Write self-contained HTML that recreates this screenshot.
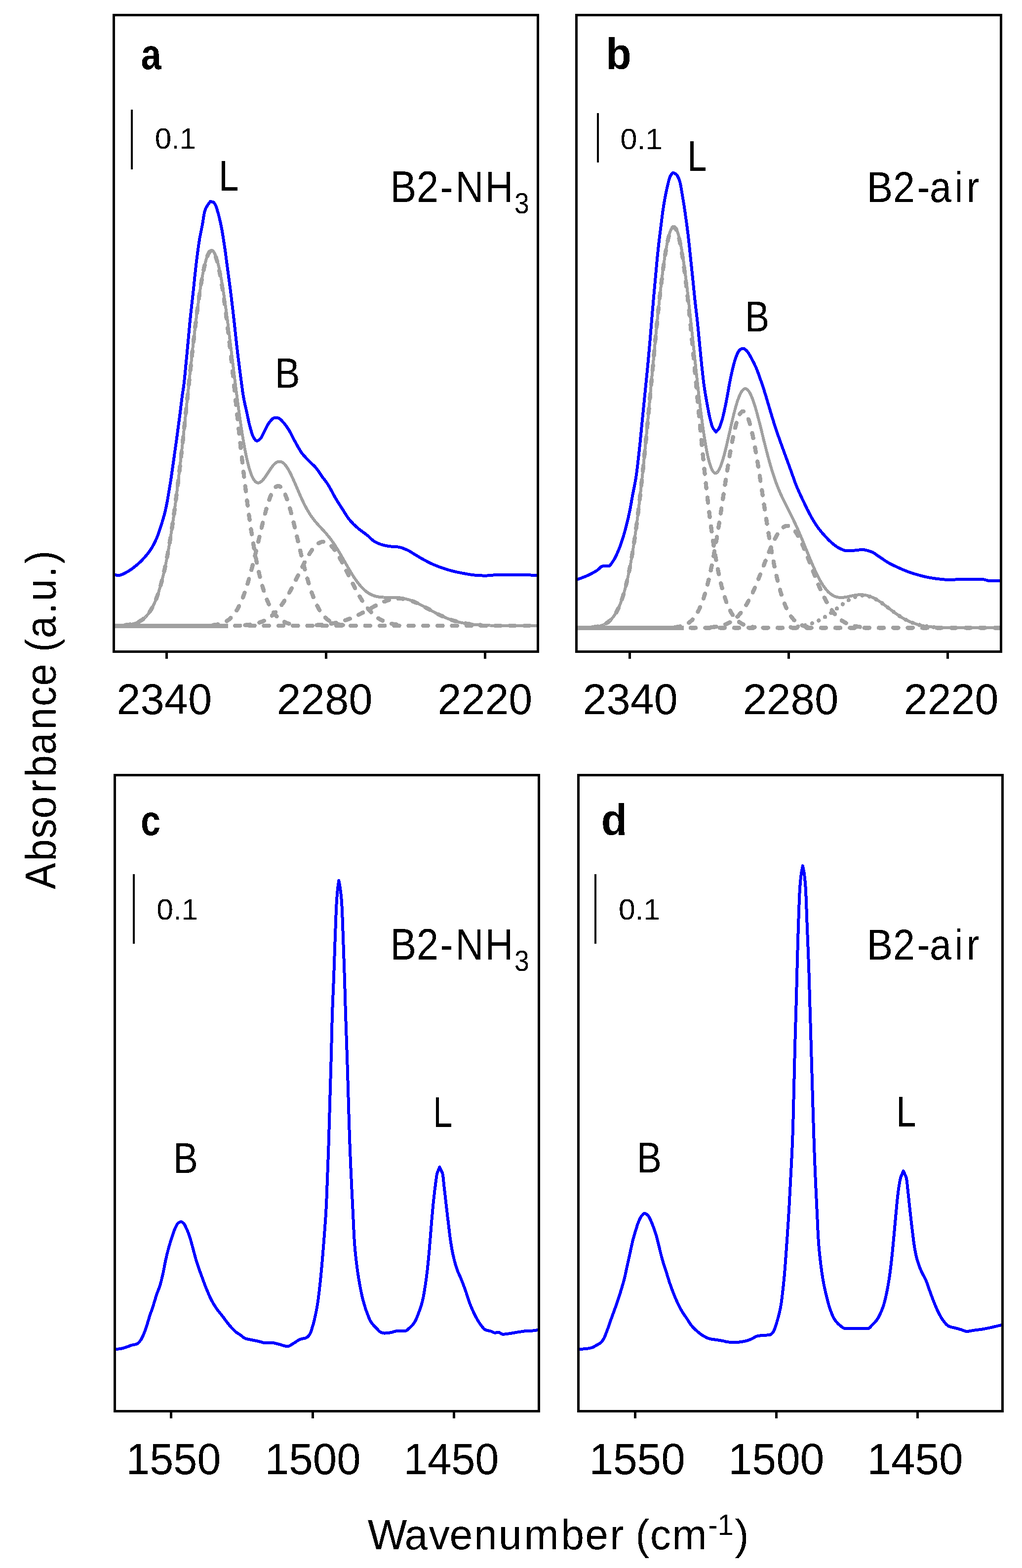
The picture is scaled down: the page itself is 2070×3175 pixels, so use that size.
<!DOCTYPE html>
<html lang="en"><head><meta charset="utf-8"><title>FTIR spectra</title>
<style>html,body{margin:0;padding:0;background:#fff}svg{display:block}text{font-family:"Liberation Sans",sans-serif;font-size:100px;fill:#000;font-kerning:none}</style></head><body>
<svg width="2070" height="3175" viewBox="0 0 2070 3175">
<rect width="2070" height="3175" fill="#fff"/>
<defs>
<clipPath id="clip-a"><rect x="230.5" y="30.5" width="859.0" height="1289.0"/></clipPath>
<clipPath id="clip-b"><rect x="1167.5" y="30.5" width="860.0" height="1289.0"/></clipPath>
<clipPath id="clip-c"><rect x="232.5" y="1569.5" width="859.0" height="1288.0"/></clipPath>
<clipPath id="clip-d"><rect x="1171.5" y="1569.5" width="859.0" height="1288.0"/></clipPath>
<filter id="bin" x="0" y="0" width="2070" height="3175" filterUnits="userSpaceOnUse" color-interpolation-filters="sRGB"><feComponentTransfer><feFuncA type="discrete" tableValues="0 1"/></feComponentTransfer></filter>
</defs>
<g clip-path="url(#clip-a)" fill="none" stroke="#a0a0a0" stroke-linejoin="round" shape-rendering="crispEdges">
<path d="M253.5 1265.8 L254.5 1265.7 L255.5 1265.6 L256.5 1265.5 L257.5 1265.4 L258.5 1265.2 L259.5 1265.1 L260.5 1265.0 L261.5 1264.8 L262.5 1264.7 L263.5 1264.5 L264.5 1264.3 L265.5 1264.1 L266.5 1263.9 L267.5 1263.7 L268.5 1263.5 L269.5 1263.2 L270.5 1263.0 L271.5 1262.7 L272.5 1262.4 L273.5 1262.1 L274.5 1261.8 L275.5 1261.4 L276.5 1261.1 L277.5 1260.7 L278.5 1260.3 L279.5 1259.8 L280.5 1259.4 L281.5 1258.9 L282.5 1258.4 L283.5 1257.8 L284.5 1257.2 L285.5 1256.6 L286.5 1256.0 L287.5 1255.3 L288.5 1254.6 L289.5 1253.9 L290.5 1253.1 L291.5 1252.2 L292.5 1251.4 L293.5 1250.4 L294.5 1249.5 L295.5 1248.5 L296.5 1247.4 L297.5 1246.3 L298.5 1245.1 L299.5 1243.9 L300.5 1242.6 L301.5 1241.3 L302.5 1239.9 L303.5 1238.4 L304.5 1236.9 L305.5 1235.2 L306.5 1233.6 L307.5 1231.8 L308.5 1230.0 L309.5 1228.1 L310.5 1226.1 L311.5 1224.0 L312.5 1221.9 L313.5 1219.6 L314.5 1217.3 L315.5 1214.8 L316.5 1212.3 L317.5 1209.7 L318.5 1207.0 L319.5 1204.1 L320.5 1201.2 L321.5 1198.2 L322.5 1195.0 L323.5 1191.7 L324.5 1188.4 L325.5 1184.9 L326.5 1181.2 L327.5 1177.5 L328.5 1173.6 L329.5 1169.7 L330.5 1165.5 L331.5 1161.3 L332.5 1156.9 L333.5 1152.4 L334.5 1147.8 L335.5 1143.0 L336.5 1138.1 L337.5 1133.0 L338.5 1127.8 L339.5 1122.5 L340.5 1117.0 L341.5 1111.4 L342.5 1105.6 L343.5 1099.7 L344.5 1093.7 L345.5 1087.5 L346.5 1081.2 L347.5 1074.7 L348.5 1068.1 L349.5 1061.3 L350.5 1054.4 L351.5 1047.4 L352.5 1040.2 L353.5 1032.9 L354.5 1025.5 L355.5 1017.9 L356.5 1010.2 L357.5 1002.4 L358.5 994.5 L359.5 986.4 L360.5 978.2 L361.5 969.9 L362.5 961.5 L363.5 953.0 L364.5 944.4 L365.5 935.6 L366.5 926.8 L367.5 917.9 L368.5 909.0 L369.5 899.9 L370.5 890.8 L371.5 881.6 L372.5 872.4 L373.5 863.1 L374.5 853.7 L375.5 844.4 L376.5 835.0 L377.5 825.5 L378.5 816.1 L379.5 806.6 L380.5 797.2 L381.5 787.7 L382.5 778.3 L383.5 768.9 L384.5 759.5 L385.5 750.2 L386.5 740.9 L387.5 731.7 L388.5 722.6 L389.5 713.5 L390.5 704.5 L391.5 695.6 L392.5 686.8 L393.5 678.2 L394.5 669.6 L395.5 661.2 L396.5 652.9 L397.5 644.8 L398.5 636.8 L399.5 629.0 L400.5 621.4 L401.5 613.9 L402.5 606.7 L403.5 599.6 L404.5 592.8 L405.5 586.1 L406.5 579.7 L407.5 573.6 L408.5 567.6 L409.5 561.9 L410.5 556.5 L411.5 551.3 L412.5 546.4 L413.5 541.8 L414.5 537.4 L415.5 533.4 L416.5 529.6 L417.5 526.1 L418.5 522.9 L419.5 520.0 L420.5 517.4 L421.5 515.1 L422.5 513.2 L423.5 511.5 L424.5 510.2 L425.5 509.2 L426.5 508.5 L427.5 508.1 L428.5 508.0 L429.5 508.3 L430.5 508.8 L431.5 509.7 L432.5 511.0 L433.5 512.5 L434.5 514.3 L435.5 516.5 L436.5 518.9 L437.5 521.7 L438.5 524.8 L439.5 528.2 L440.5 531.8 L441.5 535.8 L442.5 540.0 L443.5 544.5 L444.5 549.3 L445.5 554.4 L446.5 559.7 L447.5 565.3 L448.5 571.2 L449.5 577.2 L450.5 583.5 L451.5 590.1 L452.5 596.8 L453.5 603.8 L454.5 611.0 L455.5 618.4 L456.5 625.9 L457.5 633.7 L458.5 641.6 L459.5 649.6 L460.5 657.9 L461.5 666.2 L462.5 674.7 L463.5 683.4 L464.5 692.1 L465.5 700.9 L466.5 709.9 L467.5 718.9 L468.5 728.1 L469.5 737.2 L470.5 746.5 L471.5 755.8 L472.5 765.2 L473.5 774.6 L474.5 784.0 L475.5 793.4 L476.5 802.9 L477.5 812.3 L478.5 821.8 L479.5 831.2 L480.5 840.6 L481.5 850.0 L482.5 859.4 L483.5 868.7 L484.5 877.9 L485.5 887.1 L486.5 896.3 L487.5 905.4 L488.5 914.4 L489.5 923.3 L490.5 932.1 L491.5 940.9 L492.5 949.5 L493.5 958.1 L494.5 966.5 L495.5 974.9 L496.5 983.1 L497.5 991.2 L498.5 999.2 L499.5 1007.1 L500.5 1014.9 L501.5 1022.5 L502.5 1030.0 L503.5 1037.3 L504.5 1044.6 L505.5 1051.6 L506.5 1058.6 L507.5 1065.4 L508.5 1072.1 L509.5 1078.6 L510.5 1085.0 L511.5 1091.2 L512.5 1097.3 L513.5 1103.3 L514.5 1109.1 L515.5 1114.8 L516.5 1120.3 L517.5 1125.7 L518.5 1131.0 L519.5 1136.1 L520.5 1141.0 L521.5 1145.9 L522.5 1150.6 L523.5 1155.1 L524.5 1159.6 L525.5 1163.9 L526.5 1168.0 L527.5 1172.1 L528.5 1176.0 L529.5 1179.8 L530.5 1183.4 L531.5 1187.0 L532.5 1190.4 L533.5 1193.7 L534.5 1196.9 L535.5 1200.0 L536.5 1203.0 L537.5 1205.8 L538.5 1208.6 L539.5 1211.3 L540.5 1213.8 L541.5 1216.3 L542.5 1218.7 L543.5 1221.0 L544.5 1223.2 L545.5 1225.3 L546.5 1227.3 L547.5 1229.2 L548.5 1231.1 L549.5 1232.9 L550.5 1234.6 L551.5 1236.2 L552.5 1237.8 L553.5 1239.3 L554.5 1240.7 L555.5 1242.1 L556.5 1243.4 L557.5 1244.6 L558.5 1245.8 L559.5 1247.0 L560.5 1248.0 L561.5 1249.1 L562.5 1250.1 L563.5 1251.0 L564.5 1251.9 L565.5 1252.7 L566.5 1253.5 L567.5 1254.3 L568.5 1255.0 L569.5 1255.7 L570.5 1256.4 L571.5 1257.0 L572.5 1257.6 L573.5 1258.1 L574.5 1258.7 L575.5 1259.2 L576.5 1259.6 L577.5 1260.1 L578.5 1260.5 L579.5 1260.9 L580.5 1261.3 L581.5 1261.6 L582.5 1262.0 L583.5 1262.3 L584.5 1262.6 L585.5 1262.9 L586.5 1263.1 L587.5 1263.4 L588.5 1263.6 L589.5 1263.9 L590.5 1264.1 L591.5 1264.3 L592.5 1264.4 L593.5 1264.6 L594.5 1264.8 L595.5 1264.9 L596.5 1265.1 L597.5 1265.2 L598.5 1265.3 L599.5 1265.4 L600.5 1265.5 L601.5 1265.6 L602.5 1265.7" stroke-width="8.4" stroke-linecap="round" stroke-dasharray="10.3 19.0"/>
<path d="M431.5 1265.8 L432.5 1265.7 L433.5 1265.6 L434.5 1265.4 L435.5 1265.3 L436.5 1265.2 L437.5 1265.0 L438.5 1264.9 L439.5 1264.7 L440.5 1264.5 L441.5 1264.3 L442.5 1264.1 L443.5 1263.9 L444.5 1263.6 L445.5 1263.4 L446.5 1263.1 L447.5 1262.8 L448.5 1262.5 L449.5 1262.1 L450.5 1261.8 L451.5 1261.4 L452.5 1261.0 L453.5 1260.5 L454.5 1260.1 L455.5 1259.6 L456.5 1259.1 L457.5 1258.5 L458.5 1258.0 L459.5 1257.4 L460.5 1256.7 L461.5 1256.0 L462.5 1255.3 L463.5 1254.6 L464.5 1253.8 L465.5 1252.9 L466.5 1252.0 L467.5 1251.1 L468.5 1250.1 L469.5 1249.1 L470.5 1248.0 L471.5 1246.9 L472.5 1245.7 L473.5 1244.5 L474.5 1243.2 L475.5 1241.8 L476.5 1240.4 L477.5 1238.9 L478.5 1237.4 L479.5 1235.8 L480.5 1234.1 L481.5 1232.4 L482.5 1230.6 L483.5 1228.7 L484.5 1226.7 L485.5 1224.7 L486.5 1222.6 L487.5 1220.5 L488.5 1218.2 L489.5 1215.9 L490.5 1213.5 L491.5 1211.0 L492.5 1208.4 L493.5 1205.8 L494.5 1203.1 L495.5 1200.3 L496.5 1197.4 L497.5 1194.5 L498.5 1191.4 L499.5 1188.3 L500.5 1185.1 L501.5 1181.9 L502.5 1178.5 L503.5 1175.1 L504.5 1171.6 L505.5 1168.1 L506.5 1164.5 L507.5 1160.8 L508.5 1157.0 L509.5 1153.2 L510.5 1149.4 L511.5 1145.4 L512.5 1141.5 L513.5 1137.4 L514.5 1133.4 L515.5 1129.2 L516.5 1125.1 L517.5 1120.9 L518.5 1116.7 L519.5 1112.5 L520.5 1108.2 L521.5 1103.9 L522.5 1099.6 L523.5 1095.4 L524.5 1091.1 L525.5 1086.8 L526.5 1082.5 L527.5 1078.2 L528.5 1074.0 L529.5 1069.8 L530.5 1065.6 L531.5 1061.5 L532.5 1057.4 L533.5 1053.4 L534.5 1049.4 L535.5 1045.5 L536.5 1041.7 L537.5 1037.9 L538.5 1034.2 L539.5 1030.6 L540.5 1027.1 L541.5 1023.7 L542.5 1020.4 L543.5 1017.3 L544.5 1014.2 L545.5 1011.3 L546.5 1008.4 L547.5 1005.8 L548.5 1003.2 L549.5 1000.8 L550.5 998.6 L551.5 996.5 L552.5 994.5 L553.5 992.7 L554.5 991.1 L555.5 989.6 L556.5 988.3 L557.5 987.2 L558.5 986.2 L559.5 985.4 L560.5 984.8 L561.5 984.4 L562.5 984.1 L563.5 984.0 L564.5 984.1 L565.5 984.4 L566.5 984.8 L567.5 985.4 L568.5 986.2 L569.5 987.2 L570.5 988.3 L571.5 989.6 L572.5 991.1 L573.5 992.7 L574.5 994.5 L575.5 996.5 L576.5 998.6 L577.5 1000.8 L578.5 1003.2 L579.5 1005.8 L580.5 1008.4 L581.5 1011.3 L582.5 1014.2 L583.5 1017.3 L584.5 1020.4 L585.5 1023.7 L586.5 1027.1 L587.5 1030.6 L588.5 1034.2 L589.5 1037.9 L590.5 1041.7 L591.5 1045.5 L592.5 1049.4 L593.5 1053.4 L594.5 1057.4 L595.5 1061.5 L596.5 1065.6 L597.5 1069.8 L598.5 1074.0 L599.5 1078.2 L600.5 1082.5 L601.5 1086.8 L602.5 1091.1 L603.5 1095.4 L604.5 1099.6 L605.5 1103.9 L606.5 1108.2 L607.5 1112.5 L608.5 1116.7 L609.5 1120.9 L610.5 1125.1 L611.5 1129.2 L612.5 1133.4 L613.5 1137.4 L614.5 1141.5 L615.5 1145.4 L616.5 1149.4 L617.5 1153.2 L618.5 1157.0 L619.5 1160.8 L620.5 1164.5 L621.5 1168.1 L622.5 1171.6 L623.5 1175.1 L624.5 1178.5 L625.5 1181.9 L626.5 1185.1 L627.5 1188.3 L628.5 1191.4 L629.5 1194.5 L630.5 1197.4 L631.5 1200.3 L632.5 1203.1 L633.5 1205.8 L634.5 1208.4 L635.5 1211.0 L636.5 1213.5 L637.5 1215.9 L638.5 1218.2 L639.5 1220.5 L640.5 1222.6 L641.5 1224.7 L642.5 1226.7 L643.5 1228.7 L644.5 1230.6 L645.5 1232.4 L646.5 1234.1 L647.5 1235.8 L648.5 1237.4 L649.5 1238.9 L650.5 1240.4 L651.5 1241.8 L652.5 1243.2 L653.5 1244.5 L654.5 1245.7 L655.5 1246.9 L656.5 1248.0 L657.5 1249.1 L658.5 1250.1 L659.5 1251.1 L660.5 1252.0 L661.5 1252.9 L662.5 1253.8 L663.5 1254.6 L664.5 1255.3 L665.5 1256.0 L666.5 1256.7 L667.5 1257.4 L668.5 1258.0 L669.5 1258.5 L670.5 1259.1 L671.5 1259.6 L672.5 1260.1 L673.5 1260.5 L674.5 1261.0 L675.5 1261.4 L676.5 1261.8 L677.5 1262.1 L678.5 1262.5 L679.5 1262.8 L680.5 1263.1 L681.5 1263.4 L682.5 1263.6 L683.5 1263.9 L684.5 1264.1 L685.5 1264.3 L686.5 1264.5 L687.5 1264.7 L688.5 1264.9 L689.5 1265.0 L690.5 1265.2 L691.5 1265.3 L692.5 1265.4 L693.5 1265.6 L694.5 1265.7 L695.5 1265.8" stroke-width="8.4" stroke-linecap="round" stroke-dasharray="10.3 19.0"/>
<path d="M496.5 1265.7 L497.5 1265.7 L498.5 1265.6 L499.5 1265.5 L500.5 1265.4 L501.5 1265.3 L502.5 1265.2 L503.5 1265.1 L504.5 1265.0 L505.5 1264.8 L506.5 1264.7 L507.5 1264.6 L508.5 1264.4 L509.5 1264.3 L510.5 1264.1 L511.5 1264.0 L512.5 1263.8 L513.5 1263.6 L514.5 1263.4 L515.5 1263.2 L516.5 1263.0 L517.5 1262.8 L518.5 1262.5 L519.5 1262.3 L520.5 1262.0 L521.5 1261.8 L522.5 1261.5 L523.5 1261.2 L524.5 1260.9 L525.5 1260.6 L526.5 1260.2 L527.5 1259.9 L528.5 1259.5 L529.5 1259.2 L530.5 1258.8 L531.5 1258.4 L532.5 1257.9 L533.5 1257.5 L534.5 1257.0 L535.5 1256.5 L536.5 1256.0 L537.5 1255.5 L538.5 1255.0 L539.5 1254.4 L540.5 1253.9 L541.5 1253.3 L542.5 1252.6 L543.5 1252.0 L544.5 1251.3 L545.5 1250.6 L546.5 1249.9 L547.5 1249.2 L548.5 1248.4 L549.5 1247.7 L550.5 1246.8 L551.5 1246.0 L552.5 1245.2 L553.5 1244.3 L554.5 1243.3 L555.5 1242.4 L556.5 1241.4 L557.5 1240.4 L558.5 1239.4 L559.5 1238.4 L560.5 1237.3 L561.5 1236.2 L562.5 1235.0 L563.5 1233.9 L564.5 1232.7 L565.5 1231.4 L566.5 1230.2 L567.5 1228.9 L568.5 1227.6 L569.5 1226.2 L570.5 1224.8 L571.5 1223.4 L572.5 1222.0 L573.5 1220.5 L574.5 1219.0 L575.5 1217.5 L576.5 1216.0 L577.5 1214.4 L578.5 1212.8 L579.5 1211.2 L580.5 1209.5 L581.5 1207.8 L582.5 1206.1 L583.5 1204.4 L584.5 1202.6 L585.5 1200.8 L586.5 1199.0 L587.5 1197.2 L588.5 1195.3 L589.5 1193.4 L590.5 1191.6 L591.5 1189.6 L592.5 1187.7 L593.5 1185.8 L594.5 1183.8 L595.5 1181.8 L596.5 1179.9 L597.5 1177.9 L598.5 1175.9 L599.5 1173.8 L600.5 1171.8 L601.5 1169.8 L602.5 1167.8 L603.5 1165.7 L604.5 1163.7 L605.5 1161.6 L606.5 1159.6 L607.5 1157.6 L608.5 1155.6 L609.5 1153.5 L610.5 1151.5 L611.5 1149.5 L612.5 1147.5 L613.5 1145.6 L614.5 1143.6 L615.5 1141.7 L616.5 1139.7 L617.5 1137.8 L618.5 1135.9 L619.5 1134.1 L620.5 1132.3 L621.5 1130.5 L622.5 1128.7 L623.5 1126.9 L624.5 1125.2 L625.5 1123.6 L626.5 1121.9 L627.5 1120.3 L628.5 1118.8 L629.5 1117.3 L630.5 1115.8 L631.5 1114.4 L632.5 1113.0 L633.5 1111.7 L634.5 1110.4 L635.5 1109.2 L636.5 1108.0 L637.5 1106.9 L638.5 1105.8 L639.5 1104.8 L640.5 1103.8 L641.5 1102.9 L642.5 1102.1 L643.5 1101.3 L644.5 1100.6 L645.5 1100.0 L646.5 1099.4 L647.5 1098.9 L648.5 1098.4 L649.5 1098.0 L650.5 1097.7 L651.5 1097.4 L652.5 1097.2 L653.5 1097.1 L654.5 1097.0 L655.5 1097.0 L656.5 1097.1 L657.5 1097.2 L658.5 1097.4 L659.5 1097.7 L660.5 1098.0 L661.5 1098.4 L662.5 1098.9 L663.5 1099.4 L664.5 1100.0 L665.5 1100.6 L666.5 1101.3 L667.5 1102.1 L668.5 1102.9 L669.5 1103.8 L670.5 1104.8 L671.5 1105.8 L672.5 1106.9 L673.5 1108.0 L674.5 1109.2 L675.5 1110.4 L676.5 1111.7 L677.5 1113.0 L678.5 1114.4 L679.5 1115.8 L680.5 1117.3 L681.5 1118.8 L682.5 1120.3 L683.5 1121.9 L684.5 1123.6 L685.5 1125.2 L686.5 1126.9 L687.5 1128.7 L688.5 1130.5 L689.5 1132.3 L690.5 1134.1 L691.5 1135.9 L692.5 1137.8 L693.5 1139.7 L694.5 1141.7 L695.5 1143.6 L696.5 1145.6 L697.5 1147.5 L698.5 1149.5 L699.5 1151.5 L700.5 1153.5 L701.5 1155.6 L702.5 1157.6 L703.5 1159.6 L704.5 1161.6 L705.5 1163.7 L706.5 1165.7 L707.5 1167.8 L708.5 1169.8 L709.5 1171.8 L710.5 1173.8 L711.5 1175.9 L712.5 1177.9 L713.5 1179.9 L714.5 1181.8 L715.5 1183.8 L716.5 1185.8 L717.5 1187.7 L718.5 1189.6 L719.5 1191.6 L720.5 1193.4 L721.5 1195.3 L722.5 1197.2 L723.5 1199.0 L724.5 1200.8 L725.5 1202.6 L726.5 1204.4 L727.5 1206.1 L728.5 1207.8 L729.5 1209.5 L730.5 1211.2 L731.5 1212.8 L732.5 1214.4 L733.5 1216.0 L734.5 1217.5 L735.5 1219.0 L736.5 1220.5 L737.5 1222.0 L738.5 1223.4 L739.5 1224.8 L740.5 1226.2 L741.5 1227.6 L742.5 1228.9 L743.5 1230.2 L744.5 1231.4 L745.5 1232.7 L746.5 1233.9 L747.5 1235.0 L748.5 1236.2 L749.5 1237.3 L750.5 1238.4 L751.5 1239.4 L752.5 1240.4 L753.5 1241.4 L754.5 1242.4 L755.5 1243.3 L756.5 1244.3 L757.5 1245.2 L758.5 1246.0 L759.5 1246.8 L760.5 1247.7 L761.5 1248.4 L762.5 1249.2 L763.5 1249.9 L764.5 1250.6 L765.5 1251.3 L766.5 1252.0 L767.5 1252.6 L768.5 1253.3 L769.5 1253.9 L770.5 1254.4 L771.5 1255.0 L772.5 1255.5 L773.5 1256.0 L774.5 1256.5 L775.5 1257.0 L776.5 1257.5 L777.5 1257.9 L778.5 1258.4 L779.5 1258.8 L780.5 1259.2 L781.5 1259.5 L782.5 1259.9 L783.5 1260.2 L784.5 1260.6 L785.5 1260.9 L786.5 1261.2 L787.5 1261.5 L788.5 1261.8 L789.5 1262.0 L790.5 1262.3 L791.5 1262.5 L792.5 1262.8 L793.5 1263.0 L794.5 1263.2 L795.5 1263.4 L796.5 1263.6 L797.5 1263.8 L798.5 1264.0 L799.5 1264.1 L800.5 1264.3 L801.5 1264.4 L802.5 1264.6 L803.5 1264.7 L804.5 1264.8 L805.5 1265.0 L806.5 1265.1 L807.5 1265.2 L808.5 1265.3 L809.5 1265.4 L810.5 1265.5 L811.5 1265.6 L812.5 1265.7 L813.5 1265.7" stroke-width="8.4" stroke-linecap="round" stroke-dasharray="10.3 19.0"/>
<path d="M641.5 1265.8 L642.5 1265.7 L643.5 1265.6 L644.5 1265.6 L645.5 1265.5 L646.5 1265.4 L647.5 1265.4 L648.5 1265.3 L649.5 1265.2 L650.5 1265.1 L651.5 1265.1 L652.5 1265.0 L653.5 1264.9 L654.5 1264.8 L655.5 1264.7 L656.5 1264.6 L657.5 1264.5 L658.5 1264.4 L659.5 1264.3 L660.5 1264.2 L661.5 1264.1 L662.5 1263.9 L663.5 1263.8 L664.5 1263.7 L665.5 1263.6 L666.5 1263.4 L667.5 1263.3 L668.5 1263.1 L669.5 1263.0 L670.5 1262.8 L671.5 1262.7 L672.5 1262.5 L673.5 1262.4 L674.5 1262.2 L675.5 1262.0 L676.5 1261.8 L677.5 1261.6 L678.5 1261.4 L679.5 1261.2 L680.5 1261.0 L681.5 1260.8 L682.5 1260.6 L683.5 1260.4 L684.5 1260.2 L685.5 1259.9 L686.5 1259.7 L687.5 1259.4 L688.5 1259.2 L689.5 1258.9 L690.5 1258.7 L691.5 1258.4 L692.5 1258.1 L693.5 1257.8 L694.5 1257.5 L695.5 1257.2 L696.5 1256.9 L697.5 1256.6 L698.5 1256.3 L699.5 1256.0 L700.5 1255.7 L701.5 1255.3 L702.5 1255.0 L703.5 1254.6 L704.5 1254.3 L705.5 1253.9 L706.5 1253.5 L707.5 1253.2 L708.5 1252.8 L709.5 1252.4 L710.5 1252.0 L711.5 1251.6 L712.5 1251.2 L713.5 1250.8 L714.5 1250.3 L715.5 1249.9 L716.5 1249.5 L717.5 1249.0 L718.5 1248.6 L719.5 1248.1 L720.5 1247.7 L721.5 1247.2 L722.5 1246.7 L723.5 1246.3 L724.5 1245.8 L725.5 1245.3 L726.5 1244.8 L727.5 1244.3 L728.5 1243.8 L729.5 1243.3 L730.5 1242.8 L731.5 1242.3 L732.5 1241.8 L733.5 1241.2 L734.5 1240.7 L735.5 1240.2 L736.5 1239.6 L737.5 1239.1 L738.5 1238.6 L739.5 1238.0 L740.5 1237.5 L741.5 1236.9 L742.5 1236.4 L743.5 1235.8 L744.5 1235.3 L745.5 1234.7 L746.5 1234.2 L747.5 1233.6 L748.5 1233.1 L749.5 1232.5 L750.5 1232.0 L751.5 1231.4 L752.5 1230.9 L753.5 1230.3 L754.5 1229.8 L755.5 1229.3 L756.5 1228.7 L757.5 1228.2 L758.5 1227.6 L759.5 1227.1 L760.5 1226.6 L761.5 1226.1 L762.5 1225.5 L763.5 1225.0 L764.5 1224.5 L765.5 1224.0 L766.5 1223.5 L767.5 1223.0 L768.5 1222.6 L769.5 1222.1 L770.5 1221.6 L771.5 1221.2 L772.5 1220.7 L773.5 1220.3 L774.5 1219.8 L775.5 1219.4 L776.5 1219.0 L777.5 1218.6 L778.5 1218.2 L779.5 1217.8 L780.5 1217.4 L781.5 1217.0 L782.5 1216.7 L783.5 1216.3 L784.5 1216.0 L785.5 1215.7 L786.5 1215.4 L787.5 1215.1 L788.5 1214.8 L789.5 1214.5 L790.5 1214.3 L791.5 1214.0 L792.5 1213.8 L793.5 1213.6 L794.5 1213.4 L795.5 1213.2 L796.5 1213.0 L797.5 1212.8 L798.5 1212.7 L799.5 1212.5 L800.5 1212.4 L801.5 1212.3 L802.5 1212.2 L803.5 1212.2 L804.5 1212.1 L805.5 1212.0 L806.5 1212.0 L807.5 1212.0 L808.5 1212.0 L809.5 1212.0 L810.5 1212.0 L811.5 1212.1 L812.5 1212.2 L813.5 1212.2 L814.5 1212.3 L815.5 1212.4 L816.5 1212.5 L817.5 1212.7 L818.5 1212.8 L819.5 1213.0 L820.5 1213.2 L821.5 1213.4 L822.5 1213.6 L823.5 1213.8 L824.5 1214.0 L825.5 1214.3 L826.5 1214.5 L827.5 1214.8 L828.5 1215.1 L829.5 1215.4 L830.5 1215.7 L831.5 1216.0 L832.5 1216.3 L833.5 1216.7 L834.5 1217.0 L835.5 1217.4 L836.5 1217.8 L837.5 1218.2 L838.5 1218.6 L839.5 1219.0 L840.5 1219.4 L841.5 1219.8 L842.5 1220.3 L843.5 1220.7 L844.5 1221.2 L845.5 1221.6 L846.5 1222.1 L847.5 1222.6 L848.5 1223.0 L849.5 1223.5 L850.5 1224.0 L851.5 1224.5 L852.5 1225.0 L853.5 1225.5 L854.5 1226.1 L855.5 1226.6 L856.5 1227.1 L857.5 1227.6 L858.5 1228.2 L859.5 1228.7 L860.5 1229.3 L861.5 1229.8 L862.5 1230.3 L863.5 1230.9 L864.5 1231.4 L865.5 1232.0 L866.5 1232.5 L867.5 1233.1 L868.5 1233.6 L869.5 1234.2 L870.5 1234.7 L871.5 1235.3 L872.5 1235.8 L873.5 1236.4 L874.5 1236.9 L875.5 1237.5 L876.5 1238.0 L877.5 1238.6 L878.5 1239.1 L879.5 1239.6 L880.5 1240.2 L881.5 1240.7 L882.5 1241.2 L883.5 1241.8 L884.5 1242.3 L885.5 1242.8 L886.5 1243.3 L887.5 1243.8 L888.5 1244.3 L889.5 1244.8 L890.5 1245.3 L891.5 1245.8 L892.5 1246.3 L893.5 1246.7 L894.5 1247.2 L895.5 1247.7 L896.5 1248.1 L897.5 1248.6 L898.5 1249.0 L899.5 1249.5 L900.5 1249.9 L901.5 1250.3 L902.5 1250.8 L903.5 1251.2 L904.5 1251.6 L905.5 1252.0 L906.5 1252.4 L907.5 1252.8 L908.5 1253.2 L909.5 1253.5 L910.5 1253.9 L911.5 1254.3 L912.5 1254.6 L913.5 1255.0 L914.5 1255.3 L915.5 1255.7 L916.5 1256.0 L917.5 1256.3 L918.5 1256.6 L919.5 1256.9 L920.5 1257.2 L921.5 1257.5 L922.5 1257.8 L923.5 1258.1 L924.5 1258.4 L925.5 1258.7 L926.5 1258.9 L927.5 1259.2 L928.5 1259.4 L929.5 1259.7 L930.5 1259.9 L931.5 1260.2 L932.5 1260.4 L933.5 1260.6 L934.5 1260.8 L935.5 1261.0 L936.5 1261.2 L937.5 1261.4 L938.5 1261.6 L939.5 1261.8 L940.5 1262.0 L941.5 1262.2 L942.5 1262.4 L943.5 1262.5 L944.5 1262.7 L945.5 1262.8 L946.5 1263.0 L947.5 1263.1 L948.5 1263.3 L949.5 1263.4 L950.5 1263.6 L951.5 1263.7 L952.5 1263.8 L953.5 1263.9 L954.5 1264.1 L955.5 1264.2 L956.5 1264.3 L957.5 1264.4 L958.5 1264.5 L959.5 1264.6 L960.5 1264.7 L961.5 1264.8 L962.5 1264.9 L963.5 1265.0 L964.5 1265.1 L965.5 1265.1 L966.5 1265.2 L967.5 1265.3 L968.5 1265.4 L969.5 1265.4 L970.5 1265.5 L971.5 1265.6 L972.5 1265.6 L973.5 1265.7 L974.5 1265.8" stroke-width="8.4" stroke-linecap="round" stroke-dasharray="10.3 19.0"/>
<path d="M230.0 1267.0 L462.0 1267.0" stroke-width="9.0" />
<path d="M476.0 1267.0 L1090.0 1267.0" stroke-width="8.4" stroke-linecap="round" stroke-dasharray="10.3 19.0"/>
<path d="M230.5 1266.8 L231.5 1266.8 L232.5 1266.8 L233.5 1266.7 L234.5 1266.7 L235.5 1266.7 L236.5 1266.7 L237.5 1266.6 L238.5 1266.6 L239.5 1266.6 L240.5 1266.5 L241.5 1266.5 L242.5 1266.5 L243.5 1266.4 L244.5 1266.4 L245.5 1266.3 L246.5 1266.3 L247.5 1266.2 L248.5 1266.2 L249.5 1266.1 L250.5 1266.0 L251.5 1265.9 L252.5 1265.9 L253.5 1265.8 L254.5 1265.7 L255.5 1265.6 L256.5 1265.5 L257.5 1265.4 L258.5 1265.2 L259.5 1265.1 L260.5 1265.0 L261.5 1264.8 L262.5 1264.7 L263.5 1264.5 L264.5 1264.3 L265.5 1264.1 L266.5 1263.9 L267.5 1263.7 L268.5 1263.5 L269.5 1263.2 L270.5 1263.0 L271.5 1262.7 L272.5 1262.4 L273.5 1262.1 L274.5 1261.8 L275.5 1261.4 L276.5 1261.1 L277.5 1260.7 L278.5 1260.3 L279.5 1259.8 L280.5 1259.4 L281.5 1258.9 L282.5 1258.4 L283.5 1257.8 L284.5 1257.2 L285.5 1256.6 L286.5 1256.0 L287.5 1255.3 L288.5 1254.6 L289.5 1253.9 L290.5 1253.1 L291.5 1252.2 L292.5 1251.4 L293.5 1250.4 L294.5 1249.5 L295.5 1248.5 L296.5 1247.4 L297.5 1246.3 L298.5 1245.1 L299.5 1243.9 L300.5 1242.6 L301.5 1241.3 L302.5 1239.9 L303.5 1238.4 L304.5 1236.9 L305.5 1235.2 L306.5 1233.6 L307.5 1231.8 L308.5 1230.0 L309.5 1228.1 L310.5 1226.1 L311.5 1224.0 L312.5 1221.9 L313.5 1219.6 L314.5 1217.3 L315.5 1214.8 L316.5 1212.3 L317.5 1209.7 L318.5 1207.0 L319.5 1204.1 L320.5 1201.2 L321.5 1198.2 L322.5 1195.0 L323.5 1191.7 L324.5 1188.4 L325.5 1184.9 L326.5 1181.2 L327.5 1177.5 L328.5 1173.6 L329.5 1169.7 L330.5 1165.5 L331.5 1161.3 L332.5 1156.9 L333.5 1152.4 L334.5 1147.8 L335.5 1143.0 L336.5 1138.1 L337.5 1133.0 L338.5 1127.8 L339.5 1122.5 L340.5 1117.0 L341.5 1111.4 L342.5 1105.6 L343.5 1099.7 L344.5 1093.7 L345.5 1087.5 L346.5 1081.2 L347.5 1074.7 L348.5 1068.1 L349.5 1061.3 L350.5 1054.4 L351.5 1047.4 L352.5 1040.2 L353.5 1032.9 L354.5 1025.5 L355.5 1017.9 L356.5 1010.2 L357.5 1002.4 L358.5 994.5 L359.5 986.4 L360.5 978.2 L361.5 969.9 L362.5 961.5 L363.5 953.0 L364.5 944.4 L365.5 935.6 L366.5 926.8 L367.5 917.9 L368.5 909.0 L369.5 899.9 L370.5 890.8 L371.5 881.6 L372.5 872.4 L373.5 863.1 L374.5 853.7 L375.5 844.4 L376.5 835.0 L377.5 825.5 L378.5 816.1 L379.5 806.6 L380.5 797.2 L381.5 787.7 L382.5 778.3 L383.5 768.9 L384.5 759.5 L385.5 750.2 L386.5 740.9 L387.5 731.7 L388.5 722.6 L389.5 713.5 L390.5 704.5 L391.5 695.6 L392.5 686.8 L393.5 678.1 L394.5 669.6 L395.5 661.1 L396.5 652.9 L397.5 644.7 L398.5 636.7 L399.5 628.9 L400.5 621.3 L401.5 613.8 L402.5 606.6 L403.5 599.5 L404.5 592.7 L405.5 586.0 L406.5 579.6 L407.5 573.4 L408.5 567.5 L409.5 561.8 L410.5 556.3 L411.5 551.1 L412.5 546.2 L413.5 541.5 L414.5 537.2 L415.5 533.1 L416.5 529.3 L417.5 525.7 L418.5 522.5 L419.5 519.6 L420.5 516.9 L421.5 514.6 L422.5 512.6 L423.5 510.9 L424.5 509.5 L425.5 508.4 L426.5 507.7 L427.5 507.2 L428.5 507.1 L429.5 507.2 L430.5 507.7 L431.5 508.5 L432.5 509.6 L433.5 511.0 L434.5 512.8 L435.5 514.8 L436.5 517.1 L437.5 519.7 L438.5 522.6 L439.5 525.8 L440.5 529.3 L441.5 533.1 L442.5 537.1 L443.5 541.4 L444.5 545.9 L445.5 550.7 L446.5 555.8 L447.5 561.1 L448.5 566.6 L449.5 572.3 L450.5 578.3 L451.5 584.4 L452.5 590.8 L453.5 597.3 L454.5 604.0 L455.5 610.9 L456.5 617.9 L457.5 625.1 L458.5 632.4 L459.5 639.9 L460.5 647.5 L461.5 655.1 L462.5 662.9 L463.5 670.8 L464.5 678.7 L465.5 686.7 L466.5 694.8 L467.5 702.9 L468.5 711.0 L469.5 719.2 L470.5 727.3 L471.5 735.5 L472.5 743.6 L473.5 751.8 L474.5 759.9 L475.5 767.9 L476.5 775.9 L477.5 783.9 L478.5 791.8 L479.5 799.6 L480.5 807.3 L481.5 814.9 L482.5 822.4 L483.5 829.8 L484.5 837.1 L485.5 844.2 L486.5 851.2 L487.5 858.1 L488.5 864.8 L489.5 871.4 L490.5 877.7 L491.5 884.0 L492.5 890.0 L493.5 895.8 L494.5 901.5 L495.5 907.0 L496.5 912.3 L497.5 917.4 L498.5 922.2 L499.5 926.9 L500.5 931.4 L501.5 935.6 L502.5 939.7 L503.5 943.5 L504.5 947.2 L505.5 950.6 L506.5 953.8 L507.5 956.8 L508.5 959.5 L509.5 962.1 L510.5 964.5 L511.5 966.6 L512.5 968.6 L513.5 970.3 L514.5 971.9 L515.5 973.2 L516.5 974.4 L517.5 975.4 L518.5 976.2 L519.5 976.8 L520.5 977.3 L521.5 977.6 L522.5 977.7 L523.5 977.7 L524.5 977.5 L525.5 977.2 L526.5 976.8 L527.5 976.2 L528.5 975.5 L529.5 974.7 L530.5 973.8 L531.5 972.8 L532.5 971.7 L533.5 970.6 L534.5 969.3 L535.5 968.0 L536.5 966.7 L537.5 965.3 L538.5 963.8 L539.5 962.3 L540.5 960.8 L541.5 959.3 L542.5 957.8 L543.5 956.2 L544.5 954.7 L545.5 953.2 L546.5 951.7 L547.5 950.2 L548.5 948.7 L549.5 947.3 L550.5 946.0 L551.5 944.7 L552.5 943.4 L553.5 942.2 L554.5 941.1 L555.5 940.1 L556.5 939.1 L557.5 938.2 L558.5 937.4 L559.5 936.7 L560.5 936.1 L561.5 935.6 L562.5 935.2 L563.5 934.8 L564.5 934.6 L565.5 934.5 L566.5 934.5 L567.5 934.6 L568.5 934.8 L569.5 935.1 L570.5 935.5 L571.5 936.0 L572.5 936.6 L573.5 937.4 L574.5 938.2 L575.5 939.1 L576.5 940.1 L577.5 941.3 L578.5 942.5 L579.5 943.8 L580.5 945.2 L581.5 946.7 L582.5 948.2 L583.5 949.9 L584.5 951.6 L585.5 953.4 L586.5 955.2 L587.5 957.1 L588.5 959.1 L589.5 961.1 L590.5 963.2 L591.5 965.3 L592.5 967.5 L593.5 969.7 L594.5 971.9 L595.5 974.2 L596.5 976.4 L597.5 978.7 L598.5 981.1 L599.5 983.4 L600.5 985.7 L601.5 988.1 L602.5 990.4 L603.5 992.7 L604.5 995.1 L605.5 997.4 L606.5 999.7 L607.5 1002.0 L608.5 1004.2 L609.5 1006.5 L610.5 1008.7 L611.5 1010.9 L612.5 1013.0 L613.5 1015.1 L614.5 1017.2 L615.5 1019.3 L616.5 1021.3 L617.5 1023.3 L618.5 1025.2 L619.5 1027.1 L620.5 1029.0 L621.5 1030.8 L622.5 1032.6 L623.5 1034.3 L624.5 1036.0 L625.5 1037.6 L626.5 1039.3 L627.5 1040.8 L628.5 1042.4 L629.5 1043.9 L630.5 1045.3 L631.5 1046.8 L632.5 1048.1 L633.5 1049.5 L634.5 1050.8 L635.5 1052.1 L636.5 1053.4 L637.5 1054.6 L638.5 1055.9 L639.5 1057.0 L640.5 1058.2 L641.5 1059.4 L642.5 1060.5 L643.5 1061.6 L644.5 1062.7 L645.5 1063.8 L646.5 1064.9 L647.5 1066.0 L648.5 1067.1 L649.5 1068.1 L650.5 1069.2 L651.5 1070.3 L652.5 1071.4 L653.5 1072.4 L654.5 1073.5 L655.5 1074.6 L656.5 1075.7 L657.5 1076.8 L658.5 1077.9 L659.5 1079.1 L660.5 1080.2 L661.5 1081.4 L662.5 1082.6 L663.5 1083.8 L664.5 1085.0 L665.5 1086.2 L666.5 1087.5 L667.5 1088.8 L668.5 1090.1 L669.5 1091.4 L670.5 1092.7 L671.5 1094.1 L672.5 1095.5 L673.5 1096.9 L674.5 1098.3 L675.5 1099.8 L676.5 1101.3 L677.5 1102.8 L678.5 1104.3 L679.5 1105.8 L680.5 1107.4 L681.5 1109.0 L682.5 1110.6 L683.5 1112.2 L684.5 1113.8 L685.5 1115.5 L686.5 1117.1 L687.5 1118.8 L688.5 1120.5 L689.5 1122.2 L690.5 1123.9 L691.5 1125.6 L692.5 1127.4 L693.5 1129.1 L694.5 1130.9 L695.5 1132.6 L696.5 1134.4 L697.5 1136.1 L698.5 1137.9 L699.5 1139.6 L700.5 1141.4 L701.5 1143.1 L702.5 1144.9 L703.5 1146.6 L704.5 1148.4 L705.5 1150.1 L706.5 1151.8 L707.5 1153.5 L708.5 1155.2 L709.5 1156.8 L710.5 1158.5 L711.5 1160.1 L712.5 1161.8 L713.5 1163.4 L714.5 1165.0 L715.5 1166.5 L716.5 1168.1 L717.5 1169.6 L718.5 1171.1 L719.5 1172.5 L720.5 1174.0 L721.5 1175.4 L722.5 1176.8 L723.5 1178.2 L724.5 1179.5 L725.5 1180.8 L726.5 1182.1 L727.5 1183.3 L728.5 1184.6 L729.5 1185.7 L730.5 1186.9 L731.5 1188.0 L732.5 1189.1 L733.5 1190.2 L734.5 1191.2 L735.5 1192.2 L736.5 1193.2 L737.5 1194.1 L738.5 1195.0 L739.5 1195.9 L740.5 1196.7 L741.5 1197.5 L742.5 1198.3 L743.5 1199.0 L744.5 1199.7 L745.5 1200.4 L746.5 1201.0 L747.5 1201.7 L748.5 1202.3 L749.5 1202.8 L750.5 1203.3 L751.5 1203.8 L752.5 1204.3 L753.5 1204.8 L754.5 1205.2 L755.5 1205.6 L756.5 1206.0 L757.5 1206.3 L758.5 1206.7 L759.5 1207.0 L760.5 1207.2 L761.5 1207.5 L762.5 1207.7 L763.5 1208.0 L764.5 1208.2 L765.5 1208.4 L766.5 1208.5 L767.5 1208.7 L768.5 1208.8 L769.5 1208.9 L770.5 1209.1 L771.5 1209.1 L772.5 1209.2 L773.5 1209.3 L774.5 1209.4 L775.5 1209.4 L776.5 1209.5 L777.5 1209.5 L778.5 1209.5 L779.5 1209.5 L780.5 1209.6 L781.5 1209.6 L782.5 1209.6 L783.5 1209.6 L784.5 1209.6 L785.5 1209.6 L786.5 1209.6 L787.5 1209.6 L788.5 1209.5 L789.5 1209.5 L790.5 1209.5 L791.5 1209.5 L792.5 1209.5 L793.5 1209.5 L794.5 1209.6 L795.5 1209.6 L796.5 1209.6 L797.5 1209.6 L798.5 1209.6 L799.5 1209.7 L800.5 1209.7 L801.5 1209.7 L802.5 1209.8 L803.5 1209.9 L804.5 1209.9 L805.5 1210.0 L806.5 1210.1 L807.5 1210.2 L808.5 1210.3 L809.5 1210.4 L810.5 1210.5 L811.5 1210.7 L812.5 1210.8 L813.5 1211.0 L814.5 1211.1 L815.5 1211.3 L816.5 1211.5 L817.5 1211.7 L818.5 1211.9 L819.5 1212.1 L820.5 1212.4 L821.5 1212.6 L822.5 1212.8 L823.5 1213.1 L824.5 1213.4 L825.5 1213.7 L826.5 1214.0 L827.5 1214.3 L828.5 1214.6 L829.5 1214.9 L830.5 1215.3 L831.5 1215.6 L832.5 1216.0 L833.5 1216.3 L834.5 1216.7 L835.5 1217.1 L836.5 1217.5 L837.5 1217.9 L838.5 1218.3 L839.5 1218.8 L840.5 1219.2 L841.5 1219.6 L842.5 1220.1 L843.5 1220.5 L844.5 1221.0 L845.5 1221.5 L846.5 1221.9 L847.5 1222.4 L848.5 1222.9 L849.5 1223.4 L850.5 1223.9 L851.5 1224.4 L852.5 1225.0 L853.5 1225.5 L854.5 1226.0 L855.5 1226.5 L856.5 1227.1 L857.5 1227.6 L858.5 1228.1 L859.5 1228.7 L860.5 1229.2 L861.5 1229.8 L862.5 1230.3 L863.5 1230.9 L864.5 1231.4 L865.5 1232.0 L866.5 1232.5 L867.5 1233.1 L868.5 1233.6 L869.5 1234.2 L870.5 1234.7 L871.5 1235.3 L872.5 1235.8 L873.5 1236.4 L874.5 1236.9 L875.5 1237.5 L876.5 1238.0 L877.5 1238.6 L878.5 1239.1 L879.5 1239.6 L880.5 1240.2 L881.5 1240.7 L882.5 1241.2 L883.5 1241.7 L884.5 1242.3 L885.5 1242.8 L886.5 1243.3 L887.5 1243.8 L888.5 1244.3 L889.5 1244.8 L890.5 1245.3 L891.5 1245.8 L892.5 1246.3 L893.5 1246.7 L894.5 1247.2 L895.5 1247.7 L896.5 1248.1 L897.5 1248.6 L898.5 1249.0 L899.5 1249.5 L900.5 1249.9 L901.5 1250.3 L902.5 1250.8 L903.5 1251.2 L904.5 1251.6 L905.5 1252.0 L906.5 1252.4 L907.5 1252.8 L908.5 1253.2 L909.5 1253.5 L910.5 1253.9 L911.5 1254.3 L912.5 1254.6 L913.5 1255.0 L914.5 1255.3 L915.5 1255.7 L916.5 1256.0 L917.5 1256.3 L918.5 1256.6 L919.5 1256.9 L920.5 1257.2 L921.5 1257.5 L922.5 1257.8 L923.5 1258.1 L924.5 1258.4 L925.5 1258.7 L926.5 1258.9 L927.5 1259.2 L928.5 1259.4 L929.5 1259.7 L930.5 1259.9 L931.5 1260.2 L932.5 1260.4 L933.5 1260.6 L934.5 1260.8 L935.5 1261.0 L936.5 1261.2 L937.5 1261.4 L938.5 1261.6 L939.5 1261.8 L940.5 1262.0 L941.5 1262.2 L942.5 1262.4 L943.5 1262.5 L944.5 1262.7 L945.5 1262.8 L946.5 1263.0 L947.5 1263.1 L948.5 1263.3 L949.5 1263.4 L950.5 1263.6 L951.5 1263.7 L952.5 1263.8 L953.5 1263.9 L954.5 1264.1 L955.5 1264.2 L956.5 1264.3 L957.5 1264.4 L958.5 1264.5 L959.5 1264.6 L960.5 1264.7 L961.5 1264.8 L962.5 1264.9 L963.5 1265.0 L964.5 1265.1 L965.5 1265.1 L966.5 1265.2 L967.5 1265.3 L968.5 1265.4 L969.5 1265.4 L970.5 1265.5 L971.5 1265.6 L972.5 1265.6 L973.5 1265.7 L974.5 1265.8 L975.5 1265.8 L976.5 1265.9 L977.5 1265.9 L978.5 1266.0 L979.5 1266.0 L980.5 1266.1 L981.5 1266.1 L982.5 1266.1 L983.5 1266.2 L984.5 1266.2 L985.5 1266.3 L986.5 1266.3 L987.5 1266.3 L988.5 1266.4 L989.5 1266.4 L990.5 1266.4 L991.5 1266.4 L992.5 1266.5 L993.5 1266.5 L994.5 1266.5 L995.5 1266.5 L996.5 1266.6 L997.5 1266.6 L998.5 1266.6 L999.5 1266.6 L1000.5 1266.7 L1001.5 1266.7 L1002.5 1266.7 L1003.5 1266.7 L1004.5 1266.7 L1005.5 1266.7 L1006.5 1266.7 L1007.5 1266.8 L1008.5 1266.8 L1009.5 1266.8 L1010.5 1266.8 L1011.5 1266.8 L1012.5 1266.8 L1013.5 1266.8 L1014.5 1266.8 L1015.5 1266.8 L1016.5 1266.9 L1017.5 1266.9 L1018.5 1266.9 L1019.5 1266.9 L1020.5 1266.9 L1021.5 1266.9 L1022.5 1266.9 L1023.5 1266.9 L1024.5 1266.9 L1025.5 1266.9 L1026.5 1266.9 L1027.5 1266.9 L1028.5 1266.9 L1029.5 1266.9 L1030.5 1266.9 L1031.5 1266.9 L1032.5 1266.9 L1033.5 1266.9 L1034.5 1267.0 L1035.5 1267.0 L1036.5 1267.0 L1037.5 1267.0 L1038.5 1267.0 L1039.5 1267.0 L1040.5 1267.0 L1041.5 1267.0 L1042.5 1267.0 L1043.5 1267.0 L1044.5 1267.0 L1045.5 1267.0 L1046.5 1267.0 L1047.5 1267.0 L1048.5 1267.0 L1049.5 1267.0 L1050.5 1267.0 L1051.5 1267.0 L1052.5 1267.0 L1053.5 1267.0 L1054.5 1267.0 L1055.5 1267.0 L1056.5 1267.0 L1057.5 1267.0 L1058.5 1267.0 L1059.5 1267.0 L1060.5 1267.0 L1061.5 1267.0 L1062.5 1267.0 L1063.5 1267.0 L1064.5 1267.0 L1065.5 1267.0 L1066.5 1267.0 L1067.5 1267.0 L1068.5 1267.0 L1069.5 1267.0 L1070.5 1267.0 L1071.5 1267.0 L1072.5 1267.0 L1073.5 1267.0 L1074.5 1267.0 L1075.5 1267.0 L1076.5 1267.0 L1077.5 1267.0 L1078.5 1267.0 L1079.5 1267.0 L1080.5 1267.0 L1081.5 1267.0 L1082.5 1267.0 L1083.5 1267.0 L1084.5 1267.0 L1085.5 1267.0 L1086.5 1267.0 L1087.5 1267.0 L1088.5 1267.0 L1089.5 1267.0" stroke-width="6.0"/>
</g>
<g clip-path="url(#clip-b)" fill="none" stroke="#a0a0a0" stroke-linejoin="round" shape-rendering="crispEdges">
<path d="M1200.5 1270.0 L1201.5 1269.9 L1202.5 1269.8 L1203.5 1269.7 L1204.5 1269.6 L1205.5 1269.4 L1206.5 1269.3 L1207.5 1269.1 L1208.5 1269.0 L1209.5 1268.8 L1210.5 1268.6 L1211.5 1268.4 L1212.5 1268.2 L1213.5 1267.9 L1214.5 1267.7 L1215.5 1267.4 L1216.5 1267.1 L1217.5 1266.8 L1218.5 1266.5 L1219.5 1266.1 L1220.5 1265.8 L1221.5 1265.4 L1222.5 1264.9 L1223.5 1264.5 L1224.5 1264.0 L1225.5 1263.5 L1226.5 1263.0 L1227.5 1262.4 L1228.5 1261.8 L1229.5 1261.2 L1230.5 1260.5 L1231.5 1259.8 L1232.5 1259.0 L1233.5 1258.2 L1234.5 1257.4 L1235.5 1256.5 L1236.5 1255.5 L1237.5 1254.5 L1238.5 1253.5 L1239.5 1252.4 L1240.5 1251.2 L1241.5 1250.0 L1242.5 1248.7 L1243.5 1247.3 L1244.5 1245.9 L1245.5 1244.4 L1246.5 1242.8 L1247.5 1241.1 L1248.5 1239.4 L1249.5 1237.6 L1250.5 1235.6 L1251.5 1233.6 L1252.5 1231.6 L1253.5 1229.4 L1254.5 1227.1 L1255.5 1224.7 L1256.5 1222.2 L1257.5 1219.6 L1258.5 1216.9 L1259.5 1214.0 L1260.5 1211.1 L1261.5 1208.0 L1262.5 1204.8 L1263.5 1201.5 L1264.5 1198.0 L1265.5 1194.4 L1266.5 1190.7 L1267.5 1186.8 L1268.5 1182.8 L1269.5 1178.7 L1270.5 1174.4 L1271.5 1169.9 L1272.5 1165.3 L1273.5 1160.5 L1274.5 1155.6 L1275.5 1150.5 L1276.5 1145.2 L1277.5 1139.8 L1278.5 1134.2 L1279.5 1128.5 L1280.5 1122.6 L1281.5 1116.5 L1282.5 1110.2 L1283.5 1103.8 L1284.5 1097.1 L1285.5 1090.4 L1286.5 1083.4 L1287.5 1076.3 L1288.5 1069.0 L1289.5 1061.5 L1290.5 1053.8 L1291.5 1046.0 L1292.5 1038.0 L1293.5 1029.8 L1294.5 1021.5 L1295.5 1013.0 L1296.5 1004.4 L1297.5 995.6 L1298.5 986.6 L1299.5 977.5 L1300.5 968.2 L1301.5 958.8 L1302.5 949.3 L1303.5 939.6 L1304.5 929.8 L1305.5 919.9 L1306.5 909.9 L1307.5 899.8 L1308.5 889.5 L1309.5 879.2 L1310.5 868.8 L1311.5 858.3 L1312.5 847.7 L1313.5 837.1 L1314.5 826.4 L1315.5 815.7 L1316.5 805.0 L1317.5 794.2 L1318.5 783.4 L1319.5 772.6 L1320.5 761.8 L1321.5 751.1 L1322.5 740.3 L1323.5 729.6 L1324.5 719.0 L1325.5 708.4 L1326.5 697.9 L1327.5 687.4 L1328.5 677.1 L1329.5 666.8 L1330.5 656.7 L1331.5 646.8 L1332.5 636.9 L1333.5 627.2 L1334.5 617.7 L1335.5 608.4 L1336.5 599.2 L1337.5 590.3 L1338.5 581.5 L1339.5 573.0 L1340.5 564.8 L1341.5 556.7 L1342.5 549.0 L1343.5 541.4 L1344.5 534.2 L1345.5 527.3 L1346.5 520.6 L1347.5 514.3 L1348.5 508.2 L1349.5 502.5 L1350.5 497.2 L1351.5 492.1 L1352.5 487.4 L1353.5 483.1 L1354.5 479.1 L1355.5 475.5 L1356.5 472.2 L1357.5 469.3 L1358.5 466.8 L1359.5 464.7 L1360.5 462.9 L1361.5 461.6 L1362.5 460.6 L1363.5 460.0 L1364.5 459.8 L1365.5 460.0 L1366.5 460.6 L1367.5 461.6 L1368.5 462.9 L1369.5 464.7 L1370.5 466.8 L1371.5 469.3 L1372.5 472.2 L1373.5 475.5 L1374.5 479.1 L1375.5 483.1 L1376.5 487.4 L1377.5 492.1 L1378.5 497.2 L1379.5 502.5 L1380.5 508.2 L1381.5 514.3 L1382.5 520.6 L1383.5 527.3 L1384.5 534.2 L1385.5 541.4 L1386.5 549.0 L1387.5 556.7 L1388.5 564.8 L1389.5 573.0 L1390.5 581.5 L1391.5 590.3 L1392.5 599.2 L1393.5 608.4 L1394.5 617.7 L1395.5 627.2 L1396.5 636.9 L1397.5 646.8 L1398.5 656.7 L1399.5 666.8 L1400.5 677.1 L1401.5 687.4 L1402.5 697.9 L1403.5 708.4 L1404.5 719.0 L1405.5 729.6 L1406.5 740.3 L1407.5 751.1 L1408.5 761.8 L1409.5 772.6 L1410.5 783.4 L1411.5 794.2 L1412.5 805.0 L1413.5 815.7 L1414.5 826.4 L1415.5 837.1 L1416.5 847.7 L1417.5 858.3 L1418.5 868.8 L1419.5 879.2 L1420.5 889.5 L1421.5 899.8 L1422.5 909.9 L1423.5 919.9 L1424.5 929.8 L1425.5 939.6 L1426.5 949.3 L1427.5 958.8 L1428.5 968.2 L1429.5 977.5 L1430.5 986.6 L1431.5 995.6 L1432.5 1004.4 L1433.5 1013.0 L1434.5 1021.5 L1435.5 1029.8 L1436.5 1038.0 L1437.5 1046.0 L1438.5 1053.8 L1439.5 1061.5 L1440.5 1069.0 L1441.5 1076.3 L1442.5 1083.4 L1443.5 1090.4 L1444.5 1097.1 L1445.5 1103.8 L1446.5 1110.2 L1447.5 1116.5 L1448.5 1122.6 L1449.5 1128.5 L1450.5 1134.2 L1451.5 1139.8 L1452.5 1145.2 L1453.5 1150.5 L1454.5 1155.6 L1455.5 1160.5 L1456.5 1165.3 L1457.5 1169.9 L1458.5 1174.4 L1459.5 1178.7 L1460.5 1182.8 L1461.5 1186.8 L1462.5 1190.7 L1463.5 1194.4 L1464.5 1198.0 L1465.5 1201.5 L1466.5 1204.8 L1467.5 1208.0 L1468.5 1211.1 L1469.5 1214.0 L1470.5 1216.9 L1471.5 1219.6 L1472.5 1222.2 L1473.5 1224.7 L1474.5 1227.1 L1475.5 1229.4 L1476.5 1231.6 L1477.5 1233.6 L1478.5 1235.6 L1479.5 1237.6 L1480.5 1239.4 L1481.5 1241.1 L1482.5 1242.8 L1483.5 1244.4 L1484.5 1245.9 L1485.5 1247.3 L1486.5 1248.7 L1487.5 1250.0 L1488.5 1251.2 L1489.5 1252.4 L1490.5 1253.5 L1491.5 1254.5 L1492.5 1255.5 L1493.5 1256.5 L1494.5 1257.4 L1495.5 1258.2 L1496.5 1259.0 L1497.5 1259.8 L1498.5 1260.5 L1499.5 1261.2 L1500.5 1261.8 L1501.5 1262.4 L1502.5 1263.0 L1503.5 1263.5 L1504.5 1264.0 L1505.5 1264.5 L1506.5 1264.9 L1507.5 1265.4 L1508.5 1265.8 L1509.5 1266.1 L1510.5 1266.5 L1511.5 1266.8 L1512.5 1267.1 L1513.5 1267.4 L1514.5 1267.7 L1515.5 1267.9 L1516.5 1268.2 L1517.5 1268.4 L1518.5 1268.6 L1519.5 1268.8 L1520.5 1269.0 L1521.5 1269.1 L1522.5 1269.3 L1523.5 1269.4 L1524.5 1269.6 L1525.5 1269.7 L1526.5 1269.8 L1527.5 1269.9 L1528.5 1270.0" stroke-width="8.4" stroke-linecap="round" stroke-dasharray="10.3 19.0"/>
<path d="M1367.5 1270.1 L1368.5 1270.0 L1369.5 1269.8 L1370.5 1269.7 L1371.5 1269.6 L1372.5 1269.4 L1373.5 1269.3 L1374.5 1269.1 L1375.5 1268.9 L1376.5 1268.7 L1377.5 1268.5 L1378.5 1268.3 L1379.5 1268.0 L1380.5 1267.8 L1381.5 1267.5 L1382.5 1267.2 L1383.5 1266.8 L1384.5 1266.5 L1385.5 1266.1 L1386.5 1265.7 L1387.5 1265.3 L1388.5 1264.9 L1389.5 1264.4 L1390.5 1263.9 L1391.5 1263.3 L1392.5 1262.7 L1393.5 1262.1 L1394.5 1261.5 L1395.5 1260.8 L1396.5 1260.0 L1397.5 1259.2 L1398.5 1258.4 L1399.5 1257.5 L1400.5 1256.6 L1401.5 1255.6 L1402.5 1254.6 L1403.5 1253.5 L1404.5 1252.3 L1405.5 1251.1 L1406.5 1249.8 L1407.5 1248.5 L1408.5 1247.1 L1409.5 1245.6 L1410.5 1244.0 L1411.5 1242.4 L1412.5 1240.6 L1413.5 1238.8 L1414.5 1236.9 L1415.5 1235.0 L1416.5 1232.9 L1417.5 1230.7 L1418.5 1228.5 L1419.5 1226.1 L1420.5 1223.7 L1421.5 1221.1 L1422.5 1218.5 L1423.5 1215.7 L1424.5 1212.8 L1425.5 1209.9 L1426.5 1206.8 L1427.5 1203.6 L1428.5 1200.2 L1429.5 1196.8 L1430.5 1193.2 L1431.5 1189.6 L1432.5 1185.8 L1433.5 1181.8 L1434.5 1177.8 L1435.5 1173.6 L1436.5 1169.4 L1437.5 1165.0 L1438.5 1160.4 L1439.5 1155.8 L1440.5 1151.0 L1441.5 1146.1 L1442.5 1141.1 L1443.5 1136.0 L1444.5 1130.8 L1445.5 1125.5 L1446.5 1120.0 L1447.5 1114.4 L1448.5 1108.8 L1449.5 1103.0 L1450.5 1097.2 L1451.5 1091.2 L1452.5 1085.2 L1453.5 1079.1 L1454.5 1072.9 L1455.5 1066.6 L1456.5 1060.3 L1457.5 1053.9 L1458.5 1047.4 L1459.5 1040.9 L1460.5 1034.4 L1461.5 1027.8 L1462.5 1021.2 L1463.5 1014.6 L1464.5 1008.0 L1465.5 1001.4 L1466.5 994.7 L1467.5 988.1 L1468.5 981.5 L1469.5 975.0 L1470.5 968.4 L1471.5 962.0 L1472.5 955.6 L1473.5 949.2 L1474.5 942.9 L1475.5 936.8 L1476.5 930.7 L1477.5 924.7 L1478.5 918.8 L1479.5 913.1 L1480.5 907.5 L1481.5 902.0 L1482.5 896.7 L1483.5 891.5 L1484.5 886.5 L1485.5 881.7 L1486.5 877.1 L1487.5 872.6 L1488.5 868.4 L1489.5 864.4 L1490.5 860.6 L1491.5 857.0 L1492.5 853.6 L1493.5 850.5 L1494.5 847.6 L1495.5 844.9 L1496.5 842.5 L1497.5 840.4 L1498.5 838.5 L1499.5 836.9 L1500.5 835.6 L1501.5 834.5 L1502.5 833.7 L1503.5 833.1 L1504.5 832.8 L1505.5 832.8 L1506.5 833.1 L1507.5 833.7 L1508.5 834.5 L1509.5 835.6 L1510.5 836.9 L1511.5 838.5 L1512.5 840.4 L1513.5 842.5 L1514.5 844.9 L1515.5 847.6 L1516.5 850.5 L1517.5 853.6 L1518.5 857.0 L1519.5 860.6 L1520.5 864.4 L1521.5 868.4 L1522.5 872.6 L1523.5 877.1 L1524.5 881.7 L1525.5 886.5 L1526.5 891.5 L1527.5 896.7 L1528.5 902.0 L1529.5 907.5 L1530.5 913.1 L1531.5 918.8 L1532.5 924.7 L1533.5 930.7 L1534.5 936.8 L1535.5 942.9 L1536.5 949.2 L1537.5 955.6 L1538.5 962.0 L1539.5 968.4 L1540.5 975.0 L1541.5 981.5 L1542.5 988.1 L1543.5 994.7 L1544.5 1001.4 L1545.5 1008.0 L1546.5 1014.6 L1547.5 1021.2 L1548.5 1027.8 L1549.5 1034.4 L1550.5 1040.9 L1551.5 1047.4 L1552.5 1053.9 L1553.5 1060.3 L1554.5 1066.6 L1555.5 1072.9 L1556.5 1079.1 L1557.5 1085.2 L1558.5 1091.2 L1559.5 1097.2 L1560.5 1103.0 L1561.5 1108.8 L1562.5 1114.4 L1563.5 1120.0 L1564.5 1125.5 L1565.5 1130.8 L1566.5 1136.0 L1567.5 1141.1 L1568.5 1146.1 L1569.5 1151.0 L1570.5 1155.8 L1571.5 1160.4 L1572.5 1165.0 L1573.5 1169.4 L1574.5 1173.6 L1575.5 1177.8 L1576.5 1181.8 L1577.5 1185.8 L1578.5 1189.6 L1579.5 1193.2 L1580.5 1196.8 L1581.5 1200.2 L1582.5 1203.6 L1583.5 1206.8 L1584.5 1209.9 L1585.5 1212.8 L1586.5 1215.7 L1587.5 1218.5 L1588.5 1221.1 L1589.5 1223.7 L1590.5 1226.1 L1591.5 1228.5 L1592.5 1230.7 L1593.5 1232.9 L1594.5 1235.0 L1595.5 1236.9 L1596.5 1238.8 L1597.5 1240.6 L1598.5 1242.4 L1599.5 1244.0 L1600.5 1245.6 L1601.5 1247.1 L1602.5 1248.5 L1603.5 1249.8 L1604.5 1251.1 L1605.5 1252.3 L1606.5 1253.5 L1607.5 1254.6 L1608.5 1255.6 L1609.5 1256.6 L1610.5 1257.5 L1611.5 1258.4 L1612.5 1259.2 L1613.5 1260.0 L1614.5 1260.8 L1615.5 1261.5 L1616.5 1262.1 L1617.5 1262.7 L1618.5 1263.3 L1619.5 1263.9 L1620.5 1264.4 L1621.5 1264.9 L1622.5 1265.3 L1623.5 1265.7 L1624.5 1266.1 L1625.5 1266.5 L1626.5 1266.8 L1627.5 1267.2 L1628.5 1267.5 L1629.5 1267.8 L1630.5 1268.0 L1631.5 1268.3 L1632.5 1268.5 L1633.5 1268.7 L1634.5 1268.9 L1635.5 1269.1 L1636.5 1269.3 L1637.5 1269.4 L1638.5 1269.6 L1639.5 1269.7 L1640.5 1269.8 L1641.5 1270.0 L1642.5 1270.1" stroke-width="8.4" stroke-linecap="round" stroke-dasharray="10.3 19.0"/>
<path d="M1440.5 1270.1 L1441.5 1270.0 L1442.5 1269.9 L1443.5 1269.8 L1444.5 1269.7 L1445.5 1269.6 L1446.5 1269.5 L1447.5 1269.4 L1448.5 1269.3 L1449.5 1269.1 L1450.5 1269.0 L1451.5 1268.8 L1452.5 1268.7 L1453.5 1268.5 L1454.5 1268.3 L1455.5 1268.1 L1456.5 1268.0 L1457.5 1267.7 L1458.5 1267.5 L1459.5 1267.3 L1460.5 1267.1 L1461.5 1266.8 L1462.5 1266.5 L1463.5 1266.3 L1464.5 1266.0 L1465.5 1265.7 L1466.5 1265.3 L1467.5 1265.0 L1468.5 1264.7 L1469.5 1264.3 L1470.5 1263.9 L1471.5 1263.5 L1472.5 1263.1 L1473.5 1262.6 L1474.5 1262.2 L1475.5 1261.7 L1476.5 1261.2 L1477.5 1260.6 L1478.5 1260.1 L1479.5 1259.5 L1480.5 1258.9 L1481.5 1258.3 L1482.5 1257.6 L1483.5 1257.0 L1484.5 1256.3 L1485.5 1255.5 L1486.5 1254.8 L1487.5 1254.0 L1488.5 1253.2 L1489.5 1252.3 L1490.5 1251.4 L1491.5 1250.5 L1492.5 1249.6 L1493.5 1248.6 L1494.5 1247.6 L1495.5 1246.6 L1496.5 1245.5 L1497.5 1244.4 L1498.5 1243.2 L1499.5 1242.1 L1500.5 1240.8 L1501.5 1239.6 L1502.5 1238.3 L1503.5 1236.9 L1504.5 1235.6 L1505.5 1234.2 L1506.5 1232.7 L1507.5 1231.2 L1508.5 1229.7 L1509.5 1228.1 L1510.5 1226.5 L1511.5 1224.9 L1512.5 1223.2 L1513.5 1221.5 L1514.5 1219.7 L1515.5 1217.9 L1516.5 1216.0 L1517.5 1214.2 L1518.5 1212.2 L1519.5 1210.3 L1520.5 1208.3 L1521.5 1206.2 L1522.5 1204.2 L1523.5 1202.0 L1524.5 1199.9 L1525.5 1197.7 L1526.5 1195.5 L1527.5 1193.3 L1528.5 1191.0 L1529.5 1188.7 L1530.5 1186.3 L1531.5 1184.0 L1532.5 1181.6 L1533.5 1179.1 L1534.5 1176.7 L1535.5 1174.2 L1536.5 1171.7 L1537.5 1169.2 L1538.5 1166.7 L1539.5 1164.2 L1540.5 1161.6 L1541.5 1159.0 L1542.5 1156.4 L1543.5 1153.9 L1544.5 1151.3 L1545.5 1148.7 L1546.5 1146.1 L1547.5 1143.4 L1548.5 1140.8 L1549.5 1138.2 L1550.5 1135.7 L1551.5 1133.1 L1552.5 1130.5 L1553.5 1128.0 L1554.5 1125.4 L1555.5 1122.9 L1556.5 1120.4 L1557.5 1117.9 L1558.5 1115.5 L1559.5 1113.1 L1560.5 1110.7 L1561.5 1108.3 L1562.5 1106.0 L1563.5 1103.8 L1564.5 1101.5 L1565.5 1099.3 L1566.5 1097.2 L1567.5 1095.1 L1568.5 1093.1 L1569.5 1091.1 L1570.5 1089.2 L1571.5 1087.3 L1572.5 1085.5 L1573.5 1083.7 L1574.5 1082.1 L1575.5 1080.5 L1576.5 1078.9 L1577.5 1077.4 L1578.5 1076.0 L1579.5 1074.7 L1580.5 1073.5 L1581.5 1072.3 L1582.5 1071.2 L1583.5 1070.2 L1584.5 1069.3 L1585.5 1068.5 L1586.5 1067.7 L1587.5 1067.0 L1588.5 1066.5 L1589.5 1066.0 L1590.5 1065.5 L1591.5 1065.2 L1592.5 1065.0 L1593.5 1064.9 L1594.5 1064.8 L1595.5 1064.8 L1596.5 1065.0 L1597.5 1065.2 L1598.5 1065.5 L1599.5 1065.9 L1600.5 1066.3 L1601.5 1066.9 L1602.5 1067.6 L1603.5 1068.3 L1604.5 1069.1 L1605.5 1070.0 L1606.5 1071.0 L1607.5 1072.1 L1608.5 1073.2 L1609.5 1074.5 L1610.5 1075.8 L1611.5 1077.2 L1612.5 1078.6 L1613.5 1080.1 L1614.5 1081.7 L1615.5 1083.4 L1616.5 1085.1 L1617.5 1086.9 L1618.5 1088.8 L1619.5 1090.7 L1620.5 1092.7 L1621.5 1094.7 L1622.5 1096.8 L1623.5 1098.9 L1624.5 1101.1 L1625.5 1103.3 L1626.5 1105.6 L1627.5 1107.9 L1628.5 1110.2 L1629.5 1112.6 L1630.5 1115.0 L1631.5 1117.4 L1632.5 1119.9 L1633.5 1122.4 L1634.5 1124.9 L1635.5 1127.4 L1636.5 1130.0 L1637.5 1132.6 L1638.5 1135.1 L1639.5 1137.7 L1640.5 1140.3 L1641.5 1142.9 L1642.5 1145.5 L1643.5 1148.1 L1644.5 1150.7 L1645.5 1153.3 L1646.5 1155.9 L1647.5 1158.5 L1648.5 1161.1 L1649.5 1163.6 L1650.5 1166.2 L1651.5 1168.7 L1652.5 1171.2 L1653.5 1173.7 L1654.5 1176.2 L1655.5 1178.7 L1656.5 1181.1 L1657.5 1183.5 L1658.5 1185.9 L1659.5 1188.2 L1660.5 1190.5 L1661.5 1192.8 L1662.5 1195.1 L1663.5 1197.3 L1664.5 1199.5 L1665.5 1201.6 L1666.5 1203.7 L1667.5 1205.8 L1668.5 1207.9 L1669.5 1209.9 L1670.5 1211.8 L1671.5 1213.8 L1672.5 1215.7 L1673.5 1217.5 L1674.5 1219.3 L1675.5 1221.1 L1676.5 1222.8 L1677.5 1224.5 L1678.5 1226.2 L1679.5 1227.8 L1680.5 1229.4 L1681.5 1230.9 L1682.5 1232.4 L1683.5 1233.9 L1684.5 1235.3 L1685.5 1236.7 L1686.5 1238.0 L1687.5 1239.3 L1688.5 1240.6 L1689.5 1241.8 L1690.5 1243.0 L1691.5 1244.2 L1692.5 1245.3 L1693.5 1246.4 L1694.5 1247.4 L1695.5 1248.4 L1696.5 1249.4 L1697.5 1250.4 L1698.5 1251.3 L1699.5 1252.2 L1700.5 1253.0 L1701.5 1253.8 L1702.5 1254.6 L1703.5 1255.4 L1704.5 1256.1 L1705.5 1256.8 L1706.5 1257.5 L1707.5 1258.2 L1708.5 1258.8 L1709.5 1259.4 L1710.5 1260.0 L1711.5 1260.5 L1712.5 1261.1 L1713.5 1261.6 L1714.5 1262.1 L1715.5 1262.5 L1716.5 1263.0 L1717.5 1263.4 L1718.5 1263.8 L1719.5 1264.2 L1720.5 1264.6 L1721.5 1264.9 L1722.5 1265.3 L1723.5 1265.6 L1724.5 1265.9 L1725.5 1266.2 L1726.5 1266.5 L1727.5 1266.8 L1728.5 1267.0 L1729.5 1267.3 L1730.5 1267.5 L1731.5 1267.7 L1732.5 1267.9 L1733.5 1268.1 L1734.5 1268.3 L1735.5 1268.5 L1736.5 1268.6 L1737.5 1268.8 L1738.5 1268.9 L1739.5 1269.1 L1740.5 1269.2 L1741.5 1269.4 L1742.5 1269.5 L1743.5 1269.6 L1744.5 1269.7 L1745.5 1269.8 L1746.5 1269.9 L1747.5 1270.0 L1748.5 1270.1" stroke-width="8.4" stroke-linecap="round" stroke-dasharray="10.3 19.0"/>
<path d="M1601.5 1270.1 L1602.5 1270.0 L1603.5 1269.9 L1604.5 1269.8 L1605.5 1269.8 L1606.5 1269.7 L1607.5 1269.6 L1608.5 1269.5 L1609.5 1269.4 L1610.5 1269.3 L1611.5 1269.2 L1612.5 1269.1 L1613.5 1269.0 L1614.5 1268.9 L1615.5 1268.7 L1616.5 1268.6 L1617.5 1268.5 L1618.5 1268.3 L1619.5 1268.2 L1620.5 1268.1 L1621.5 1267.9 L1622.5 1267.7 L1623.5 1267.6 L1624.5 1267.4 L1625.5 1267.2 L1626.5 1267.0 L1627.5 1266.8 L1628.5 1266.6 L1629.5 1266.4 L1630.5 1266.2 L1631.5 1266.0 L1632.5 1265.7 L1633.5 1265.5 L1634.5 1265.2 L1635.5 1265.0 L1636.5 1264.7 L1637.5 1264.4 L1638.5 1264.2 L1639.5 1263.9 L1640.5 1263.6 L1641.5 1263.2 L1642.5 1262.9 L1643.5 1262.6 L1644.5 1262.3 L1645.5 1261.9 L1646.5 1261.5 L1647.5 1261.2 L1648.5 1260.8 L1649.5 1260.4 L1650.5 1260.0 L1651.5 1259.6 L1652.5 1259.2 L1653.5 1258.7 L1654.5 1258.3 L1655.5 1257.8 L1656.5 1257.4 L1657.5 1256.9 L1658.5 1256.4 L1659.5 1255.9 L1660.5 1255.4 L1661.5 1254.9 L1662.5 1254.3 L1663.5 1253.8 L1664.5 1253.2 L1665.5 1252.7 L1666.5 1252.1 L1667.5 1251.5 L1668.5 1250.9 L1669.5 1250.3 L1670.5 1249.7 L1671.5 1249.1 L1672.5 1248.4 L1673.5 1247.8 L1674.5 1247.1 L1675.5 1246.5 L1676.5 1245.8 L1677.5 1245.1 L1678.5 1244.4 L1679.5 1243.8 L1680.5 1243.1 L1681.5 1242.3 L1682.5 1241.6 L1683.5 1240.9 L1684.5 1240.2 L1685.5 1239.4 L1686.5 1238.7 L1687.5 1238.0 L1688.5 1237.2 L1689.5 1236.5 L1690.5 1235.7 L1691.5 1234.9 L1692.5 1234.2 L1693.5 1233.4 L1694.5 1232.7 L1695.5 1231.9 L1696.5 1231.1 L1697.5 1230.4 L1698.5 1229.6 L1699.5 1228.8 L1700.5 1228.1 L1701.5 1227.3 L1702.5 1226.6 L1703.5 1225.8 L1704.5 1225.1 L1705.5 1224.3 L1706.5 1223.6 L1707.5 1222.9 L1708.5 1222.1 L1709.5 1221.4 L1710.5 1220.7 L1711.5 1220.0 L1712.5 1219.3 L1713.5 1218.7 L1714.5 1218.0 L1715.5 1217.3 L1716.5 1216.7 L1717.5 1216.1 L1718.5 1215.5 L1719.5 1214.8 L1720.5 1214.3 L1721.5 1213.7 L1722.5 1213.1 L1723.5 1212.6 L1724.5 1212.1 L1725.5 1211.6 L1726.5 1211.1 L1727.5 1210.6 L1728.5 1210.2 L1729.5 1209.7 L1730.5 1209.3 L1731.5 1208.9 L1732.5 1208.6 L1733.5 1208.2 L1734.5 1207.9 L1735.5 1207.6 L1736.5 1207.3 L1737.5 1207.0 L1738.5 1206.8 L1739.5 1206.6 L1740.5 1206.4 L1741.5 1206.2 L1742.5 1206.1 L1743.5 1205.9 L1744.5 1205.8 L1745.5 1205.8 L1746.5 1205.7 L1747.5 1205.7 L1748.5 1205.7 L1749.5 1205.7 L1750.5 1205.8 L1751.5 1205.8 L1752.5 1205.9 L1753.5 1206.1 L1754.5 1206.2 L1755.5 1206.4 L1756.5 1206.6 L1757.5 1206.8 L1758.5 1207.0 L1759.5 1207.3 L1760.5 1207.6 L1761.5 1207.9 L1762.5 1208.2 L1763.5 1208.6 L1764.5 1208.9 L1765.5 1209.3 L1766.5 1209.7 L1767.5 1210.2 L1768.5 1210.6 L1769.5 1211.1 L1770.5 1211.6 L1771.5 1212.1 L1772.5 1212.6 L1773.5 1213.1 L1774.5 1213.7 L1775.5 1214.3 L1776.5 1214.8 L1777.5 1215.5 L1778.5 1216.1 L1779.5 1216.7 L1780.5 1217.3 L1781.5 1218.0 L1782.5 1218.7 L1783.5 1219.3 L1784.5 1220.0 L1785.5 1220.7 L1786.5 1221.4 L1787.5 1222.1 L1788.5 1222.9 L1789.5 1223.6 L1790.5 1224.3 L1791.5 1225.1 L1792.5 1225.8 L1793.5 1226.6 L1794.5 1227.3 L1795.5 1228.1 L1796.5 1228.8 L1797.5 1229.6 L1798.5 1230.4 L1799.5 1231.1 L1800.5 1231.9 L1801.5 1232.7 L1802.5 1233.4 L1803.5 1234.2 L1804.5 1234.9 L1805.5 1235.7 L1806.5 1236.5 L1807.5 1237.2 L1808.5 1238.0 L1809.5 1238.7 L1810.5 1239.4 L1811.5 1240.2 L1812.5 1240.9 L1813.5 1241.6 L1814.5 1242.3 L1815.5 1243.1 L1816.5 1243.8 L1817.5 1244.4 L1818.5 1245.1 L1819.5 1245.8 L1820.5 1246.5 L1821.5 1247.1 L1822.5 1247.8 L1823.5 1248.4 L1824.5 1249.1 L1825.5 1249.7 L1826.5 1250.3 L1827.5 1250.9 L1828.5 1251.5 L1829.5 1252.1 L1830.5 1252.7 L1831.5 1253.2 L1832.5 1253.8 L1833.5 1254.3 L1834.5 1254.9 L1835.5 1255.4 L1836.5 1255.9 L1837.5 1256.4 L1838.5 1256.9 L1839.5 1257.4 L1840.5 1257.8 L1841.5 1258.3 L1842.5 1258.7 L1843.5 1259.2 L1844.5 1259.6 L1845.5 1260.0 L1846.5 1260.4 L1847.5 1260.8 L1848.5 1261.2 L1849.5 1261.5 L1850.5 1261.9 L1851.5 1262.3 L1852.5 1262.6 L1853.5 1262.9 L1854.5 1263.2 L1855.5 1263.6 L1856.5 1263.9 L1857.5 1264.2 L1858.5 1264.4 L1859.5 1264.7 L1860.5 1265.0 L1861.5 1265.2 L1862.5 1265.5 L1863.5 1265.7 L1864.5 1266.0 L1865.5 1266.2 L1866.5 1266.4 L1867.5 1266.6 L1868.5 1266.8 L1869.5 1267.0 L1870.5 1267.2 L1871.5 1267.4 L1872.5 1267.6 L1873.5 1267.7 L1874.5 1267.9 L1875.5 1268.1 L1876.5 1268.2 L1877.5 1268.3 L1878.5 1268.5 L1879.5 1268.6 L1880.5 1268.7 L1881.5 1268.9 L1882.5 1269.0 L1883.5 1269.1 L1884.5 1269.2 L1885.5 1269.3 L1886.5 1269.4 L1887.5 1269.5 L1888.5 1269.6 L1889.5 1269.7 L1890.5 1269.8 L1891.5 1269.8 L1892.5 1269.9 L1893.5 1270.0 L1894.5 1270.1" stroke-width="8.4" stroke-linecap="round" stroke-dasharray="0.1 14.6"/>
<path d="M1167.0 1271.3 L1385.0 1271.3" stroke-width="9.0" />
<path d="M1399.0 1271.3 L2030.0 1271.3" stroke-width="8.4" stroke-linecap="round" stroke-dasharray="10.3 19.0"/>
<path d="M1167.5 1271.2 L1168.5 1271.2 L1169.5 1271.2 L1170.5 1271.2 L1171.5 1271.2 L1172.5 1271.2 L1173.5 1271.2 L1174.5 1271.2 L1175.5 1271.1 L1176.5 1271.1 L1177.5 1271.1 L1178.5 1271.1 L1179.5 1271.1 L1180.5 1271.1 L1181.5 1271.0 L1182.5 1271.0 L1183.5 1271.0 L1184.5 1271.0 L1185.5 1270.9 L1186.5 1270.9 L1187.5 1270.9 L1188.5 1270.8 L1189.5 1270.8 L1190.5 1270.7 L1191.5 1270.7 L1192.5 1270.6 L1193.5 1270.6 L1194.5 1270.5 L1195.5 1270.5 L1196.5 1270.4 L1197.5 1270.3 L1198.5 1270.2 L1199.5 1270.1 L1200.5 1270.0 L1201.5 1269.9 L1202.5 1269.8 L1203.5 1269.7 L1204.5 1269.6 L1205.5 1269.4 L1206.5 1269.3 L1207.5 1269.1 L1208.5 1269.0 L1209.5 1268.8 L1210.5 1268.6 L1211.5 1268.4 L1212.5 1268.2 L1213.5 1267.9 L1214.5 1267.7 L1215.5 1267.4 L1216.5 1267.1 L1217.5 1266.8 L1218.5 1266.5 L1219.5 1266.1 L1220.5 1265.8 L1221.5 1265.4 L1222.5 1264.9 L1223.5 1264.5 L1224.5 1264.0 L1225.5 1263.5 L1226.5 1263.0 L1227.5 1262.4 L1228.5 1261.8 L1229.5 1261.2 L1230.5 1260.5 L1231.5 1259.8 L1232.5 1259.0 L1233.5 1258.2 L1234.5 1257.4 L1235.5 1256.5 L1236.5 1255.5 L1237.5 1254.5 L1238.5 1253.5 L1239.5 1252.4 L1240.5 1251.2 L1241.5 1250.0 L1242.5 1248.7 L1243.5 1247.3 L1244.5 1245.9 L1245.5 1244.4 L1246.5 1242.8 L1247.5 1241.1 L1248.5 1239.4 L1249.5 1237.6 L1250.5 1235.6 L1251.5 1233.6 L1252.5 1231.6 L1253.5 1229.4 L1254.5 1227.1 L1255.5 1224.7 L1256.5 1222.2 L1257.5 1219.6 L1258.5 1216.9 L1259.5 1214.0 L1260.5 1211.1 L1261.5 1208.0 L1262.5 1204.8 L1263.5 1201.5 L1264.5 1198.0 L1265.5 1194.4 L1266.5 1190.7 L1267.5 1186.8 L1268.5 1182.8 L1269.5 1178.7 L1270.5 1174.4 L1271.5 1169.9 L1272.5 1165.3 L1273.5 1160.5 L1274.5 1155.6 L1275.5 1150.5 L1276.5 1145.2 L1277.5 1139.8 L1278.5 1134.2 L1279.5 1128.5 L1280.5 1122.6 L1281.5 1116.5 L1282.5 1110.2 L1283.5 1103.8 L1284.5 1097.1 L1285.5 1090.4 L1286.5 1083.4 L1287.5 1076.3 L1288.5 1069.0 L1289.5 1061.5 L1290.5 1053.8 L1291.5 1046.0 L1292.5 1038.0 L1293.5 1029.8 L1294.5 1021.5 L1295.5 1013.0 L1296.5 1004.4 L1297.5 995.6 L1298.5 986.6 L1299.5 977.5 L1300.5 968.2 L1301.5 958.8 L1302.5 949.3 L1303.5 939.6 L1304.5 929.8 L1305.5 919.9 L1306.5 909.9 L1307.5 899.8 L1308.5 889.5 L1309.5 879.2 L1310.5 868.8 L1311.5 858.3 L1312.5 847.7 L1313.5 837.1 L1314.5 826.4 L1315.5 815.7 L1316.5 805.0 L1317.5 794.2 L1318.5 783.4 L1319.5 772.6 L1320.5 761.8 L1321.5 751.1 L1322.5 740.3 L1323.5 729.6 L1324.5 718.9 L1325.5 708.4 L1326.5 697.8 L1327.5 687.4 L1328.5 677.1 L1329.5 666.8 L1330.5 656.7 L1331.5 646.7 L1332.5 636.9 L1333.5 627.2 L1334.5 617.7 L1335.5 608.3 L1336.5 599.2 L1337.5 590.2 L1338.5 581.5 L1339.5 572.9 L1340.5 564.7 L1341.5 556.6 L1342.5 548.8 L1343.5 541.3 L1344.5 534.1 L1345.5 527.1 L1346.5 520.4 L1347.5 514.1 L1348.5 508.0 L1349.5 502.3 L1350.5 496.9 L1351.5 491.8 L1352.5 487.1 L1353.5 482.7 L1354.5 478.7 L1355.5 475.0 L1356.5 471.7 L1357.5 468.8 L1358.5 466.2 L1359.5 464.1 L1360.5 462.3 L1361.5 460.8 L1362.5 459.8 L1363.5 459.1 L1364.5 458.9 L1365.5 459.0 L1366.5 459.5 L1367.5 460.3 L1368.5 461.6 L1369.5 463.2 L1370.5 465.2 L1371.5 467.6 L1372.5 470.3 L1373.5 473.4 L1374.5 476.9 L1375.5 480.7 L1376.5 484.8 L1377.5 489.3 L1378.5 494.1 L1379.5 499.3 L1380.5 504.7 L1381.5 510.4 L1382.5 516.5 L1383.5 522.8 L1384.5 529.4 L1385.5 536.3 L1386.5 543.4 L1387.5 550.7 L1388.5 558.3 L1389.5 566.1 L1390.5 574.1 L1391.5 582.3 L1392.5 590.6 L1393.5 599.2 L1394.5 607.8 L1395.5 616.7 L1396.5 625.6 L1397.5 634.6 L1398.5 643.8 L1399.5 653.0 L1400.5 662.3 L1401.5 671.7 L1402.5 681.1 L1403.5 690.5 L1404.5 699.9 L1405.5 709.3 L1406.5 718.8 L1407.5 728.1 L1408.5 737.5 L1409.5 746.8 L1410.5 756.0 L1411.5 765.1 L1412.5 774.2 L1413.5 783.1 L1414.5 791.9 L1415.5 800.6 L1416.5 809.1 L1417.5 817.5 L1418.5 825.7 L1419.5 833.8 L1420.5 841.6 L1421.5 849.3 L1422.5 856.7 L1423.5 864.0 L1424.5 871.0 L1425.5 877.8 L1426.5 884.3 L1427.5 890.6 L1428.5 896.6 L1429.5 902.4 L1430.5 907.9 L1431.5 913.2 L1432.5 918.1 L1433.5 922.8 L1434.5 927.2 L1435.5 931.3 L1436.5 935.1 L1437.5 938.7 L1438.5 941.9 L1439.5 944.8 L1440.5 947.5 L1441.5 949.8 L1442.5 951.8 L1443.5 953.6 L1444.5 955.1 L1445.5 956.2 L1446.5 957.1 L1447.5 957.7 L1448.5 958.0 L1449.5 958.0 L1450.5 957.8 L1451.5 957.3 L1452.5 956.5 L1453.5 955.5 L1454.5 954.2 L1455.5 952.7 L1456.5 950.9 L1457.5 948.9 L1458.5 946.7 L1459.5 944.3 L1460.5 941.7 L1461.5 938.9 L1462.5 935.9 L1463.5 932.7 L1464.5 929.4 L1465.5 925.9 L1466.5 922.3 L1467.5 918.5 L1468.5 914.7 L1469.5 910.7 L1470.5 906.6 L1471.5 902.4 L1472.5 898.2 L1473.5 893.9 L1474.5 889.6 L1475.5 885.2 L1476.5 880.8 L1477.5 876.4 L1478.5 871.9 L1479.5 867.5 L1480.5 863.1 L1481.5 858.8 L1482.5 854.5 L1483.5 850.2 L1484.5 846.0 L1485.5 841.9 L1486.5 837.9 L1487.5 834.0 L1488.5 830.1 L1489.5 826.4 L1490.5 822.9 L1491.5 819.4 L1492.5 816.1 L1493.5 812.9 L1494.5 809.9 L1495.5 807.1 L1496.5 804.4 L1497.5 802.0 L1498.5 799.6 L1499.5 797.5 L1500.5 795.6 L1501.5 793.8 L1502.5 792.3 L1503.5 791.0 L1504.5 789.8 L1505.5 788.9 L1506.5 788.2 L1507.5 787.6 L1508.5 787.3 L1509.5 787.2 L1510.5 787.3 L1511.5 787.6 L1512.5 788.1 L1513.5 788.8 L1514.5 789.7 L1515.5 790.8 L1516.5 792.1 L1517.5 793.5 L1518.5 795.2 L1519.5 797.0 L1520.5 799.0 L1521.5 801.2 L1522.5 803.5 L1523.5 805.9 L1524.5 808.6 L1525.5 811.3 L1526.5 814.2 L1527.5 817.3 L1528.5 820.4 L1529.5 823.7 L1530.5 827.0 L1531.5 830.5 L1532.5 834.0 L1533.5 837.7 L1534.5 841.4 L1535.5 845.1 L1536.5 849.0 L1537.5 852.9 L1538.5 856.8 L1539.5 860.8 L1540.5 864.8 L1541.5 868.8 L1542.5 872.8 L1543.5 876.9 L1544.5 880.9 L1545.5 885.0 L1546.5 889.1 L1547.5 893.1 L1548.5 897.1 L1549.5 901.1 L1550.5 905.1 L1551.5 909.0 L1552.5 912.9 L1553.5 916.7 L1554.5 920.5 L1555.5 924.3 L1556.5 928.0 L1557.5 931.6 L1558.5 935.2 L1559.5 938.8 L1560.5 942.2 L1561.5 945.6 L1562.5 949.0 L1563.5 952.3 L1564.5 955.5 L1565.5 958.6 L1566.5 961.7 L1567.5 964.8 L1568.5 967.7 L1569.5 970.6 L1570.5 973.4 L1571.5 976.2 L1572.5 978.9 L1573.5 981.5 L1574.5 984.1 L1575.5 986.7 L1576.5 989.2 L1577.5 991.6 L1578.5 994.0 L1579.5 996.3 L1580.5 998.6 L1581.5 1000.9 L1582.5 1003.1 L1583.5 1005.2 L1584.5 1007.4 L1585.5 1009.5 L1586.5 1011.6 L1587.5 1013.6 L1588.5 1015.7 L1589.5 1017.7 L1590.5 1019.7 L1591.5 1021.7 L1592.5 1023.7 L1593.5 1025.7 L1594.5 1027.6 L1595.5 1029.6 L1596.5 1031.6 L1597.5 1033.5 L1598.5 1035.5 L1599.5 1037.5 L1600.5 1039.4 L1601.5 1041.4 L1602.5 1043.4 L1603.5 1045.5 L1604.5 1047.5 L1605.5 1049.5 L1606.5 1051.6 L1607.5 1053.7 L1608.5 1055.8 L1609.5 1057.9 L1610.5 1060.0 L1611.5 1062.2 L1612.5 1064.4 L1613.5 1066.6 L1614.5 1068.8 L1615.5 1071.0 L1616.5 1073.3 L1617.5 1075.5 L1618.5 1077.8 L1619.5 1080.2 L1620.5 1082.5 L1621.5 1084.8 L1622.5 1087.2 L1623.5 1089.6 L1624.5 1092.0 L1625.5 1094.4 L1626.5 1096.8 L1627.5 1099.3 L1628.5 1101.7 L1629.5 1104.2 L1630.5 1106.6 L1631.5 1109.1 L1632.5 1111.5 L1633.5 1114.0 L1634.5 1116.5 L1635.5 1118.9 L1636.5 1121.4 L1637.5 1123.8 L1638.5 1126.3 L1639.5 1128.7 L1640.5 1131.1 L1641.5 1133.5 L1642.5 1135.9 L1643.5 1138.3 L1644.5 1140.7 L1645.5 1143.0 L1646.5 1145.3 L1647.5 1147.6 L1648.5 1149.8 L1649.5 1152.1 L1650.5 1154.3 L1651.5 1156.4 L1652.5 1158.6 L1653.5 1160.7 L1654.5 1162.8 L1655.5 1164.8 L1656.5 1166.8 L1657.5 1168.7 L1658.5 1170.7 L1659.5 1172.5 L1660.5 1174.4 L1661.5 1176.1 L1662.5 1177.9 L1663.5 1179.6 L1664.5 1181.2 L1665.5 1182.8 L1666.5 1184.4 L1667.5 1185.9 L1668.5 1187.4 L1669.5 1188.8 L1670.5 1190.1 L1671.5 1191.5 L1672.5 1192.7 L1673.5 1193.9 L1674.5 1195.1 L1675.5 1196.2 L1676.5 1197.3 L1677.5 1198.3 L1678.5 1199.3 L1679.5 1200.2 L1680.5 1201.1 L1681.5 1201.9 L1682.5 1202.7 L1683.5 1203.5 L1684.5 1204.2 L1685.5 1204.8 L1686.5 1205.4 L1687.5 1206.0 L1688.5 1206.5 L1689.5 1207.0 L1690.5 1207.4 L1691.5 1207.8 L1692.5 1208.2 L1693.5 1208.5 L1694.5 1208.8 L1695.5 1209.0 L1696.5 1209.2 L1697.5 1209.4 L1698.5 1209.6 L1699.5 1209.7 L1700.5 1209.8 L1701.5 1209.8 L1702.5 1209.9 L1703.5 1209.9 L1704.5 1209.9 L1705.5 1209.9 L1706.5 1209.8 L1707.5 1209.7 L1708.5 1209.6 L1709.5 1209.5 L1710.5 1209.4 L1711.5 1209.3 L1712.5 1209.1 L1713.5 1208.9 L1714.5 1208.8 L1715.5 1208.6 L1716.5 1208.4 L1717.5 1208.2 L1718.5 1208.0 L1719.5 1207.8 L1720.5 1207.5 L1721.5 1207.3 L1722.5 1207.1 L1723.5 1206.9 L1724.5 1206.7 L1725.5 1206.5 L1726.5 1206.3 L1727.5 1206.1 L1728.5 1205.9 L1729.5 1205.7 L1730.5 1205.5 L1731.5 1205.3 L1732.5 1205.2 L1733.5 1205.0 L1734.5 1204.9 L1735.5 1204.7 L1736.5 1204.6 L1737.5 1204.5 L1738.5 1204.4 L1739.5 1204.4 L1740.5 1204.3 L1741.5 1204.3 L1742.5 1204.2 L1743.5 1204.2 L1744.5 1204.2 L1745.5 1204.3 L1746.5 1204.3 L1747.5 1204.4 L1748.5 1204.5 L1749.5 1204.6 L1750.5 1204.7 L1751.5 1204.8 L1752.5 1205.0 L1753.5 1205.2 L1754.5 1205.4 L1755.5 1205.6 L1756.5 1205.9 L1757.5 1206.1 L1758.5 1206.4 L1759.5 1206.7 L1760.5 1207.0 L1761.5 1207.4 L1762.5 1207.7 L1763.5 1208.1 L1764.5 1208.5 L1765.5 1208.9 L1766.5 1209.4 L1767.5 1209.8 L1768.5 1210.3 L1769.5 1210.8 L1770.5 1211.3 L1771.5 1211.8 L1772.5 1212.4 L1773.5 1212.9 L1774.5 1213.5 L1775.5 1214.1 L1776.5 1214.7 L1777.5 1215.3 L1778.5 1215.9 L1779.5 1216.6 L1780.5 1217.2 L1781.5 1217.9 L1782.5 1218.6 L1783.5 1219.2 L1784.5 1219.9 L1785.5 1220.6 L1786.5 1221.4 L1787.5 1222.1 L1788.5 1222.8 L1789.5 1223.5 L1790.5 1224.3 L1791.5 1225.0 L1792.5 1225.8 L1793.5 1226.5 L1794.5 1227.3 L1795.5 1228.0 L1796.5 1228.8 L1797.5 1229.6 L1798.5 1230.3 L1799.5 1231.1 L1800.5 1231.9 L1801.5 1232.6 L1802.5 1233.4 L1803.5 1234.2 L1804.5 1234.9 L1805.5 1235.7 L1806.5 1236.4 L1807.5 1237.2 L1808.5 1237.9 L1809.5 1238.7 L1810.5 1239.4 L1811.5 1240.2 L1812.5 1240.9 L1813.5 1241.6 L1814.5 1242.3 L1815.5 1243.0 L1816.5 1243.7 L1817.5 1244.4 L1818.5 1245.1 L1819.5 1245.8 L1820.5 1246.5 L1821.5 1247.1 L1822.5 1247.8 L1823.5 1248.4 L1824.5 1249.1 L1825.5 1249.7 L1826.5 1250.3 L1827.5 1250.9 L1828.5 1251.5 L1829.5 1252.1 L1830.5 1252.7 L1831.5 1253.2 L1832.5 1253.8 L1833.5 1254.3 L1834.5 1254.9 L1835.5 1255.4 L1836.5 1255.9 L1837.5 1256.4 L1838.5 1256.9 L1839.5 1257.3 L1840.5 1257.8 L1841.5 1258.3 L1842.5 1258.7 L1843.5 1259.2 L1844.5 1259.6 L1845.5 1260.0 L1846.5 1260.4 L1847.5 1260.8 L1848.5 1261.2 L1849.5 1261.5 L1850.5 1261.9 L1851.5 1262.2 L1852.5 1262.6 L1853.5 1262.9 L1854.5 1263.2 L1855.5 1263.6 L1856.5 1263.9 L1857.5 1264.2 L1858.5 1264.4 L1859.5 1264.7 L1860.5 1265.0 L1861.5 1265.2 L1862.5 1265.5 L1863.5 1265.7 L1864.5 1266.0 L1865.5 1266.2 L1866.5 1266.4 L1867.5 1266.6 L1868.5 1266.8 L1869.5 1267.0 L1870.5 1267.2 L1871.5 1267.4 L1872.5 1267.6 L1873.5 1267.7 L1874.5 1267.9 L1875.5 1268.1 L1876.5 1268.2 L1877.5 1268.3 L1878.5 1268.5 L1879.5 1268.6 L1880.5 1268.7 L1881.5 1268.9 L1882.5 1269.0 L1883.5 1269.1 L1884.5 1269.2 L1885.5 1269.3 L1886.5 1269.4 L1887.5 1269.5 L1888.5 1269.6 L1889.5 1269.7 L1890.5 1269.8 L1891.5 1269.8 L1892.5 1269.9 L1893.5 1270.0 L1894.5 1270.1 L1895.5 1270.1 L1896.5 1270.2 L1897.5 1270.2 L1898.5 1270.3 L1899.5 1270.4 L1900.5 1270.4 L1901.5 1270.5 L1902.5 1270.5 L1903.5 1270.5 L1904.5 1270.6 L1905.5 1270.6 L1906.5 1270.7 L1907.5 1270.7 L1908.5 1270.7 L1909.5 1270.8 L1910.5 1270.8 L1911.5 1270.8 L1912.5 1270.9 L1913.5 1270.9 L1914.5 1270.9 L1915.5 1270.9 L1916.5 1271.0 L1917.5 1271.0 L1918.5 1271.0 L1919.5 1271.0 L1920.5 1271.0 L1921.5 1271.0 L1922.5 1271.1 L1923.5 1271.1 L1924.5 1271.1 L1925.5 1271.1 L1926.5 1271.1 L1927.5 1271.1 L1928.5 1271.1 L1929.5 1271.2 L1930.5 1271.2 L1931.5 1271.2 L1932.5 1271.2 L1933.5 1271.2 L1934.5 1271.2 L1935.5 1271.2 L1936.5 1271.2 L1937.5 1271.2 L1938.5 1271.2 L1939.5 1271.2 L1940.5 1271.2 L1941.5 1271.2 L1942.5 1271.2 L1943.5 1271.2 L1944.5 1271.2 L1945.5 1271.3 L1946.5 1271.3 L1947.5 1271.3 L1948.5 1271.3 L1949.5 1271.3 L1950.5 1271.3 L1951.5 1271.3 L1952.5 1271.3 L1953.5 1271.3 L1954.5 1271.3 L1955.5 1271.3 L1956.5 1271.3 L1957.5 1271.3 L1958.5 1271.3 L1959.5 1271.3 L1960.5 1271.3 L1961.5 1271.3 L1962.5 1271.3 L1963.5 1271.3 L1964.5 1271.3 L1965.5 1271.3 L1966.5 1271.3 L1967.5 1271.3 L1968.5 1271.3 L1969.5 1271.3 L1970.5 1271.3 L1971.5 1271.3 L1972.5 1271.3 L1973.5 1271.3 L1974.5 1271.3 L1975.5 1271.3 L1976.5 1271.3 L1977.5 1271.3 L1978.5 1271.3 L1979.5 1271.3 L1980.5 1271.3 L1981.5 1271.3 L1982.5 1271.3 L1983.5 1271.3 L1984.5 1271.3 L1985.5 1271.3 L1986.5 1271.3 L1987.5 1271.3 L1988.5 1271.3 L1989.5 1271.3 L1990.5 1271.3 L1991.5 1271.3 L1992.5 1271.3 L1993.5 1271.3 L1994.5 1271.3 L1995.5 1271.3 L1996.5 1271.3 L1997.5 1271.3 L1998.5 1271.3 L1999.5 1271.3 L2000.5 1271.3 L2001.5 1271.3 L2002.5 1271.3 L2003.5 1271.3 L2004.5 1271.3 L2005.5 1271.3 L2006.5 1271.3 L2007.5 1271.3 L2008.5 1271.3 L2009.5 1271.3 L2010.5 1271.3 L2011.5 1271.3 L2012.5 1271.3 L2013.5 1271.3 L2014.5 1271.3 L2015.5 1271.3 L2016.5 1271.3 L2017.5 1271.3 L2018.5 1271.3 L2019.5 1271.3 L2020.5 1271.3 L2021.5 1271.3 L2022.5 1271.3 L2023.5 1271.3 L2024.5 1271.3 L2025.5 1271.3 L2026.5 1271.3 L2027.5 1271.3" stroke-width="6.0"/>
</g>
<path clip-path="url(#clip-a)" shape-rendering="crispEdges" d="M230.4 1163.5 L231.4 1163.8 L232.4 1164.0 L233.4 1164.2 L234.4 1164.4 L235.4 1164.5 L236.4 1164.6 L237.4 1164.6 L238.4 1164.7 L239.4 1164.7 L240.4 1164.7 L241.4 1164.7 L242.4 1164.7 L243.4 1164.5 L244.4 1164.3 L245.4 1164.0 L246.4 1163.7 L247.5 1163.3 L248.5 1162.8 L249.5 1162.3 L250.5 1161.8 L251.5 1161.2 L252.5 1160.7 L253.5 1160.2 L254.5 1159.7 L255.5 1159.2 L256.5 1158.6 L257.5 1158.1 L258.5 1157.5 L259.5 1156.9 L260.5 1156.3 L261.5 1155.7 L262.5 1155.0 L263.5 1154.4 L264.5 1153.7 L265.5 1153.0 L266.5 1152.3 L267.5 1151.5 L268.5 1150.8 L269.5 1150.0 L270.5 1149.3 L271.5 1148.5 L272.5 1147.7 L273.5 1147.0 L274.5 1146.2 L275.5 1145.3 L276.5 1144.5 L277.5 1143.6 L278.5 1142.8 L279.6 1141.9 L280.6 1141.0 L281.6 1140.1 L282.6 1139.1 L283.6 1138.2 L284.6 1137.2 L285.6 1136.2 L286.6 1135.2 L287.6 1134.2 L288.6 1133.2 L289.6 1132.1 L290.6 1131.1 L291.6 1130.0 L292.6 1128.9 L293.6 1127.8 L294.6 1126.6 L295.6 1125.5 L296.6 1124.3 L297.6 1123.1 L298.6 1121.8 L299.6 1120.6 L300.6 1119.3 L301.6 1117.9 L302.6 1116.5 L303.6 1115.1 L304.6 1113.7 L305.6 1112.1 L306.6 1110.6 L307.6 1109.0 L308.6 1107.3 L309.6 1105.5 L310.6 1103.6 L311.6 1101.7 L312.7 1099.7 L313.7 1097.6 L314.7 1095.5 L315.7 1093.3 L316.7 1091.0 L317.7 1088.7 L318.7 1086.2 L319.7 1083.6 L320.7 1080.9 L321.7 1078.1 L322.7 1075.2 L323.7 1072.3 L324.7 1069.2 L325.7 1066.1 L326.7 1062.9 L327.7 1059.7 L328.7 1056.4 L329.7 1053.1 L330.7 1049.7 L331.7 1046.1 L332.7 1042.4 L333.7 1038.6 L334.7 1034.5 L335.7 1030.2 L336.7 1025.7 L337.7 1020.7 L338.7 1015.4 L339.7 1009.8 L340.7 1004.0 L341.7 998.0 L342.7 991.9 L343.7 985.7 L344.8 979.5 L345.8 973.1 L346.8 966.4 L347.8 959.6 L348.8 952.6 L349.8 945.5 L350.8 938.5 L351.8 931.4 L352.8 924.4 L353.8 917.3 L354.8 910.2 L355.8 903.0 L356.8 895.8 L357.8 888.6 L358.8 881.3 L359.8 873.9 L360.8 866.5 L361.8 859.1 L362.8 851.6 L363.8 844.0 L364.8 836.3 L365.8 828.3 L366.8 819.9 L367.8 811.5 L368.8 803.6 L369.8 796.4 L370.8 790.0 L371.8 783.5 L372.8 775.6 L373.8 766.6 L374.8 756.7 L375.8 746.2 L376.8 735.3 L377.9 724.3 L378.9 713.6 L379.9 703.1 L380.9 692.3 L381.9 681.5 L382.9 670.6 L383.9 659.9 L384.9 649.6 L385.9 639.8 L386.9 630.5 L387.9 621.5 L388.9 612.6 L389.9 603.8 L390.9 594.9 L391.9 585.8 L392.9 576.2 L393.9 566.2 L394.9 556.5 L395.9 547.3 L396.9 538.5 L397.9 530.0 L398.9 521.9 L399.9 514.0 L400.9 506.6 L401.9 499.4 L402.9 492.5 L403.9 486.0 L404.9 480.0 L405.9 474.8 L406.9 470.0 L407.9 465.1 L408.9 460.1 L410.0 454.7 L411.0 448.3 L412.0 441.8 L413.0 435.7 L414.0 430.4 L415.0 426.9 L416.0 424.1 L417.0 421.7 L418.0 419.7 L419.0 417.9 L420.0 416.2 L421.0 414.6 L422.0 413.3 L423.0 411.9 L424.0 410.6 L425.0 409.2 L426.0 407.8 L427.0 408.1 L428.0 408.3 L429.0 408.6 L430.0 408.8 L431.0 409.0 L432.0 409.4 L433.0 410.1 L434.0 411.2 L435.0 412.7 L436.0 414.3 L437.0 416.2 L438.0 418.8 L439.0 421.9 L440.0 425.3 L441.0 428.7 L442.0 432.2 L443.0 435.9 L444.0 439.9 L445.0 444.0 L446.0 448.4 L447.0 453.0 L448.0 457.8 L449.0 462.9 L450.0 468.4 L451.0 474.5 L452.0 480.8 L453.0 487.1 L454.0 493.4 L455.0 499.9 L456.0 506.7 L457.0 514.0 L458.0 521.8 L459.0 529.5 L460.0 537.1 L461.0 544.7 L462.0 552.2 L463.0 559.7 L464.0 567.1 L465.0 574.4 L466.0 582.0 L467.0 589.9 L468.0 597.9 L469.0 606.1 L470.0 614.5 L471.0 622.9 L472.0 631.4 L473.0 640.1 L474.0 648.8 L475.0 657.8 L476.0 667.1 L477.0 676.4 L478.0 685.7 L479.0 694.9 L480.0 703.8 L481.0 712.3 L482.0 720.5 L483.0 728.6 L484.0 736.6 L485.0 744.4 L486.0 752.2 L487.0 759.8 L488.0 767.3 L489.0 774.8 L490.0 782.2 L491.0 789.8 L492.0 796.9 L493.0 802.9 L494.0 808.3 L495.0 813.2 L496.0 817.9 L497.0 822.4 L498.0 826.8 L499.0 831.2 L500.0 835.7 L501.0 840.4 L502.0 845.2 L503.0 849.9 L504.0 854.6 L505.0 859.0 L506.0 863.0 L507.0 866.7 L508.0 870.1 L509.0 873.5 L510.0 876.7 L511.0 879.7 L512.0 882.4 L513.0 884.7 L514.0 886.5 L515.0 888.0 L516.0 889.4 L517.0 890.7 L518.0 891.8 L519.0 892.5 L520.0 892.8 L521.0 892.7 L522.0 892.4 L523.0 891.9 L524.0 891.2 L525.0 890.4 L526.0 889.6 L527.0 888.7 L528.0 887.7 L529.0 886.3 L530.0 884.7 L531.0 882.8 L532.0 880.7 L533.0 878.6 L534.0 876.5 L535.0 874.4 L536.0 872.5 L537.0 870.6 L538.0 868.6 L539.0 866.6 L540.0 864.6 L541.0 862.6 L542.0 860.8 L543.0 859.0 L544.0 857.5 L545.0 856.1 L546.0 854.8 L547.0 853.5 L548.0 852.3 L549.0 851.1 L550.0 850.0 L551.0 849.0 L552.0 848.1 L553.0 847.4 L554.0 846.8 L555.0 846.4 L556.0 846.0 L557.0 845.8 L558.0 845.6 L559.0 845.5 L560.0 845.6 L561.0 845.7 L562.0 845.9 L563.0 846.2 L564.0 846.5 L565.0 847.0 L566.0 847.6 L567.0 848.3 L568.0 849.2 L569.0 850.1 L570.0 851.1 L571.0 852.2 L572.0 853.3 L573.0 854.4 L574.0 855.4 L575.0 856.5 L576.0 857.7 L577.0 858.9 L578.0 860.2 L579.0 861.6 L580.0 863.0 L581.0 864.4 L582.0 865.9 L583.0 867.4 L584.0 869.0 L585.0 870.5 L586.0 872.1 L587.0 873.9 L588.0 875.7 L589.0 877.5 L590.0 879.4 L591.0 881.4 L592.0 883.4 L593.0 885.4 L594.0 887.3 L595.0 889.3 L596.0 891.2 L597.0 893.0 L598.0 894.8 L599.0 896.6 L600.0 898.4 L601.0 900.2 L602.0 902.1 L603.0 903.9 L604.0 905.6 L605.0 907.4 L606.0 909.1 L607.0 910.8 L608.0 912.4 L609.0 914.0 L610.0 915.4 L611.0 916.9 L612.0 918.2 L613.0 919.5 L614.0 920.7 L615.0 921.9 L616.0 923.0 L617.0 924.1 L618.0 925.2 L619.0 926.3 L620.0 927.3 L621.0 928.4 L622.0 929.4 L623.0 930.4 L624.0 931.4 L625.0 932.5 L626.0 933.5 L627.0 934.5 L628.0 935.5 L629.0 936.5 L630.0 937.4 L631.0 938.4 L632.0 939.3 L633.0 940.3 L634.0 941.2 L635.0 942.2 L636.0 943.2 L637.0 944.2 L638.0 945.2 L639.0 946.3 L640.0 947.4 L641.0 948.6 L642.0 949.9 L643.0 951.3 L644.0 952.7 L645.0 954.1 L646.0 955.6 L647.0 957.1 L648.0 958.6 L649.0 960.1 L650.0 961.6 L651.0 963.1 L652.0 964.5 L653.0 965.9 L654.0 967.2 L655.0 968.5 L656.0 969.8 L657.0 971.1 L658.0 972.4 L659.0 973.8 L660.0 975.1 L661.0 976.4 L662.0 977.8 L663.0 979.3 L664.0 980.7 L665.0 982.3 L666.0 983.9 L667.0 985.6 L668.0 987.4 L669.0 989.2 L670.0 991.0 L671.0 992.9 L672.0 994.8 L673.0 996.6 L674.0 998.5 L675.0 1000.4 L676.0 1002.3 L677.0 1004.1 L678.0 1005.9 L679.0 1007.6 L680.0 1009.3 L681.0 1011.0 L682.0 1012.6 L683.0 1014.2 L684.0 1015.9 L685.0 1017.5 L686.0 1019.1 L687.0 1020.7 L688.0 1022.2 L689.0 1023.8 L690.0 1025.4 L691.0 1026.9 L692.0 1028.5 L693.0 1030.0 L694.0 1031.6 L695.0 1033.1 L696.0 1034.7 L697.0 1036.3 L698.0 1037.9 L699.0 1039.5 L700.0 1041.1 L701.0 1042.7 L702.0 1044.2 L703.0 1045.7 L704.0 1047.2 L705.0 1048.6 L706.0 1050.0 L707.0 1051.3 L708.0 1052.5 L709.0 1053.7 L710.0 1054.9 L711.0 1056.0 L712.0 1057.1 L713.0 1058.2 L714.0 1059.2 L715.0 1060.3 L716.0 1061.3 L717.0 1062.2 L718.0 1063.2 L719.0 1064.2 L720.0 1065.1 L721.0 1066.0 L722.0 1066.9 L723.0 1067.8 L724.0 1068.7 L725.0 1069.6 L726.0 1070.4 L727.0 1071.2 L728.0 1072.0 L729.0 1072.8 L730.0 1073.6 L731.0 1074.3 L732.0 1075.1 L733.0 1075.8 L734.0 1076.5 L735.0 1077.2 L736.0 1078.0 L737.0 1078.7 L738.0 1079.4 L739.0 1080.1 L740.0 1080.9 L741.0 1081.6 L742.0 1082.4 L743.0 1083.2 L744.0 1084.0 L745.0 1084.8 L746.0 1085.7 L747.0 1086.6 L748.0 1087.6 L749.0 1088.5 L750.0 1089.4 L751.0 1090.3 L752.0 1091.3 L753.0 1092.2 L754.0 1093.0 L755.0 1093.9 L756.0 1094.7 L757.0 1095.4 L758.0 1096.2 L759.0 1096.8 L760.0 1097.4 L761.0 1097.9 L762.0 1098.4 L763.0 1098.9 L764.0 1099.4 L765.0 1099.9 L766.0 1100.3 L767.0 1100.7 L768.0 1101.1 L769.0 1101.5 L770.0 1101.8 L771.0 1102.2 L772.0 1102.5 L773.0 1102.8 L774.0 1103.1 L775.0 1103.4 L776.0 1103.6 L777.0 1103.9 L778.0 1104.1 L779.0 1104.4 L780.0 1104.6 L781.0 1104.8 L782.0 1105.0 L783.0 1105.2 L784.0 1105.4 L785.0 1105.6 L786.0 1105.8 L787.0 1105.9 L788.0 1106.1 L789.0 1106.2 L790.0 1106.3 L791.0 1106.4 L792.0 1106.5 L793.0 1106.6 L794.0 1106.6 L795.0 1106.7 L796.0 1106.8 L797.0 1106.8 L798.0 1106.9 L799.0 1106.9 L800.0 1107.0 L801.0 1107.1 L802.0 1107.1 L803.0 1107.2 L804.0 1107.3 L805.0 1107.4 L806.0 1107.5 L807.0 1107.7 L808.0 1107.8 L809.0 1108.0 L810.0 1108.2 L811.0 1108.5 L812.0 1108.8 L813.0 1109.1 L814.0 1109.4 L815.0 1109.8 L816.0 1110.1 L817.0 1110.5 L818.0 1110.9 L819.0 1111.3 L820.0 1111.7 L821.0 1112.1 L822.0 1112.6 L823.0 1113.0 L824.0 1113.4 L825.0 1113.8 L826.0 1114.3 L827.0 1114.8 L828.0 1115.3 L829.0 1115.9 L830.0 1116.5 L831.0 1117.1 L832.0 1117.7 L833.0 1118.3 L834.0 1118.9 L835.0 1119.5 L836.0 1120.2 L837.0 1120.8 L838.0 1121.4 L839.0 1122.1 L840.0 1122.7 L841.0 1123.3 L842.0 1123.9 L843.0 1124.4 L844.0 1125.0 L845.0 1125.6 L846.0 1126.2 L847.0 1126.8 L848.0 1127.4 L849.0 1128.0 L850.0 1128.6 L851.0 1129.2 L852.0 1129.8 L853.0 1130.4 L854.0 1131.0 L855.0 1131.6 L856.0 1132.1 L857.0 1132.7 L858.0 1133.3 L859.0 1133.8 L860.0 1134.3 L861.0 1134.9 L862.0 1135.4 L863.0 1135.9 L864.0 1136.5 L865.0 1137.0 L866.0 1137.5 L867.0 1138.0 L868.0 1138.5 L869.0 1139.0 L870.0 1139.5 L871.0 1140.0 L872.0 1140.5 L873.0 1141.0 L874.0 1141.4 L875.0 1141.9 L876.0 1142.3 L877.0 1142.7 L878.0 1143.2 L879.0 1143.6 L880.0 1144.0 L881.0 1144.4 L882.0 1144.8 L883.0 1145.2 L884.0 1145.6 L885.0 1146.0 L886.0 1146.4 L887.0 1146.8 L888.0 1147.2 L889.0 1147.5 L890.0 1147.9 L891.0 1148.3 L892.0 1148.6 L893.0 1149.0 L894.0 1149.3 L895.0 1149.7 L896.0 1150.0 L897.0 1150.4 L898.0 1150.7 L899.0 1151.0 L900.0 1151.4 L901.0 1151.7 L902.0 1152.0 L903.0 1152.3 L904.0 1152.7 L905.0 1153.0 L906.0 1153.3 L907.0 1153.6 L908.0 1153.9 L909.0 1154.2 L910.0 1154.5 L911.0 1154.8 L912.0 1155.1 L913.0 1155.3 L914.0 1155.6 L915.0 1155.9 L916.0 1156.1 L917.0 1156.4 L918.0 1156.6 L919.0 1156.9 L920.0 1157.1 L921.0 1157.3 L922.0 1157.6 L923.0 1157.8 L924.0 1158.0 L925.0 1158.3 L926.0 1158.5 L927.0 1158.7 L928.0 1158.9 L929.0 1159.1 L930.0 1159.3 L931.0 1159.5 L932.0 1159.7 L933.0 1159.9 L934.0 1160.1 L935.0 1160.3 L936.0 1160.5 L937.0 1160.7 L938.0 1160.9 L939.0 1161.0 L940.0 1161.2 L941.0 1161.4 L942.0 1161.6 L943.0 1161.8 L944.0 1161.9 L945.0 1162.1 L946.0 1162.3 L947.0 1162.5 L948.0 1162.7 L949.0 1162.8 L950.0 1163.0 L951.0 1163.2 L952.0 1163.3 L953.0 1163.5 L954.0 1163.7 L955.0 1163.8 L956.0 1164.0 L957.0 1164.1 L958.0 1164.2 L959.0 1164.3 L960.0 1164.4 L961.0 1164.5 L962.0 1164.6 L963.0 1164.7 L964.0 1164.8 L965.0 1164.8 L966.0 1164.9 L967.0 1165.0 L968.0 1165.0 L969.0 1165.1 L970.0 1165.1 L971.0 1165.2 L972.0 1165.3 L973.0 1165.3 L974.0 1165.4 L975.0 1165.4 L976.0 1165.4 L977.0 1165.5 L978.0 1165.5 L979.0 1165.5 L980.0 1165.6 L981.0 1165.6 L982.0 1165.6 L983.0 1165.6 L984.0 1165.6 L985.0 1165.6 L986.0 1165.5 L987.0 1165.5 L988.0 1165.4 L989.0 1165.4 L990.0 1165.3 L991.0 1165.2 L992.0 1165.1 L993.0 1165.0 L994.0 1164.9 L995.0 1164.8 L996.0 1164.8 L997.0 1164.7 L998.0 1164.6 L999.0 1164.5 L1000.0 1164.4 L1001.0 1164.3 L1002.0 1164.3 L1003.0 1164.2 L1004.0 1164.2 L1005.0 1164.1 L1006.0 1164.1 L1007.0 1164.1 L1008.0 1164.1 L1009.0 1164.1 L1010.0 1164.1 L1011.0 1164.1 L1012.0 1164.1 L1013.0 1164.1 L1014.0 1164.1 L1015.0 1164.1 L1016.0 1164.1 L1017.0 1164.1 L1018.0 1164.1 L1019.0 1164.1 L1020.0 1164.1 L1021.0 1164.1 L1022.0 1164.1 L1023.0 1164.1 L1024.0 1164.1 L1025.0 1164.1 L1026.0 1164.1 L1027.0 1164.1 L1028.0 1164.1 L1029.0 1164.1 L1030.0 1164.1 L1031.0 1164.1 L1032.0 1164.1 L1033.0 1164.1 L1034.0 1164.1 L1035.0 1164.1 L1036.0 1164.1 L1037.0 1164.1 L1038.0 1164.1 L1039.0 1164.1 L1040.0 1164.1 L1041.0 1164.1 L1042.0 1164.1 L1043.0 1164.1 L1044.0 1164.1 L1045.0 1164.1 L1046.0 1164.1 L1047.0 1164.1 L1048.0 1164.1 L1049.0 1164.1 L1050.0 1164.1 L1051.0 1164.1 L1052.0 1164.1 L1053.0 1164.1 L1054.0 1164.1 L1055.0 1164.1 L1056.0 1164.1 L1057.0 1164.1 L1058.0 1164.1 L1059.0 1164.1 L1060.0 1164.1 L1061.0 1164.1 L1062.0 1164.1 L1063.0 1164.2 L1064.0 1164.2 L1065.0 1164.2 L1066.0 1164.2 L1067.0 1164.2 L1068.0 1164.3 L1069.0 1164.3 L1070.0 1164.3 L1071.0 1164.3 L1072.0 1164.4 L1073.0 1164.4 L1074.0 1164.4 L1075.0 1164.5 L1076.0 1164.5 L1077.0 1164.5 L1078.0 1164.6 L1079.0 1164.6 L1080.0 1164.6 L1081.0 1164.7 L1082.0 1164.7 L1083.0 1164.7 L1084.0 1164.8 L1085.0 1164.8 L1086.0 1164.8 L1087.0 1164.9 L1088.0 1164.9 L1089.0 1165.0 L1090.0 1165.0" fill="none" stroke="#0000ff" stroke-width="6.0" stroke-linejoin="round"/>
<path clip-path="url(#clip-b)" shape-rendering="crispEdges" d="M1166.0 1174.0 L1167.0 1173.7 L1168.0 1173.5 L1169.0 1173.2 L1170.0 1172.9 L1171.0 1172.6 L1172.0 1172.2 L1173.0 1171.9 L1174.0 1171.6 L1175.0 1171.3 L1176.0 1170.9 L1177.0 1170.6 L1178.0 1170.2 L1179.0 1169.8 L1180.0 1169.4 L1181.0 1169.1 L1182.0 1168.7 L1183.0 1168.3 L1184.0 1167.9 L1185.0 1167.5 L1186.0 1167.1 L1187.0 1166.6 L1188.0 1166.2 L1189.0 1165.8 L1190.0 1165.4 L1191.0 1164.9 L1192.0 1164.5 L1193.0 1164.0 L1194.0 1163.5 L1195.0 1163.0 L1196.0 1162.5 L1197.0 1162.0 L1198.0 1161.5 L1199.0 1161.0 L1200.0 1160.5 L1201.0 1159.9 L1202.0 1159.3 L1203.0 1158.8 L1204.0 1158.2 L1205.0 1157.6 L1206.0 1157.0 L1207.0 1156.4 L1208.0 1155.8 L1209.0 1155.2 L1210.0 1154.5 L1211.0 1153.7 L1212.0 1152.8 L1213.0 1151.9 L1214.0 1150.9 L1215.0 1149.9 L1216.0 1149.0 L1217.0 1148.1 L1218.0 1147.4 L1219.0 1146.9 L1220.0 1146.5 L1221.0 1146.4 L1222.0 1146.4 L1223.0 1146.4 L1224.0 1146.4 L1225.0 1146.4 L1226.0 1146.4 L1227.0 1146.4 L1228.0 1146.4 L1229.0 1146.4 L1230.0 1146.4 L1231.0 1146.4 L1232.0 1146.4 L1233.0 1146.4 L1234.0 1146.0 L1235.0 1145.3 L1236.0 1144.4 L1237.0 1143.2 L1238.0 1141.8 L1239.0 1140.4 L1240.0 1138.8 L1241.0 1137.2 L1242.0 1135.7 L1243.0 1134.2 L1244.0 1132.6 L1245.0 1130.9 L1246.0 1129.0 L1247.0 1127.0 L1248.0 1124.9 L1249.0 1122.8 L1250.0 1120.5 L1251.0 1118.2 L1252.0 1115.9 L1253.0 1113.5 L1254.0 1111.1 L1255.0 1108.5 L1256.0 1105.8 L1257.0 1103.1 L1258.0 1100.2 L1259.0 1097.3 L1260.0 1094.3 L1261.0 1091.2 L1262.0 1088.0 L1263.0 1084.7 L1264.0 1081.4 L1265.0 1077.9 L1266.0 1074.2 L1267.0 1070.5 L1268.0 1066.7 L1269.0 1062.8 L1270.0 1058.8 L1271.0 1054.7 L1272.0 1050.5 L1273.0 1046.1 L1274.0 1041.6 L1275.0 1036.9 L1276.0 1032.0 L1277.0 1026.8 L1278.0 1021.4 L1279.0 1015.7 L1280.0 1010.0 L1281.0 1004.4 L1282.0 998.9 L1283.0 993.9 L1284.0 989.0 L1285.0 984.2 L1286.0 979.1 L1287.0 973.6 L1288.0 967.4 L1289.0 960.6 L1290.0 953.1 L1291.0 945.1 L1292.0 936.7 L1293.0 928.0 L1294.0 919.2 L1295.0 910.2 L1296.0 900.8 L1297.0 890.9 L1298.0 880.7 L1299.0 870.3 L1300.0 860.1 L1301.0 850.0 L1302.0 840.0 L1303.0 830.0 L1304.0 820.0 L1305.0 810.0 L1306.0 800.0 L1307.0 790.0 L1308.0 780.2 L1309.0 770.4 L1310.0 760.5 L1311.0 750.4 L1312.0 740.1 L1313.0 729.4 L1314.0 718.4 L1315.0 707.1 L1316.0 695.7 L1317.0 684.2 L1318.0 672.4 L1319.0 660.4 L1320.0 648.4 L1321.0 636.4 L1322.0 624.6 L1323.0 613.1 L1324.0 601.8 L1325.0 590.6 L1326.0 579.5 L1327.0 568.6 L1328.0 557.6 L1329.0 546.6 L1330.0 535.6 L1331.0 524.9 L1332.0 514.6 L1333.0 505.1 L1334.0 496.1 L1335.0 487.4 L1336.0 479.1 L1337.0 470.9 L1338.0 462.9 L1339.0 454.9 L1340.0 446.9 L1341.0 439.0 L1342.0 431.4 L1343.0 424.2 L1344.0 417.6 L1345.0 411.6 L1346.0 405.8 L1347.0 400.3 L1348.0 395.1 L1349.0 390.2 L1350.0 385.5 L1351.0 381.0 L1352.0 376.7 L1353.0 372.3 L1354.0 368.1 L1355.0 364.1 L1356.0 360.7 L1357.0 358.0 L1358.0 356.1 L1359.0 354.4 L1360.0 352.9 L1361.0 351.6 L1362.0 350.6 L1363.0 350.1 L1364.0 350.0 L1365.0 350.2 L1366.0 350.7 L1367.0 351.2 L1368.0 351.9 L1369.0 352.6 L1370.0 353.4 L1371.0 354.6 L1372.0 356.1 L1373.0 357.8 L1374.0 359.9 L1375.0 362.2 L1376.0 364.8 L1377.0 368.0 L1378.0 372.2 L1379.0 377.2 L1380.0 382.8 L1381.0 388.7 L1382.0 394.7 L1383.0 400.7 L1384.0 406.7 L1385.0 412.9 L1386.0 419.4 L1387.0 426.2 L1388.0 433.1 L1389.0 440.2 L1390.0 447.4 L1391.0 454.7 L1392.0 462.3 L1393.0 470.1 L1394.0 478.3 L1395.0 486.9 L1396.0 496.2 L1397.0 505.8 L1398.0 515.6 L1399.0 525.3 L1400.0 534.7 L1401.0 544.1 L1402.0 553.5 L1403.0 563.0 L1404.0 572.7 L1405.0 582.7 L1406.0 592.8 L1407.0 602.7 L1408.0 612.1 L1409.0 620.9 L1410.0 629.2 L1411.0 637.5 L1412.0 646.3 L1413.0 655.7 L1414.0 665.6 L1415.0 675.9 L1416.0 686.3 L1417.0 696.5 L1418.0 706.8 L1419.0 717.2 L1420.0 727.3 L1421.0 737.0 L1422.0 746.4 L1423.0 755.6 L1424.0 764.6 L1425.0 772.9 L1426.0 780.5 L1427.0 787.4 L1428.0 793.8 L1429.0 799.8 L1430.0 805.5 L1431.0 811.0 L1432.0 816.5 L1433.0 821.9 L1434.0 827.4 L1435.0 832.7 L1436.0 837.8 L1437.0 842.6 L1438.0 847.0 L1439.0 851.0 L1440.0 854.8 L1441.0 858.5 L1442.0 861.8 L1443.0 864.6 L1444.0 866.8 L1445.0 868.4 L1446.0 869.6 L1447.0 870.8 L1448.0 872.2 L1449.0 873.5 L1450.0 874.8 L1451.0 873.7 L1452.0 872.6 L1453.0 871.5 L1454.0 870.5 L1455.0 869.4 L1456.0 868.0 L1457.0 866.2 L1458.0 863.9 L1459.0 861.3 L1460.0 858.5 L1461.0 855.5 L1462.0 852.4 L1463.0 848.9 L1464.0 845.0 L1465.0 840.9 L1466.0 836.6 L1467.0 832.1 L1468.0 827.6 L1469.0 822.9 L1470.0 817.9 L1471.0 812.8 L1472.0 807.6 L1473.0 802.3 L1474.0 797.0 L1475.0 791.3 L1476.0 785.6 L1477.0 780.0 L1478.0 774.5 L1479.0 769.4 L1480.0 764.5 L1481.0 759.8 L1482.0 755.2 L1483.0 750.8 L1484.0 746.6 L1485.0 742.6 L1486.0 738.7 L1487.0 734.9 L1488.0 731.2 L1489.0 727.9 L1490.0 724.8 L1491.0 722.2 L1492.0 719.7 L1493.0 717.2 L1494.0 714.9 L1495.0 712.9 L1496.0 711.2 L1497.0 709.8 L1498.0 708.8 L1499.0 708.1 L1500.0 707.4 L1501.0 706.8 L1502.0 706.2 L1503.0 705.8 L1504.0 705.6 L1505.0 705.5 L1506.0 705.6 L1507.0 706.0 L1508.0 706.6 L1509.0 707.3 L1510.0 708.2 L1511.0 709.1 L1512.0 710.1 L1513.0 711.2 L1514.0 712.2 L1515.0 713.4 L1516.0 714.9 L1517.0 716.5 L1518.0 718.2 L1519.0 720.0 L1520.0 721.9 L1521.0 723.8 L1522.0 725.7 L1523.0 727.5 L1524.0 729.3 L1525.0 731.2 L1526.0 733.1 L1527.0 735.1 L1528.0 737.1 L1529.0 739.2 L1530.0 741.3 L1531.0 743.6 L1532.0 745.9 L1533.0 748.4 L1534.0 750.9 L1535.0 753.6 L1536.0 756.3 L1537.0 759.1 L1538.0 761.9 L1539.0 764.7 L1540.0 767.6 L1541.0 770.4 L1542.0 773.3 L1543.0 776.2 L1544.0 779.2 L1545.0 782.2 L1546.0 785.2 L1547.0 788.3 L1548.0 791.4 L1549.0 794.6 L1550.0 797.8 L1551.0 801.1 L1552.0 804.4 L1553.0 807.8 L1554.0 811.2 L1555.0 814.6 L1556.0 818.0 L1557.0 821.3 L1558.0 824.7 L1559.0 828.0 L1560.0 831.4 L1561.0 834.8 L1562.0 838.2 L1563.0 841.5 L1564.0 844.9 L1565.0 848.1 L1566.0 851.3 L1567.0 854.5 L1568.0 857.6 L1569.0 860.7 L1570.0 863.7 L1571.0 866.8 L1572.0 869.8 L1573.0 872.8 L1574.0 875.7 L1575.0 878.6 L1576.0 881.6 L1577.0 884.5 L1578.0 887.3 L1579.0 890.2 L1580.0 893.0 L1581.0 895.8 L1582.0 898.5 L1583.0 901.3 L1584.0 904.0 L1585.0 906.7 L1586.0 909.5 L1587.0 912.2 L1588.0 914.9 L1589.0 917.6 L1590.0 920.4 L1591.0 923.1 L1592.0 925.9 L1593.0 928.6 L1594.0 931.3 L1595.0 934.1 L1596.0 936.8 L1597.0 939.5 L1598.0 942.2 L1599.0 945.0 L1600.0 947.7 L1601.0 950.5 L1602.0 953.2 L1603.0 956.0 L1604.0 958.8 L1605.0 961.7 L1606.0 964.5 L1607.0 967.4 L1608.0 970.2 L1609.0 973.0 L1610.0 975.7 L1611.0 978.4 L1612.0 981.0 L1613.0 983.5 L1614.0 985.9 L1615.0 988.3 L1616.0 990.7 L1617.0 993.0 L1618.0 995.2 L1619.0 997.5 L1620.0 999.7 L1621.0 1001.8 L1622.0 1004.0 L1623.0 1006.1 L1624.0 1008.2 L1625.0 1010.3 L1626.0 1012.4 L1627.0 1014.5 L1628.0 1016.6 L1629.0 1018.7 L1630.0 1020.8 L1631.0 1022.9 L1632.0 1025.0 L1633.0 1027.1 L1634.0 1029.1 L1635.0 1031.2 L1636.0 1033.2 L1637.0 1035.2 L1638.0 1037.2 L1639.0 1039.1 L1640.0 1041.0 L1641.0 1042.8 L1642.0 1044.6 L1643.0 1046.4 L1644.0 1048.2 L1645.0 1049.9 L1646.0 1051.6 L1647.0 1053.3 L1648.0 1055.0 L1649.0 1056.6 L1650.0 1058.2 L1651.0 1059.8 L1652.0 1061.4 L1653.0 1062.9 L1654.0 1064.4 L1655.0 1065.8 L1656.0 1067.2 L1657.0 1068.6 L1658.0 1070.0 L1659.0 1071.3 L1660.0 1072.6 L1661.0 1073.8 L1662.0 1075.1 L1663.0 1076.3 L1664.0 1077.5 L1665.0 1078.7 L1666.0 1079.8 L1667.0 1080.9 L1668.0 1082.1 L1669.0 1083.2 L1670.0 1084.3 L1671.0 1085.4 L1672.0 1086.5 L1673.0 1087.6 L1674.0 1088.6 L1675.0 1089.7 L1676.0 1090.7 L1677.0 1091.8 L1678.0 1092.8 L1679.0 1093.8 L1680.0 1094.8 L1681.0 1095.8 L1682.0 1096.7 L1683.0 1097.7 L1684.0 1098.6 L1685.0 1099.4 L1686.0 1100.2 L1687.0 1101.1 L1688.0 1101.9 L1689.0 1102.7 L1690.0 1103.5 L1691.0 1104.3 L1692.0 1105.1 L1693.0 1105.8 L1694.0 1106.5 L1695.0 1107.2 L1696.0 1107.9 L1697.0 1108.5 L1698.0 1109.1 L1699.0 1109.6 L1700.0 1110.1 L1701.0 1110.6 L1702.0 1111.0 L1703.0 1111.5 L1704.0 1112.0 L1705.0 1112.4 L1706.0 1112.9 L1707.0 1113.3 L1708.0 1113.7 L1709.0 1114.0 L1710.0 1114.4 L1711.0 1114.6 L1712.0 1114.8 L1713.0 1115.0 L1714.0 1115.1 L1715.0 1115.1 L1716.0 1115.1 L1717.0 1115.1 L1718.0 1115.1 L1719.0 1115.0 L1720.0 1115.0 L1721.0 1115.0 L1722.0 1114.9 L1723.0 1114.9 L1724.0 1114.9 L1725.0 1114.8 L1726.0 1114.8 L1727.0 1114.7 L1728.0 1114.7 L1729.0 1114.6 L1730.0 1114.6 L1731.0 1114.5 L1732.0 1114.4 L1733.0 1114.3 L1734.0 1114.2 L1735.0 1114.1 L1736.0 1114.0 L1737.0 1113.9 L1738.0 1113.7 L1739.0 1113.6 L1740.0 1113.5 L1741.0 1113.4 L1742.0 1113.3 L1743.0 1113.2 L1744.0 1113.2 L1745.0 1113.1 L1746.0 1113.1 L1747.0 1113.1 L1748.0 1113.1 L1749.0 1113.2 L1750.0 1113.3 L1751.0 1113.4 L1752.0 1113.6 L1753.0 1113.8 L1754.0 1114.0 L1755.0 1114.2 L1756.0 1114.5 L1757.0 1114.7 L1758.0 1115.0 L1759.0 1115.3 L1760.0 1115.6 L1761.0 1115.9 L1762.0 1116.3 L1763.0 1116.6 L1764.0 1116.9 L1765.0 1117.3 L1766.0 1117.7 L1767.0 1118.1 L1768.0 1118.6 L1769.0 1119.2 L1770.0 1119.8 L1771.0 1120.4 L1772.0 1121.1 L1773.0 1121.8 L1774.0 1122.5 L1775.0 1123.2 L1776.0 1123.9 L1777.0 1124.6 L1778.0 1125.3 L1779.0 1126.0 L1780.0 1126.7 L1781.0 1127.3 L1782.0 1128.0 L1783.0 1128.6 L1784.0 1129.3 L1785.0 1130.0 L1786.0 1130.7 L1787.0 1131.4 L1788.0 1132.1 L1789.0 1132.8 L1790.0 1133.5 L1791.0 1134.2 L1792.0 1134.9 L1793.0 1135.5 L1794.0 1136.2 L1795.0 1136.9 L1796.0 1137.5 L1797.0 1138.1 L1798.0 1138.7 L1799.0 1139.3 L1800.0 1139.9 L1801.0 1140.4 L1802.0 1141.0 L1803.0 1141.5 L1804.0 1142.0 L1805.0 1142.5 L1806.0 1143.0 L1807.0 1143.5 L1808.0 1144.0 L1809.0 1144.5 L1810.0 1145.0 L1811.0 1145.5 L1812.0 1145.9 L1813.0 1146.4 L1814.0 1146.9 L1815.0 1147.3 L1816.0 1147.8 L1817.0 1148.3 L1818.0 1148.7 L1819.0 1149.2 L1820.0 1149.6 L1821.0 1150.1 L1822.0 1150.6 L1823.0 1151.0 L1824.0 1151.4 L1825.0 1151.9 L1826.0 1152.3 L1827.0 1152.8 L1828.0 1153.2 L1829.0 1153.6 L1830.0 1154.0 L1831.0 1154.4 L1832.0 1154.8 L1833.0 1155.2 L1834.0 1155.6 L1835.0 1156.0 L1836.0 1156.4 L1837.0 1156.8 L1838.0 1157.2 L1839.0 1157.5 L1840.0 1157.9 L1841.0 1158.2 L1842.0 1158.6 L1843.0 1158.9 L1844.0 1159.3 L1845.0 1159.6 L1846.0 1160.0 L1847.0 1160.3 L1848.0 1160.6 L1849.0 1161.0 L1850.0 1161.3 L1851.0 1161.6 L1852.0 1161.9 L1853.0 1162.2 L1854.0 1162.5 L1855.0 1162.8 L1856.0 1163.1 L1857.0 1163.4 L1858.0 1163.7 L1859.0 1164.0 L1860.0 1164.2 L1861.0 1164.5 L1862.0 1164.8 L1863.0 1165.1 L1864.0 1165.4 L1865.0 1165.6 L1866.0 1165.9 L1867.0 1166.2 L1868.0 1166.4 L1869.0 1166.7 L1870.0 1166.9 L1871.0 1167.2 L1872.0 1167.4 L1873.0 1167.6 L1874.0 1167.9 L1875.0 1168.1 L1876.0 1168.3 L1877.0 1168.5 L1878.0 1168.7 L1879.0 1168.9 L1880.0 1169.1 L1881.0 1169.3 L1882.0 1169.5 L1883.0 1169.7 L1884.0 1169.8 L1885.0 1170.0 L1886.0 1170.2 L1887.0 1170.3 L1888.0 1170.5 L1889.0 1170.7 L1890.0 1170.8 L1891.0 1171.0 L1892.0 1171.1 L1893.0 1171.3 L1894.0 1171.4 L1895.0 1171.6 L1896.0 1171.7 L1897.0 1171.8 L1898.0 1171.9 L1899.0 1172.1 L1900.0 1172.2 L1901.0 1172.3 L1902.0 1172.4 L1903.0 1172.5 L1904.0 1172.6 L1905.0 1172.7 L1906.0 1172.8 L1907.0 1172.9 L1908.0 1173.0 L1909.0 1173.1 L1910.0 1173.2 L1911.0 1173.3 L1912.0 1173.4 L1913.0 1173.5 L1914.0 1173.6 L1915.0 1173.6 L1916.0 1173.7 L1917.0 1173.8 L1918.0 1173.8 L1919.0 1173.9 L1920.0 1173.9 L1921.0 1174.0 L1922.0 1174.0 L1923.0 1174.0 L1924.0 1174.0 L1925.0 1174.0 L1926.0 1174.0 L1927.0 1173.9 L1928.0 1173.9 L1929.0 1173.9 L1930.0 1173.8 L1931.0 1173.7 L1932.0 1173.7 L1933.0 1173.6 L1934.0 1173.5 L1935.0 1173.5 L1936.0 1173.4 L1937.0 1173.3 L1938.0 1173.2 L1939.0 1173.2 L1940.0 1173.1 L1941.0 1173.0 L1942.0 1172.9 L1943.0 1172.9 L1944.0 1172.8 L1945.0 1172.7 L1946.0 1172.7 L1947.0 1172.6 L1948.0 1172.6 L1949.0 1172.6 L1950.0 1172.5 L1951.0 1172.5 L1952.0 1172.5 L1953.0 1172.5 L1954.0 1172.5 L1955.0 1172.5 L1956.0 1172.5 L1957.0 1172.5 L1958.0 1172.5 L1959.0 1172.5 L1960.0 1172.5 L1961.0 1172.5 L1962.0 1172.5 L1963.0 1172.5 L1964.0 1172.6 L1965.0 1172.6 L1966.0 1172.6 L1967.0 1172.6 L1968.0 1172.6 L1969.0 1172.6 L1970.0 1172.6 L1971.0 1172.6 L1972.0 1172.7 L1973.0 1172.7 L1974.0 1172.7 L1975.0 1172.7 L1976.0 1172.7 L1977.0 1172.7 L1978.0 1172.8 L1979.0 1172.8 L1980.0 1172.8 L1981.0 1172.8 L1982.0 1172.9 L1983.0 1172.9 L1984.0 1172.9 L1985.0 1172.9 L1986.0 1173.0 L1987.0 1173.0 L1988.0 1173.0 L1989.0 1173.1 L1990.0 1173.1 L1991.0 1173.2 L1992.0 1173.3 L1993.0 1173.5 L1994.0 1173.7 L1995.0 1173.9 L1996.0 1174.2 L1997.0 1174.5 L1998.0 1174.8 L1999.0 1175.1 L2000.0 1175.3 L2001.0 1175.6 L2002.0 1175.8 L2003.0 1175.9 L2004.0 1176.0 L2005.0 1176.0 L2006.0 1176.0 L2007.0 1176.0 L2008.0 1176.0 L2009.0 1176.0 L2010.0 1176.0 L2011.0 1176.0 L2012.0 1176.0 L2013.0 1176.0 L2014.0 1176.0 L2015.0 1176.0 L2016.0 1176.0 L2017.0 1176.0 L2018.0 1176.0 L2019.0 1176.0 L2020.0 1176.0 L2021.0 1176.0 L2022.0 1176.0 L2023.0 1176.0 L2024.0 1176.0 L2025.0 1176.0 L2026.0 1176.0 L2027.0 1176.0 L2028.0 1176.0 L2029.0 1176.0" fill="none" stroke="#0000ff" stroke-width="6.0" stroke-linejoin="round"/>
<path clip-path="url(#clip-c)" shape-rendering="crispEdges" d="M231.0 2732.0 L232.0 2732.0 L233.0 2732.0 L234.0 2731.9 L235.0 2731.9 L236.0 2731.8 L237.0 2731.7 L238.0 2731.6 L239.0 2731.6 L240.0 2731.5 L241.0 2731.3 L242.0 2731.2 L243.0 2731.1 L244.0 2731.0 L245.0 2730.8 L246.0 2730.6 L247.0 2730.4 L248.0 2730.2 L249.0 2729.9 L250.0 2729.6 L251.0 2729.3 L252.0 2729.0 L253.0 2728.7 L254.0 2728.4 L255.0 2728.1 L256.0 2727.8 L257.0 2727.5 L258.0 2727.1 L259.0 2726.7 L260.0 2726.3 L261.0 2725.9 L262.0 2725.5 L263.0 2725.1 L264.0 2724.7 L265.0 2724.3 L266.0 2724.0 L267.0 2723.7 L268.0 2723.5 L269.0 2723.2 L270.0 2723.0 L271.0 2722.9 L272.0 2722.7 L273.0 2722.5 L274.0 2722.3 L275.0 2722.0 L276.0 2721.7 L277.0 2721.4 L278.0 2721.0 L279.0 2720.4 L280.0 2719.6 L281.0 2718.6 L282.0 2717.5 L283.0 2716.2 L284.0 2714.8 L285.0 2713.4 L286.0 2711.9 L287.0 2710.1 L288.0 2708.2 L289.0 2706.1 L290.0 2703.8 L291.0 2701.5 L292.0 2699.1 L293.0 2696.5 L294.0 2693.7 L295.0 2690.8 L296.0 2687.9 L297.0 2684.9 L298.0 2681.7 L299.0 2678.5 L300.0 2675.1 L301.0 2671.8 L302.0 2668.5 L303.0 2665.4 L304.0 2662.4 L305.0 2659.4 L306.0 2656.5 L307.1 2653.5 L308.1 2650.6 L309.1 2647.6 L310.1 2644.5 L311.1 2641.3 L312.1 2638.1 L313.1 2634.8 L314.1 2631.5 L315.1 2628.2 L316.1 2625.0 L317.1 2621.9 L318.1 2619.0 L319.1 2616.3 L320.1 2613.7 L321.1 2611.1 L322.1 2608.5 L323.1 2605.7 L324.1 2602.6 L325.1 2599.2 L326.1 2595.6 L327.1 2591.7 L328.1 2587.6 L329.1 2583.3 L330.1 2578.9 L331.1 2574.3 L332.1 2569.2 L333.1 2564.0 L334.1 2558.7 L335.1 2553.7 L336.1 2549.0 L337.1 2544.7 L338.1 2540.5 L339.1 2536.5 L340.1 2532.6 L341.1 2528.8 L342.1 2525.2 L343.1 2521.7 L344.1 2518.4 L345.1 2515.1 L346.1 2511.9 L347.1 2508.8 L348.1 2505.8 L349.1 2502.8 L350.1 2499.8 L351.1 2496.8 L352.1 2493.9 L353.1 2491.1 L354.1 2488.6 L355.1 2486.4 L356.1 2484.2 L357.1 2482.2 L358.1 2480.3 L359.1 2478.6 L360.1 2477.4 L361.1 2476.5 L362.1 2475.8 L363.1 2475.1 L364.1 2474.6 L365.1 2474.2 L366.1 2474.0 L367.1 2474.1 L368.1 2474.4 L369.1 2474.9 L370.1 2475.6 L371.1 2476.4 L372.1 2477.3 L373.1 2478.4 L374.1 2480.0 L375.1 2482.0 L376.1 2484.2 L377.1 2486.5 L378.1 2488.7 L379.1 2490.9 L380.1 2493.3 L381.1 2495.7 L382.1 2498.3 L383.1 2501.0 L384.1 2503.9 L385.1 2507.1 L386.1 2510.5 L387.1 2514.1 L388.1 2517.8 L389.1 2521.5 L390.1 2525.1 L391.1 2528.8 L392.1 2532.6 L393.1 2536.4 L394.1 2540.2 L395.1 2543.9 L396.1 2547.6 L397.1 2551.1 L398.1 2554.5 L399.1 2557.7 L400.1 2560.7 L401.1 2563.7 L402.1 2566.6 L403.1 2569.4 L404.1 2572.2 L405.1 2574.9 L406.1 2577.6 L407.1 2580.3 L408.1 2583.0 L409.1 2585.8 L410.1 2588.6 L411.1 2591.3 L412.1 2594.0 L413.1 2596.7 L414.1 2599.4 L415.1 2602.0 L416.1 2604.6 L417.1 2607.1 L418.1 2609.6 L419.1 2612.0 L420.1 2614.5 L421.1 2616.9 L422.1 2619.3 L423.1 2621.6 L424.1 2623.8 L425.1 2626.0 L426.1 2628.1 L427.1 2630.2 L428.1 2632.1 L429.1 2634.0 L430.1 2635.8 L431.1 2637.6 L432.1 2639.3 L433.1 2641.0 L434.1 2642.7 L435.1 2644.3 L436.1 2645.8 L437.1 2647.4 L438.1 2648.8 L439.1 2650.3 L440.1 2651.7 L441.1 2653.0 L442.1 2654.3 L443.1 2655.6 L444.1 2656.9 L445.1 2658.2 L446.1 2659.4 L447.1 2660.7 L448.1 2661.9 L449.1 2663.2 L450.1 2664.4 L451.1 2665.7 L452.1 2667.0 L453.1 2668.3 L454.1 2669.7 L455.1 2671.0 L456.1 2672.4 L457.1 2673.7 L458.1 2675.1 L459.2 2676.5 L460.2 2677.8 L461.2 2679.1 L462.2 2680.4 L463.2 2681.7 L464.2 2683.0 L465.2 2684.2 L466.2 2685.3 L467.2 2686.4 L468.2 2687.6 L469.2 2688.7 L470.2 2689.7 L471.2 2690.8 L472.2 2691.8 L473.2 2692.9 L474.2 2693.8 L475.2 2694.8 L476.2 2695.7 L477.2 2696.5 L478.2 2697.3 L479.2 2698.1 L480.2 2698.8 L481.2 2699.5 L482.2 2700.1 L483.2 2700.7 L484.2 2701.3 L485.2 2702.0 L486.2 2702.6 L487.2 2703.3 L488.2 2704.1 L489.2 2704.9 L490.2 2705.7 L491.2 2706.6 L492.2 2707.4 L493.2 2708.2 L494.2 2708.9 L495.2 2709.5 L496.2 2710.0 L497.2 2710.4 L498.2 2710.7 L499.2 2711.0 L500.2 2711.3 L501.2 2711.5 L502.2 2711.7 L503.2 2711.9 L504.2 2712.1 L505.2 2712.3 L506.2 2712.5 L507.2 2712.7 L508.2 2712.9 L509.2 2713.1 L510.2 2713.3 L511.2 2713.5 L512.2 2713.7 L513.2 2713.9 L514.2 2714.1 L515.2 2714.3 L516.2 2714.4 L517.2 2714.6 L518.2 2714.8 L519.2 2715.0 L520.2 2715.2 L521.2 2715.4 L522.2 2715.6 L523.2 2715.8 L524.2 2716.1 L525.2 2716.3 L526.2 2716.6 L527.2 2716.9 L528.2 2717.2 L529.2 2717.5 L530.2 2717.9 L531.2 2718.2 L532.2 2718.5 L533.2 2718.7 L534.2 2718.9 L535.2 2719.0 L536.2 2719.0 L537.2 2719.0 L538.2 2719.0 L539.2 2719.0 L540.2 2719.0 L541.2 2719.0 L542.2 2719.0 L543.2 2719.0 L544.2 2719.0 L545.2 2719.0 L546.2 2719.0 L547.2 2719.0 L548.2 2719.0 L549.2 2719.0 L550.2 2719.0 L551.2 2719.0 L552.2 2719.1 L553.2 2719.2 L554.2 2719.3 L555.2 2719.5 L556.2 2719.7 L557.2 2719.9 L558.2 2720.2 L559.2 2720.4 L560.2 2720.7 L561.2 2721.0 L562.2 2721.2 L563.2 2721.5 L564.2 2721.7 L565.2 2721.9 L566.2 2722.2 L567.2 2722.5 L568.2 2722.8 L569.2 2723.1 L570.2 2723.4 L571.2 2723.7 L572.2 2724.1 L573.2 2724.4 L574.2 2724.7 L575.2 2725.0 L576.2 2725.3 L577.2 2725.5 L578.2 2725.7 L579.2 2725.9 L580.2 2726.1 L581.2 2726.2 L582.2 2726.2 L583.2 2726.1 L584.2 2725.9 L585.2 2725.6 L586.2 2725.2 L587.2 2724.7 L588.2 2724.1 L589.2 2723.4 L590.2 2722.8 L591.2 2722.1 L592.2 2721.4 L593.2 2720.8 L594.2 2720.3 L595.2 2719.7 L596.2 2719.1 L597.2 2718.4 L598.2 2717.8 L599.2 2717.1 L600.2 2716.4 L601.2 2715.7 L602.2 2715.0 L603.2 2714.4 L604.2 2713.8 L605.2 2713.2 L606.2 2712.7 L607.2 2712.2 L608.2 2711.8 L609.2 2711.5 L610.2 2711.2 L611.3 2710.9 L612.3 2710.7 L613.3 2710.5 L614.3 2710.4 L615.3 2710.2 L616.3 2710.0 L617.3 2709.7 L618.3 2709.5 L619.3 2709.1 L620.3 2708.7 L621.3 2708.2 L622.3 2707.5 L623.3 2706.6 L624.3 2705.6 L625.3 2704.5 L626.3 2703.2 L627.3 2701.8 L628.3 2700.1 L629.3 2697.8 L630.3 2695.0 L631.3 2691.9 L632.3 2688.7 L633.3 2685.4 L634.3 2682.0 L635.3 2678.3 L636.3 2674.3 L637.3 2670.1 L638.3 2665.7 L639.3 2661.1 L640.3 2656.3 L641.3 2651.1 L642.3 2645.5 L643.3 2639.4 L644.3 2632.6 L645.3 2625.0 L646.3 2616.8 L647.3 2608.2 L648.3 2599.2 L649.3 2589.6 L650.3 2579.5 L651.3 2568.9 L652.3 2557.9 L653.3 2546.2 L654.3 2533.9 L655.3 2521.5 L656.3 2508.8 L657.3 2495.6 L658.3 2481.9 L659.3 2468.1 L660.3 2452.5 L661.3 2432.4 L662.3 2406.2 L663.3 2379.7 L664.3 2354.2 L665.3 2326.4 L666.3 2294.3 L667.3 2260.1 L668.3 2224.7 L669.3 2190.9 L670.3 2158.0 L671.3 2121.0 L672.3 2077.8 L673.3 2044.8 L674.3 2020.1 L675.3 1997.2 L676.3 1971.2 L677.3 1942.0 L678.3 1912.9 L679.3 1885.4 L680.3 1857.8 L681.3 1834.4 L682.3 1818.5 L683.3 1806.3 L684.3 1796.7 L685.3 1789.7 L686.3 1783.0 L687.3 1788.5 L688.3 1793.8 L689.3 1800.4 L690.3 1808.1 L691.3 1817.7 L692.3 1830.3 L693.3 1851.6 L694.3 1879.3 L695.3 1907.4 L696.3 1934.9 L697.3 1963.9 L698.3 1995.1 L699.3 2029.5 L700.3 2062.5 L701.3 2091.3 L702.3 2119.2 L703.3 2149.1 L704.3 2181.2 L705.3 2214.1 L706.3 2248.7 L707.3 2282.4 L708.3 2311.1 L709.3 2336.9 L710.3 2360.7 L711.3 2382.9 L712.3 2403.6 L713.3 2423.5 L714.3 2443.3 L715.3 2464.2 L716.3 2485.7 L717.3 2505.3 L718.3 2520.3 L719.3 2532.1 L720.3 2542.3 L721.3 2551.3 L722.3 2559.5 L723.3 2567.3 L724.3 2574.6 L725.3 2581.3 L726.3 2587.5 L727.3 2593.5 L728.3 2599.2 L729.3 2604.7 L730.3 2610.1 L731.3 2615.1 L732.3 2619.9 L733.3 2624.4 L734.3 2628.5 L735.3 2632.4 L736.3 2636.1 L737.3 2639.7 L738.3 2643.1 L739.3 2646.3 L740.3 2649.5 L741.3 2652.4 L742.3 2655.3 L743.3 2658.0 L744.3 2660.8 L745.3 2663.4 L746.3 2666.0 L747.3 2668.5 L748.3 2670.8 L749.3 2673.0 L750.3 2674.9 L751.3 2676.6 L752.3 2678.1 L753.3 2679.5 L754.3 2680.8 L755.3 2682.0 L756.3 2683.1 L757.3 2684.2 L758.3 2685.2 L759.3 2686.2 L760.3 2687.2 L761.3 2688.2 L762.3 2689.3 L763.3 2690.3 L764.3 2691.4 L765.3 2692.5 L766.3 2693.6 L767.3 2694.6 L768.3 2695.6 L769.3 2696.4 L770.3 2697.1 L771.3 2697.6 L772.3 2698.0 L773.3 2698.3 L774.3 2698.7 L775.3 2699.0 L776.3 2699.2 L777.3 2699.4 L778.3 2699.5 L779.3 2699.5 L780.3 2699.5 L781.3 2699.4 L782.3 2699.4 L783.3 2699.3 L784.3 2699.2 L785.3 2699.1 L786.3 2698.9 L787.3 2698.8 L788.4 2698.7 L789.4 2698.5 L790.4 2698.4 L791.4 2698.2 L792.4 2698.1 L793.4 2697.9 L794.4 2697.6 L795.4 2697.3 L796.4 2697.0 L797.4 2696.7 L798.4 2696.3 L799.4 2696.0 L800.4 2695.7 L801.4 2695.5 L802.4 2695.3 L803.4 2695.2 L804.4 2695.2 L805.4 2695.2 L806.4 2695.1 L807.4 2695.1 L808.4 2695.1 L809.4 2695.1 L810.4 2695.1 L811.4 2695.1 L812.4 2695.1 L813.4 2695.0 L814.4 2695.0 L815.4 2695.0 L816.4 2695.0 L817.4 2695.0 L818.4 2695.0 L819.4 2695.0 L820.4 2694.9 L821.4 2694.9 L822.4 2694.6 L823.4 2694.2 L824.4 2693.5 L825.4 2692.7 L826.4 2691.8 L827.4 2690.8 L828.4 2689.8 L829.4 2688.9 L830.4 2688.0 L831.4 2687.1 L832.4 2686.1 L833.4 2685.1 L834.4 2684.1 L835.4 2682.9 L836.4 2681.8 L837.4 2680.5 L838.4 2679.1 L839.4 2677.7 L840.4 2676.1 L841.4 2674.3 L842.4 2672.3 L843.4 2670.1 L844.4 2667.7 L845.4 2665.2 L846.4 2662.6 L847.4 2659.9 L848.4 2657.2 L849.4 2654.5 L850.4 2651.7 L851.4 2648.9 L852.4 2645.9 L853.4 2642.7 L854.4 2639.2 L855.4 2635.5 L856.4 2631.3 L857.4 2626.5 L858.4 2621.0 L859.4 2615.1 L860.4 2608.9 L861.4 2602.6 L862.4 2595.9 L863.4 2588.8 L864.4 2581.2 L865.4 2572.9 L866.4 2563.8 L867.4 2553.8 L868.4 2543.2 L869.4 2532.2 L870.4 2520.3 L871.4 2508.0 L872.4 2495.9 L873.4 2483.7 L874.4 2471.7 L875.4 2460.3 L876.4 2449.1 L877.4 2438.5 L878.4 2428.7 L879.4 2419.7 L880.4 2411.2 L881.4 2403.2 L882.4 2395.6 L883.4 2387.6 L884.4 2380.5 L885.4 2375.4 L886.4 2372.5 L887.4 2370.4 L888.4 2368.0 L889.4 2365.5 L890.4 2363.0 L891.4 2365.3 L892.4 2367.5 L893.4 2369.8 L894.4 2371.8 L895.4 2373.7 L896.4 2376.5 L897.4 2382.5 L898.4 2392.1 L899.4 2401.7 L900.4 2410.5 L901.4 2419.3 L902.4 2428.1 L903.4 2436.9 L904.4 2445.6 L905.4 2454.3 L906.4 2462.9 L907.5 2471.5 L908.5 2479.9 L909.5 2488.5 L910.5 2497.0 L911.5 2505.0 L912.5 2512.1 L913.5 2518.5 L914.5 2524.5 L915.5 2530.1 L916.5 2535.4 L917.5 2540.2 L918.5 2544.7 L919.5 2549.0 L920.5 2553.0 L921.5 2556.8 L922.5 2560.4 L923.5 2563.8 L924.5 2566.9 L925.5 2569.9 L926.5 2572.6 L927.5 2575.1 L928.5 2577.5 L929.5 2579.7 L930.5 2581.9 L931.5 2584.0 L932.5 2586.3 L933.5 2588.6 L934.5 2591.1 L935.5 2593.6 L936.5 2596.2 L937.5 2598.8 L938.5 2601.4 L939.5 2604.1 L940.5 2606.9 L941.6 2609.6 L942.6 2612.4 L943.6 2615.3 L944.6 2618.3 L945.6 2621.4 L946.6 2624.6 L947.6 2627.7 L948.6 2630.8 L949.6 2633.8 L950.6 2636.7 L951.6 2639.4 L952.6 2642.0 L953.6 2644.5 L954.6 2646.9 L955.6 2649.3 L956.6 2651.6 L957.6 2653.9 L958.6 2656.0 L959.6 2658.2 L960.6 2660.2 L961.6 2662.2 L962.6 2664.2 L963.6 2666.1 L964.6 2668.0 L965.6 2669.8 L966.6 2671.6 L967.6 2673.4 L968.6 2675.0 L969.6 2676.6 L970.6 2678.1 L971.6 2679.6 L972.6 2681.0 L973.6 2682.4 L974.6 2683.8 L975.7 2685.2 L976.7 2686.5 L977.7 2687.8 L978.7 2689.0 L979.7 2690.1 L980.7 2691.1 L981.7 2691.9 L982.7 2692.5 L983.7 2693.0 L984.7 2693.4 L985.7 2693.7 L986.7 2693.9 L987.7 2694.2 L988.7 2694.4 L989.7 2694.6 L990.7 2694.8 L991.7 2695.0 L992.7 2695.2 L993.7 2695.4 L994.7 2695.7 L995.7 2696.1 L996.7 2696.5 L997.7 2697.0 L998.7 2697.6 L999.7 2698.1 L1000.7 2698.4 L1001.7 2698.7 L1002.7 2698.7 L1003.7 2698.6 L1004.7 2698.5 L1005.7 2698.3 L1006.7 2698.1 L1007.7 2697.9 L1008.8 2697.8 L1009.8 2697.8 L1010.8 2698.0 L1011.8 2698.4 L1012.8 2699.0 L1013.8 2699.6 L1014.8 2700.3 L1015.8 2700.9 L1016.8 2701.3 L1017.8 2701.6 L1018.8 2701.6 L1019.8 2701.6 L1020.8 2701.5 L1021.8 2701.5 L1022.8 2701.4 L1023.8 2701.3 L1024.8 2701.2 L1025.8 2701.0 L1026.8 2700.9 L1027.8 2700.8 L1028.8 2700.6 L1029.8 2700.5 L1030.8 2700.4 L1031.8 2700.2 L1032.8 2700.1 L1033.8 2700.0 L1034.8 2699.8 L1035.8 2699.7 L1036.8 2699.5 L1037.8 2699.3 L1038.8 2699.2 L1039.8 2699.0 L1040.8 2698.8 L1041.8 2698.6 L1042.9 2698.4 L1043.9 2698.2 L1044.9 2698.1 L1045.9 2697.9 L1046.9 2697.7 L1047.9 2697.5 L1048.9 2697.4 L1049.9 2697.2 L1050.9 2697.1 L1051.9 2696.9 L1052.9 2696.8 L1053.9 2696.6 L1054.9 2696.5 L1055.9 2696.3 L1056.9 2696.2 L1057.9 2696.0 L1058.9 2695.8 L1059.9 2695.7 L1060.9 2695.6 L1061.9 2695.4 L1062.9 2695.3 L1063.9 2695.2 L1064.9 2695.1 L1065.9 2695.0 L1066.9 2694.9 L1067.9 2694.9 L1068.9 2694.8 L1069.9 2694.8 L1070.9 2694.7 L1071.9 2694.7 L1072.9 2694.7 L1073.9 2694.6 L1074.9 2694.6 L1075.9 2694.6 L1077.0 2694.6 L1078.0 2694.5 L1079.0 2694.5 L1080.0 2694.4 L1081.0 2694.4 L1082.0 2694.3 L1083.0 2694.2 L1084.0 2694.0 L1085.0 2693.8 L1086.0 2693.6 L1087.0 2693.3 L1088.0 2692.9 L1089.0 2692.6 L1090.0 2692.2 L1091.0 2691.8 L1092.0 2691.4 L1093.0 2691.0" fill="none" stroke="#0000ff" stroke-width="6.0" stroke-linejoin="round"/>
<path clip-path="url(#clip-d)" shape-rendering="crispEdges" d="M1170.0 2732.0 L1171.0 2732.0 L1172.0 2732.0 L1173.0 2732.0 L1174.0 2731.9 L1175.0 2731.9 L1176.0 2731.8 L1177.0 2731.8 L1178.0 2731.7 L1179.0 2731.7 L1180.0 2731.6 L1181.0 2731.5 L1182.0 2731.4 L1183.0 2731.4 L1184.0 2731.3 L1185.0 2731.2 L1186.0 2731.1 L1187.0 2731.0 L1188.0 2730.9 L1189.0 2730.8 L1190.0 2730.6 L1191.0 2730.5 L1192.0 2730.3 L1193.0 2730.1 L1194.0 2729.9 L1195.0 2729.7 L1196.1 2729.5 L1197.1 2729.3 L1198.1 2729.0 L1199.1 2728.7 L1200.1 2728.3 L1201.1 2727.9 L1202.1 2727.4 L1203.1 2726.9 L1204.1 2726.4 L1205.1 2725.8 L1206.1 2725.2 L1207.1 2724.6 L1208.1 2724.0 L1209.1 2723.4 L1210.1 2722.9 L1211.1 2722.3 L1212.1 2721.7 L1213.1 2721.1 L1214.1 2720.5 L1215.1 2719.9 L1216.1 2719.1 L1217.1 2718.3 L1218.1 2717.4 L1219.1 2716.3 L1220.1 2715.0 L1221.1 2713.5 L1222.1 2711.9 L1223.1 2710.1 L1224.1 2708.2 L1225.1 2706.1 L1226.1 2703.6 L1227.1 2701.0 L1228.1 2698.3 L1229.1 2695.6 L1230.1 2692.9 L1231.1 2690.2 L1232.1 2687.4 L1233.1 2684.5 L1234.1 2681.6 L1235.1 2678.7 L1236.1 2675.9 L1237.1 2673.1 L1238.1 2670.3 L1239.1 2667.5 L1240.1 2664.7 L1241.1 2661.9 L1242.1 2659.2 L1243.1 2656.4 L1244.1 2653.6 L1245.1 2650.8 L1246.2 2648.0 L1247.2 2645.2 L1248.2 2642.5 L1249.2 2639.6 L1250.2 2636.8 L1251.2 2633.8 L1252.2 2630.8 L1253.2 2627.7 L1254.2 2624.6 L1255.2 2621.4 L1256.2 2618.2 L1257.2 2614.9 L1258.2 2611.6 L1259.2 2608.3 L1260.2 2604.9 L1261.2 2601.6 L1262.2 2598.1 L1263.2 2594.5 L1264.2 2590.7 L1265.2 2586.7 L1266.2 2582.3 L1267.2 2577.8 L1268.2 2573.1 L1269.2 2568.4 L1270.2 2563.8 L1271.2 2559.3 L1272.2 2554.8 L1273.2 2550.3 L1274.2 2545.8 L1275.2 2541.3 L1276.2 2536.8 L1277.2 2532.2 L1278.2 2527.5 L1279.2 2522.8 L1280.2 2518.3 L1281.2 2514.0 L1282.2 2510.1 L1283.2 2506.3 L1284.2 2502.7 L1285.2 2499.2 L1286.2 2495.9 L1287.2 2492.6 L1288.2 2489.3 L1289.2 2486.1 L1290.2 2482.9 L1291.2 2479.9 L1292.2 2477.0 L1293.2 2474.4 L1294.2 2472.0 L1295.2 2469.6 L1296.2 2467.4 L1297.3 2465.4 L1298.3 2463.7 L1299.3 2462.3 L1300.3 2461.1 L1301.3 2460.0 L1302.3 2458.9 L1303.3 2458.0 L1304.3 2457.4 L1305.3 2457.1 L1306.3 2457.2 L1307.3 2457.5 L1308.3 2457.9 L1309.3 2458.6 L1310.3 2459.3 L1311.3 2460.1 L1312.3 2461.0 L1313.3 2462.1 L1314.3 2463.7 L1315.3 2465.5 L1316.3 2467.5 L1317.3 2469.6 L1318.3 2471.7 L1319.3 2473.9 L1320.3 2476.4 L1321.3 2478.9 L1322.3 2481.5 L1323.3 2484.2 L1324.3 2487.0 L1325.3 2489.8 L1326.3 2492.6 L1327.3 2495.6 L1328.3 2498.7 L1329.3 2502.0 L1330.3 2505.6 L1331.3 2509.4 L1332.3 2513.4 L1333.3 2517.6 L1334.3 2521.8 L1335.3 2525.9 L1336.3 2530.0 L1337.3 2534.1 L1338.3 2538.2 L1339.3 2542.2 L1340.3 2546.1 L1341.3 2549.8 L1342.3 2553.2 L1343.3 2556.5 L1344.3 2559.7 L1345.3 2562.7 L1346.3 2565.8 L1347.4 2568.9 L1348.4 2572.0 L1349.4 2575.3 L1350.4 2578.5 L1351.4 2581.8 L1352.4 2585.1 L1353.4 2588.4 L1354.4 2591.6 L1355.4 2594.7 L1356.4 2597.7 L1357.4 2600.6 L1358.4 2603.5 L1359.4 2606.3 L1360.4 2609.0 L1361.4 2611.7 L1362.4 2614.4 L1363.4 2617.0 L1364.4 2619.5 L1365.4 2622.1 L1366.4 2624.5 L1367.4 2627.0 L1368.4 2629.3 L1369.4 2631.6 L1370.4 2633.8 L1371.4 2636.0 L1372.4 2638.2 L1373.4 2640.3 L1374.4 2642.3 L1375.4 2644.4 L1376.4 2646.4 L1377.4 2648.3 L1378.4 2650.2 L1379.4 2652.0 L1380.4 2653.7 L1381.4 2655.4 L1382.4 2657.0 L1383.4 2658.6 L1384.4 2660.1 L1385.4 2661.6 L1386.4 2663.0 L1387.4 2664.5 L1388.4 2665.9 L1389.4 2667.3 L1390.4 2668.8 L1391.4 2670.3 L1392.4 2671.8 L1393.4 2673.3 L1394.4 2674.9 L1395.4 2676.5 L1396.4 2678.1 L1397.4 2679.7 L1398.5 2681.2 L1399.5 2682.6 L1400.5 2683.9 L1401.5 2685.1 L1402.5 2686.3 L1403.5 2687.4 L1404.5 2688.4 L1405.5 2689.5 L1406.5 2690.5 L1407.5 2691.4 L1408.5 2692.4 L1409.5 2693.3 L1410.5 2694.2 L1411.5 2695.1 L1412.5 2696.0 L1413.5 2696.8 L1414.5 2697.7 L1415.5 2698.5 L1416.5 2699.3 L1417.5 2700.1 L1418.5 2700.9 L1419.5 2701.7 L1420.5 2702.4 L1421.5 2703.1 L1422.5 2703.7 L1423.5 2704.3 L1424.5 2704.9 L1425.5 2705.5 L1426.5 2706.0 L1427.5 2706.6 L1428.5 2707.1 L1429.5 2707.7 L1430.5 2708.2 L1431.5 2708.7 L1432.5 2709.1 L1433.5 2709.6 L1434.5 2710.0 L1435.5 2710.3 L1436.5 2710.6 L1437.5 2710.9 L1438.5 2711.1 L1439.5 2711.4 L1440.5 2711.5 L1441.5 2711.7 L1442.5 2711.9 L1443.5 2712.0 L1444.5 2712.1 L1445.5 2712.3 L1446.5 2712.4 L1447.5 2712.5 L1448.5 2712.6 L1449.6 2712.7 L1450.6 2712.9 L1451.6 2713.0 L1452.6 2713.2 L1453.6 2713.3 L1454.6 2713.5 L1455.6 2713.6 L1456.6 2713.8 L1457.6 2714.0 L1458.6 2714.2 L1459.6 2714.3 L1460.6 2714.5 L1461.6 2714.7 L1462.6 2714.9 L1463.6 2715.0 L1464.6 2715.2 L1465.6 2715.4 L1466.6 2715.7 L1467.6 2715.9 L1468.6 2716.2 L1469.6 2716.5 L1470.6 2716.7 L1471.6 2716.9 L1472.6 2717.2 L1473.6 2717.3 L1474.6 2717.4 L1475.6 2717.5 L1476.6 2717.5 L1477.6 2717.5 L1478.6 2717.5 L1479.6 2717.5 L1480.6 2717.5 L1481.6 2717.5 L1482.6 2717.5 L1483.6 2717.5 L1484.6 2717.5 L1485.6 2717.5 L1486.6 2717.5 L1487.6 2717.5 L1488.6 2717.5 L1489.6 2717.5 L1490.6 2717.5 L1491.6 2717.5 L1492.6 2717.5 L1493.6 2717.5 L1494.6 2717.5 L1495.6 2717.5 L1496.6 2717.5 L1497.6 2717.5 L1498.6 2717.4 L1499.7 2717.3 L1500.7 2717.2 L1501.7 2717.1 L1502.7 2716.9 L1503.7 2716.7 L1504.7 2716.5 L1505.7 2716.3 L1506.7 2716.1 L1507.7 2715.9 L1508.7 2715.7 L1509.7 2715.5 L1510.7 2715.2 L1511.7 2715.0 L1512.7 2714.7 L1513.7 2714.4 L1514.7 2714.1 L1515.7 2713.8 L1516.7 2713.4 L1517.7 2713.0 L1518.7 2712.6 L1519.7 2712.2 L1520.7 2711.8 L1521.7 2711.4 L1522.7 2711.0 L1523.7 2710.5 L1524.7 2710.0 L1525.7 2709.4 L1526.7 2708.8 L1527.7 2708.2 L1528.7 2707.6 L1529.7 2707.0 L1530.7 2706.5 L1531.7 2706.0 L1532.7 2705.6 L1533.7 2705.4 L1534.7 2705.2 L1535.7 2705.0 L1536.7 2704.8 L1537.7 2704.7 L1538.7 2704.6 L1539.7 2704.5 L1540.7 2704.3 L1541.7 2704.2 L1542.7 2704.2 L1543.7 2704.1 L1544.7 2704.0 L1545.7 2703.9 L1546.7 2703.8 L1547.7 2703.7 L1548.7 2703.7 L1549.7 2703.6 L1550.8 2703.6 L1551.8 2703.5 L1552.8 2703.5 L1553.8 2703.4 L1554.8 2703.4 L1555.8 2703.3 L1556.8 2703.2 L1557.8 2703.1 L1558.8 2703.0 L1559.8 2702.7 L1560.8 2702.2 L1561.8 2701.5 L1562.8 2700.7 L1563.8 2699.7 L1564.8 2698.5 L1565.8 2697.3 L1566.8 2695.8 L1567.8 2693.7 L1568.8 2691.2 L1569.8 2688.4 L1570.8 2685.4 L1571.8 2682.4 L1572.8 2679.4 L1573.8 2676.1 L1574.8 2672.6 L1575.8 2669.0 L1576.8 2665.2 L1577.8 2661.2 L1578.8 2657.1 L1579.8 2652.8 L1580.8 2648.0 L1581.8 2642.6 L1582.8 2636.1 L1583.8 2628.4 L1584.8 2619.9 L1585.8 2611.1 L1586.8 2601.9 L1587.8 2592.1 L1588.8 2581.4 L1589.8 2569.6 L1590.8 2556.5 L1591.8 2542.7 L1592.8 2528.7 L1593.8 2514.6 L1594.8 2500.0 L1595.8 2485.0 L1596.8 2469.7 L1597.8 2453.8 L1598.8 2436.5 L1599.8 2416.8 L1600.9 2396.0 L1601.9 2376.6 L1602.9 2358.3 L1603.9 2338.0 L1604.9 2315.3 L1605.9 2288.2 L1606.9 2252.2 L1607.9 2210.2 L1608.9 2168.9 L1609.9 2127.2 L1610.9 2089.9 L1611.9 2057.2 L1612.9 2022.8 L1613.9 1983.6 L1614.9 1945.6 L1615.9 1910.2 L1616.9 1878.0 L1617.9 1848.8 L1618.9 1821.5 L1619.9 1800.5 L1620.9 1787.3 L1621.9 1777.1 L1622.9 1769.0 L1623.9 1762.8 L1624.9 1758.0 L1625.9 1753.0 L1626.9 1758.0 L1627.9 1762.8 L1628.9 1769.1 L1629.9 1777.2 L1630.9 1787.4 L1631.9 1800.8 L1632.9 1823.0 L1633.9 1851.1 L1634.9 1878.1 L1635.9 1902.1 L1636.9 1926.5 L1638.0 1953.5 L1639.0 1986.0 L1640.0 2021.1 L1641.0 2055.0 L1642.0 2088.7 L1643.0 2122.5 L1644.0 2156.3 L1645.0 2190.1 L1646.0 2224.5 L1647.0 2257.8 L1648.0 2289.1 L1649.0 2319.2 L1650.0 2347.3 L1651.0 2372.4 L1652.0 2395.3 L1653.0 2416.6 L1654.0 2437.3 L1655.0 2458.3 L1656.0 2480.1 L1657.0 2500.3 L1658.0 2516.7 L1659.0 2529.1 L1660.1 2539.7 L1661.1 2549.0 L1662.1 2557.4 L1663.1 2565.4 L1664.1 2572.9 L1665.1 2579.8 L1666.1 2586.3 L1667.1 2592.3 L1668.1 2597.8 L1669.1 2602.9 L1670.1 2607.7 L1671.1 2612.2 L1672.1 2616.5 L1673.1 2620.7 L1674.1 2624.8 L1675.1 2628.8 L1676.1 2632.8 L1677.1 2636.7 L1678.1 2640.4 L1679.1 2644.0 L1680.1 2647.3 L1681.1 2650.3 L1682.1 2653.2 L1683.2 2656.0 L1684.2 2658.6 L1685.2 2661.2 L1686.2 2663.6 L1687.2 2665.8 L1688.2 2667.9 L1689.2 2669.8 L1690.2 2671.4 L1691.2 2672.9 L1692.2 2674.3 L1693.2 2675.6 L1694.2 2676.8 L1695.2 2677.9 L1696.2 2679.0 L1697.2 2680.0 L1698.2 2681.0 L1699.2 2681.9 L1700.2 2682.7 L1701.2 2683.6 L1702.2 2684.4 L1703.2 2685.3 L1704.2 2686.1 L1705.3 2686.9 L1706.3 2687.7 L1707.3 2688.4 L1708.3 2688.9 L1709.3 2689.4 L1710.3 2689.8 L1711.3 2690.0 L1712.3 2690.0 L1713.3 2690.0 L1714.3 2690.1 L1715.3 2690.1 L1716.3 2690.1 L1717.3 2690.1 L1718.3 2690.2 L1719.3 2690.2 L1720.3 2690.2 L1721.3 2690.2 L1722.3 2690.2 L1723.3 2690.2 L1724.3 2690.2 L1725.3 2690.3 L1726.3 2690.3 L1727.3 2690.3 L1728.4 2690.3 L1729.4 2690.3 L1730.4 2690.3 L1731.4 2690.3 L1732.4 2690.3 L1733.4 2690.3 L1734.4 2690.3 L1735.4 2690.3 L1736.4 2690.3 L1737.4 2690.3 L1738.4 2690.3 L1739.4 2690.3 L1740.4 2690.3 L1741.4 2690.3 L1742.4 2690.3 L1743.4 2690.3 L1744.4 2690.3 L1745.4 2690.2 L1746.4 2690.2 L1747.4 2690.2 L1748.4 2690.2 L1749.4 2690.2 L1750.4 2690.2 L1751.5 2690.2 L1752.5 2690.1 L1753.5 2690.1 L1754.5 2690.1 L1755.5 2690.1 L1756.5 2690.0 L1757.5 2690.0 L1758.5 2690.0 L1759.5 2689.7 L1760.5 2689.1 L1761.5 2688.4 L1762.5 2687.4 L1763.5 2686.4 L1764.5 2685.2 L1765.5 2684.1 L1766.5 2683.1 L1767.5 2682.1 L1768.5 2681.1 L1769.5 2680.1 L1770.5 2679.1 L1771.5 2678.0 L1772.5 2676.9 L1773.6 2675.7 L1774.6 2674.4 L1775.6 2673.1 L1776.6 2671.7 L1777.6 2670.2 L1778.6 2668.6 L1779.6 2666.9 L1780.6 2665.0 L1781.6 2663.0 L1782.6 2660.8 L1783.6 2658.6 L1784.6 2656.3 L1785.6 2653.9 L1786.6 2651.4 L1787.6 2648.8 L1788.6 2645.9 L1789.6 2642.9 L1790.6 2639.7 L1791.6 2636.2 L1792.6 2632.5 L1793.6 2628.3 L1794.6 2623.7 L1795.6 2618.8 L1796.7 2613.6 L1797.7 2608.3 L1798.7 2602.8 L1799.7 2597.0 L1800.7 2590.9 L1801.7 2584.3 L1802.7 2577.0 L1803.7 2569.2 L1804.7 2560.8 L1805.7 2552.0 L1806.7 2542.9 L1807.7 2533.0 L1808.7 2522.7 L1809.7 2512.3 L1810.7 2501.5 L1811.7 2490.5 L1812.7 2479.5 L1813.7 2468.5 L1814.7 2457.4 L1815.7 2446.7 L1816.7 2436.5 L1817.7 2426.3 L1818.8 2416.9 L1819.8 2409.1 L1820.8 2402.3 L1821.8 2396.0 L1822.8 2390.5 L1823.8 2386.0 L1824.8 2382.7 L1825.8 2380.3 L1826.8 2378.2 L1827.8 2375.8 L1828.8 2373.4 L1829.8 2371.0 L1830.8 2373.4 L1831.8 2375.8 L1832.8 2378.1 L1833.8 2380.2 L1834.8 2382.3 L1835.8 2385.2 L1836.8 2391.1 L1837.8 2400.5 L1838.8 2410.3 L1839.8 2419.5 L1840.8 2429.1 L1841.8 2438.7 L1842.8 2448.0 L1843.8 2457.0 L1844.8 2465.8 L1845.8 2474.4 L1846.8 2482.9 L1847.8 2491.1 L1848.8 2499.4 L1849.8 2507.7 L1850.8 2515.5 L1851.8 2522.6 L1852.8 2528.6 L1853.8 2534.0 L1854.8 2539.0 L1855.8 2543.5 L1856.8 2547.5 L1857.8 2551.2 L1858.8 2554.6 L1859.8 2557.7 L1860.8 2560.7 L1861.8 2563.5 L1862.8 2566.2 L1863.8 2568.7 L1864.8 2571.2 L1865.8 2573.5 L1866.8 2575.7 L1867.8 2577.7 L1868.8 2579.6 L1869.8 2581.5 L1870.8 2583.3 L1871.8 2585.1 L1872.8 2587.0 L1873.8 2589.0 L1874.8 2591.1 L1875.8 2593.4 L1876.8 2595.9 L1877.8 2598.7 L1878.8 2601.6 L1879.8 2604.5 L1880.9 2607.5 L1881.9 2610.4 L1882.9 2613.2 L1883.9 2616.0 L1884.9 2618.7 L1885.9 2621.5 L1886.9 2624.2 L1887.9 2626.9 L1888.9 2629.5 L1889.9 2632.1 L1890.9 2634.7 L1891.9 2637.2 L1892.9 2639.7 L1893.9 2642.2 L1894.9 2644.6 L1895.9 2647.0 L1896.9 2649.4 L1897.9 2651.7 L1898.9 2653.9 L1899.9 2655.9 L1900.9 2657.9 L1901.9 2659.9 L1902.9 2661.8 L1903.9 2663.6 L1904.9 2665.5 L1905.9 2667.2 L1906.9 2668.9 L1907.9 2670.5 L1908.9 2671.9 L1909.9 2673.3 L1910.9 2674.6 L1911.9 2675.9 L1912.9 2677.1 L1913.9 2678.4 L1914.9 2679.5 L1915.9 2680.7 L1916.9 2681.7 L1917.9 2682.7 L1918.9 2683.6 L1919.9 2684.4 L1920.9 2685.0 L1921.9 2685.6 L1922.9 2686.0 L1923.9 2686.3 L1924.9 2686.7 L1925.9 2687.0 L1926.9 2687.2 L1927.9 2687.5 L1928.9 2687.7 L1929.9 2687.9 L1930.9 2688.1 L1931.9 2688.3 L1932.9 2688.6 L1933.9 2688.8 L1934.9 2689.1 L1935.9 2689.3 L1936.9 2689.6 L1937.9 2689.9 L1938.9 2690.2 L1939.9 2690.4 L1940.9 2690.7 L1941.9 2691.0 L1942.9 2691.3 L1943.9 2691.5 L1944.9 2691.8 L1945.9 2692.1 L1946.9 2692.4 L1947.9 2692.7 L1948.9 2693.1 L1949.9 2693.5 L1950.9 2693.9 L1951.9 2694.3 L1952.9 2694.7 L1953.9 2695.0 L1954.9 2695.3 L1955.9 2695.6 L1956.9 2695.7 L1957.9 2695.8 L1958.9 2695.8 L1959.9 2695.7 L1960.9 2695.7 L1961.9 2695.6 L1962.9 2695.4 L1963.9 2695.3 L1964.9 2695.1 L1965.9 2694.9 L1966.9 2694.7 L1967.9 2694.5 L1968.9 2694.3 L1969.9 2694.1 L1970.9 2694.0 L1971.9 2693.8 L1972.9 2693.7 L1973.9 2693.5 L1974.9 2693.4 L1975.9 2693.3 L1976.9 2693.1 L1977.9 2693.0 L1978.9 2692.9 L1979.9 2692.8 L1980.9 2692.7 L1982.0 2692.5 L1983.0 2692.4 L1984.0 2692.3 L1985.0 2692.1 L1986.0 2692.0 L1987.0 2691.9 L1988.0 2691.7 L1989.0 2691.6 L1990.0 2691.4 L1991.0 2691.3 L1992.0 2691.1 L1993.0 2690.9 L1994.0 2690.7 L1995.0 2690.5 L1996.0 2690.3 L1997.0 2690.2 L1998.0 2689.9 L1999.0 2689.7 L2000.0 2689.5 L2001.0 2689.3 L2002.0 2689.1 L2003.0 2688.9 L2004.0 2688.7 L2005.0 2688.5 L2006.0 2688.2 L2007.0 2688.0 L2008.0 2687.8 L2009.0 2687.6 L2010.0 2687.4 L2011.0 2687.1 L2012.0 2686.9 L2013.0 2686.7 L2014.0 2686.4 L2015.0 2686.2 L2016.0 2686.0 L2017.0 2685.7 L2018.0 2685.5 L2019.0 2685.3 L2020.0 2685.0 L2021.0 2684.8 L2022.0 2684.5 L2023.0 2684.3 L2024.0 2684.1 L2025.0 2683.8 L2026.0 2683.6 L2027.0 2683.3 L2028.0 2683.0 L2029.0 2682.8 L2030.0 2682.5 L2031.0 2682.3 L2032.0 2682.0" fill="none" stroke="#0000ff" stroke-width="6.0" stroke-linejoin="round"/>
<g fill="none" stroke="#000" shape-rendering="crispEdges">
<rect x="230.5" y="30.5" width="859.0" height="1289.0" stroke-width="5"/>
<path d="M337.5 1319.5 V1333.5" stroke-width="5"/>
<path d="M660.0 1319.5 V1333.5" stroke-width="5"/>
<path d="M982.5 1319.5 V1333.5" stroke-width="5"/>
<path d="M267.0 222.0 V343.0" stroke-width="4"/>
<rect x="1167.5" y="30.5" width="860.0" height="1289.0" stroke-width="5"/>
<path d="M1275.3 1319.5 V1333.5" stroke-width="5"/>
<path d="M1597.3 1319.5 V1333.5" stroke-width="5"/>
<path d="M1919.2 1319.5 V1333.5" stroke-width="5"/>
<path d="M1211.0 229.0 V329.0" stroke-width="4"/>
<rect x="232.5" y="1569.5" width="859.0" height="1288.0" stroke-width="5"/>
<path d="M346.5 2857.5 V2871.5" stroke-width="5"/>
<path d="M633.0 2857.5 V2871.5" stroke-width="5"/>
<path d="M919.5 2857.5 V2871.5" stroke-width="5"/>
<path d="M270.9 1770.0 V1910.5" stroke-width="4"/>
<rect x="1171.5" y="1569.5" width="859.0" height="1288.0" stroke-width="5"/>
<path d="M1286.0 2857.5 V2871.5" stroke-width="5"/>
<path d="M1572.0 2857.5 V2871.5" stroke-width="5"/>
<path d="M1858.0 2857.5 V2871.5" stroke-width="5"/>
<path d="M1206.1 1770.0 V1910.5" stroke-width="4"/>
</g>
<g filter="url(#bin)">
<text transform="matrix(0.7389 0 0 0.8652 285.44 139.86)" font-weight="bold">a</text>
<text transform="matrix(0.8454 0 0 0.8960 1227.23 140.32)" font-weight="bold">b</text>
<text transform="matrix(0.7237 0 0 0.8506 285.07 1690.77)" font-weight="bold">c</text>
<text transform="matrix(0.8633 0 0 0.8919 1217.66 1690.73)" font-weight="bold">d</text>
<text transform="matrix(0.6013 0 0 0.5932 313.65 301.42)" font-weight="normal">0.1</text>
<text transform="matrix(0.6120 0 0 0.5989 1256.51 301.82)" font-weight="normal">0.1</text>
<text transform="matrix(0.6059 0 0 0.6017 317.33 1861.81)" font-weight="normal">0.1</text>
<text transform="matrix(0.6059 0 0 0.6017 1253.03 1861.81)" font-weight="normal">0.1</text>
<text transform="matrix(0.7258 0 0 0.8765 443.05 385.60)" font-weight="normal">L</text>
<text transform="matrix(0.7122 0 0 0.8721 1392.16 346.50)" font-weight="normal">L</text>
<text transform="matrix(0.7190 0 0 0.8707 876.80 2281.50)" font-weight="normal">L</text>
<text transform="matrix(0.7190 0 0 0.8663 1815.20 2281.30)" font-weight="normal">L</text>
<text transform="matrix(0.7628 0 0 0.8605 556.74 785.40)" font-weight="normal">B</text>
<text transform="matrix(0.7346 0 0 0.8648 1509.17 671.30)" font-weight="normal">B</text>
<text transform="matrix(0.7478 0 0 0.8721 350.97 2374.50)" font-weight="normal">B</text>
<text transform="matrix(0.7459 0 0 0.8721 1290.18 2374.50)" font-weight="normal">B</text>
<text transform="matrix(0.8673 0 0 0.8751 236.34 1446.30)" font-weight="normal">2340</text>
<text transform="matrix(0.8702 0 0 0.8751 561.12 1446.30)" font-weight="normal">2280</text>
<text transform="matrix(0.8617 0 0 0.8751 886.57 1446.30)" font-weight="normal">2220</text>
<text transform="matrix(0.8645 0 0 0.8751 1180.55 1446.30)" font-weight="normal">2340</text>
<text transform="matrix(0.8702 0 0 0.8751 1504.72 1446.30)" font-weight="normal">2280</text>
<text transform="matrix(0.8617 0 0 0.8751 1830.77 1446.30)" font-weight="normal">2220</text>
<text transform="matrix(0.8642 0 0 0.8879 255.22 2985.20)" font-weight="normal">1550</text>
<text transform="matrix(0.8718 0 0 0.8879 536.76 2985.20)" font-weight="normal">1500</text>
<text transform="matrix(0.8666 0 0 0.8879 817.80 2985.20)" font-weight="normal">1450</text>
<text transform="matrix(0.8751 0 0 0.8879 1193.23 2985.20)" font-weight="normal">1550</text>
<text transform="matrix(0.8747 0 0 0.8879 1474.94 2985.20)" font-weight="normal">1500</text>
<text transform="matrix(0.8723 0 0 0.8879 1756.56 2985.20)" font-weight="normal">1450</text>
<text transform="matrix(0.7995 0 0 0.8837 0.00 408.90)" x="988.28 1055.26 1114.76 1153.25 1228.29">B2-NH<tspan x="1303.26" dy="26.39" font-size="67.3">3</tspan></text>
<text transform="matrix(0.7862 0 0 0.8650 0.00 408.90)" x="2233.31 2301.06 2362.71 2394.96 2459.03 2489.83">B2-air</text>
<text transform="matrix(0.7995 0 0 0.8837 0.00 1942.90)" x="988.28 1055.26 1114.76 1153.25 1228.29">B2-NH<tspan x="1303.26" dy="26.39" font-size="67.3">3</tspan></text>
<text transform="matrix(0.7862 0 0 0.8650 0.00 1942.90)" x="2233.31 2301.06 2362.71 2394.96 2459.03 2489.83">B2-air</text>
<text transform="matrix(0.8437 0 0 0.8550 0.00 3136.60)" x="882.75 971.30 1029.63 1079.19 1137.99 1196.93 1258.26 1346.68 1404.92 1464.22 1497.52 1525.77 1560.67 1613.49">Wavenumber (cm<tspan x="1699.95 1722.62" dy="-33.45" font-size="68.8">-1</tspan><tspan x="1764.30" dy="33.45" font-size="100.0">)</tspan></text>
<text transform="translate(113.00 1799.90) rotate(-90) scale(0.7992 0.8730)" x="-0.75 70.42 127.82 178.59 243.19 283.26 340.19 403.43 462.81 514.90 570.52 600.67 635.24 696.70 729.15 789.17 823.94">Absorbance (a.u.)</text>
</g>
</svg></body></html>
